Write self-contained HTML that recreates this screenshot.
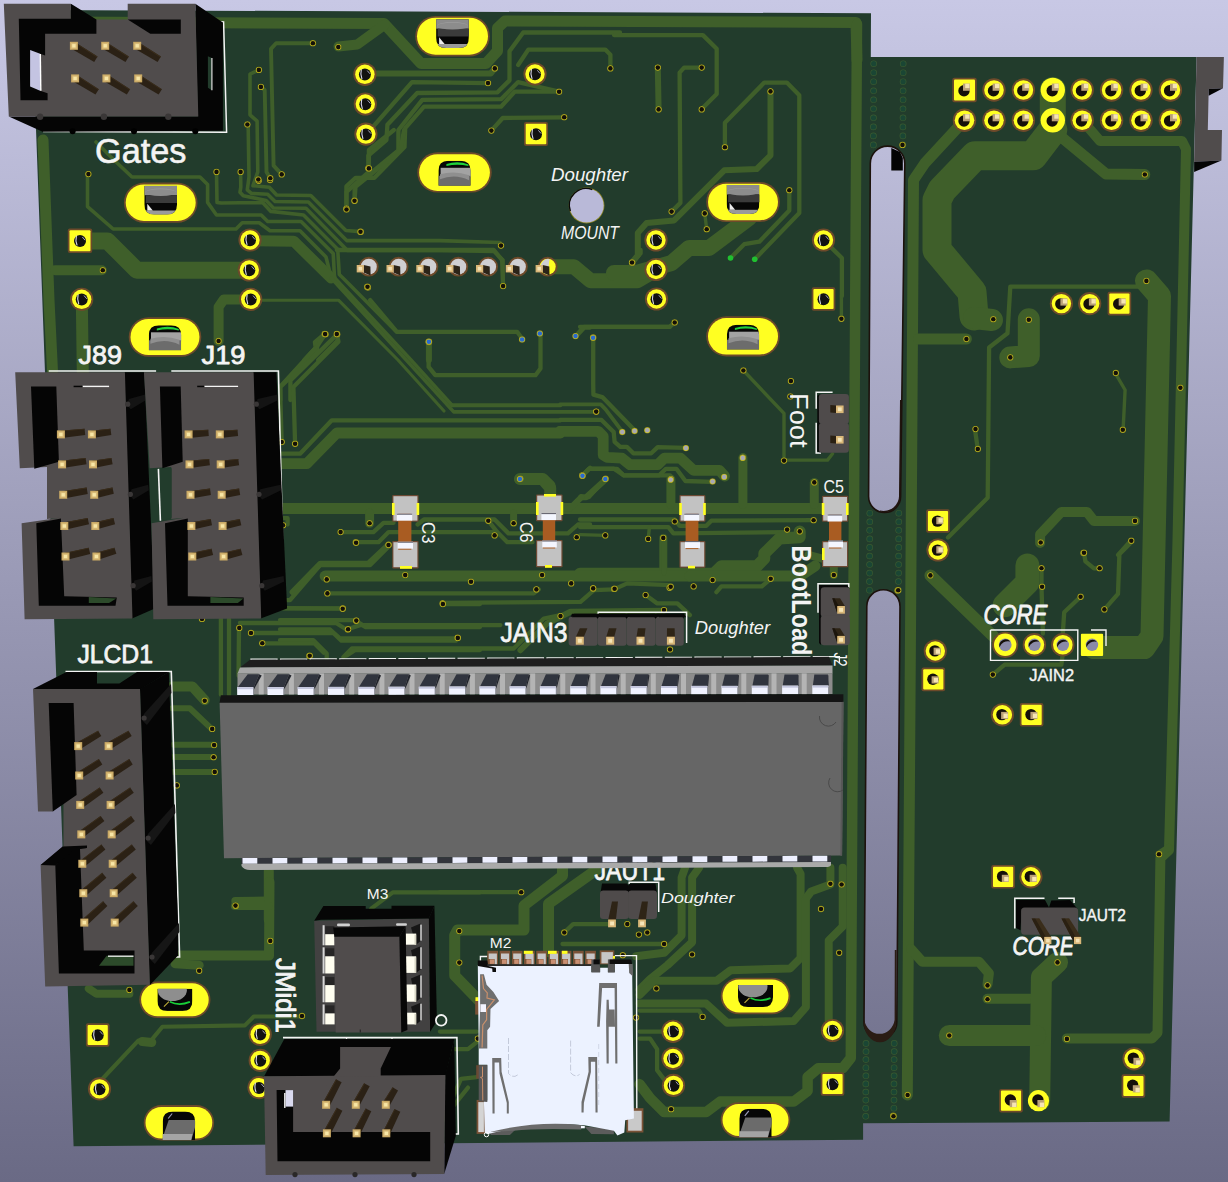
<!DOCTYPE html>
<html><head><meta charset="utf-8"><title>PCB 3D view</title>
<style>
html,body{margin:0;padding:0;background:#8a8aa8;overflow:hidden}
svg{display:block;font-family:"Liberation Sans",sans-serif}
</style></head><body>
<svg width="1228" height="1182" viewBox="0 0 1228 1182">
<defs>
<linearGradient id="bg" x1="0" y1="0" x2="0" y2="1"><stop offset="0" stop-color="#c8c8e5"/><stop offset="1" stop-color="#6a6a85"/></linearGradient>
<linearGradient id="slotg" x1="0" y1="0" x2="0" y2="1"><stop offset="0" stop-color="#c8c8e5"/><stop offset="1" stop-color="#6a6a85"/></linearGradient>
</defs>
<rect x="0" y="0" width="1228" height="1182" fill="url(#bg)"/>
<path d="M31.6,10 L871,13.3 L870.8,57 L1196.6,57 L1169.6,1121.6 L863.1,1123.2 L863.1,1139.7 L73.6,1146.3 Z M870.3,163.4 A17.2,17.2 0 0 1 904.8,163.4 L900.6,496.5 A16,16 0 0 1 868.6,496.5 Z M866.8,606.4 A16.6,16.6 0 0 1 900,606.4 L896.8,1022.2 A16.4,16.4 0 0 1 864,1022.2 Z" fill="#223c2c" fill-rule="evenodd"/>
<path d="M870.3,163.4 A17.2,17.2 0 0 1 904.8,163.4 L900.6,496.5 A16,16 0 0 1 868.6,496.5 Z" fill="none" stroke="#1c120c" stroke-width="1.6"/>
<path d="M866.8,606.4 A16.6,16.6 0 0 1 900,606.4 L896.8,1022.2 A16.4,16.4 0 0 1 864,1022.2 Z" fill="none" stroke="#1c120c" stroke-width="1.6"/>
<polygon points="891.3,148 900,152 902.8,158 902.8,170.6 891.3,170.6" fill="#030303"/>
<path d="M863.6,1022 A16.1,20 0 0 0 896.2,1022 L896.6,950 L894.8,950 L894.6,1020 A15.3,16.5 0 0 1 864.4,1020 Z" fill="#2a1c14"/>
<path d="M880,511.5 A16,15.5 0 0 0 900.6,497 L901.6,400 L900,400 L899,495 A15.4,15 0 0 1 880,510.5 Z" fill="#20140e"/>
<polyline points="60,22 384,23.5 421,63.5 486,63.5 497.5,51 497.5,28 505,21 856,22.5 857,60" fill="none" stroke="#3f5f2a" stroke-width="11" stroke-linejoin="round" stroke-linecap="round"/>
<polyline points="384.7,24.6 357.3,44.5 338.5,46.5" fill="none" stroke="#3f5f2a" stroke-width="10" stroke-linejoin="round" stroke-linecap="round"/>
<polyline points="376.1,73.5 490.7,73.5 494.8,68.4" fill="none" stroke="#3f5f2a" stroke-width="6" stroke-linejoin="round" stroke-linecap="round"/>
<polyline points="372.7,127.2 412,82.1 488,83.1" fill="none" stroke="#3f5f2a" stroke-width="4.3" stroke-linejoin="round" stroke-linecap="round"/>
<polyline points="368.3,168.3 368.3,155.6 386.4,140.2 387.4,124.8 417.2,93 497.5,92.3 509.5,80.4 509.5,51.3 523.2,32.5 620,32.5" fill="none" stroke="#3f5f2a" stroke-width="4.3" stroke-linejoin="round" stroke-linecap="round"/>
<polyline points="354.6,200.8 354.6,186.4 398.4,150.5 398.4,130 422.3,99.9 501,99.2 518.1,82.1 559.1,91.7" fill="none" stroke="#3f5f2a" stroke-width="4.3" stroke-linejoin="round" stroke-linecap="round"/>
<polyline points="346.4,208.6 346.4,186.4 355.6,177.8 374.4,177.8 404.5,147.1 405.2,128.2 424,106.7 501,106.7 514.6,91.7 559.1,91.7" fill="none" stroke="#3f5f2a" stroke-width="4.3" stroke-linejoin="round" stroke-linecap="round"/>
<polyline points="491.4,130.6 502.7,118 564.2,117.3" fill="none" stroke="#3f5f2a" stroke-width="4.3" stroke-linejoin="round" stroke-linecap="round"/>
<polyline points="518.1,65 528.3,49.6 605.3,49.6 610.4,54.7 610.4,68.4" fill="none" stroke="#3f5f2a" stroke-width="4.3" stroke-linejoin="round" stroke-linecap="round"/>
<polyline points="43,140 49,300 52.5,371" fill="none" stroke="#3f5f2a" stroke-width="11" stroke-linejoin="round" stroke-linecap="round"/>
<polyline points="91.8,240.9 107.5,240.9 136.8,270.2 240.4,270.2" fill="none" stroke="#3f5f2a" stroke-width="17" stroke-linejoin="round" stroke-linecap="round"/>
<polyline points="55,270.2 101.8,270.2" fill="none" stroke="#3f5f2a" stroke-width="10" stroke-linejoin="round" stroke-linecap="round"/>
<polyline points="81.8,299.6 82.8,373.7" fill="none" stroke="#3f5f2a" stroke-width="12" stroke-linejoin="round" stroke-linecap="round"/>
<polyline points="251,299.6 223.7,299.6 218.6,307 218.6,341" fill="none" stroke="#3f5f2a" stroke-width="10" stroke-linejoin="round" stroke-linecap="round"/>
<polyline points="368.9,168.4 368.9,150 393.9,130" fill="none" stroke="#3f5f2a" stroke-width="4.3" stroke-linejoin="round" stroke-linecap="round"/>
<polyline points="354.5,200.8 355.5,186.8 400.6,150 404,130" fill="none" stroke="#3f5f2a" stroke-width="4.3" stroke-linejoin="round" stroke-linecap="round"/>
<polyline points="346.5,209.5 346.5,191.8 367.2,173.4" fill="none" stroke="#3f5f2a" stroke-width="4.3" stroke-linejoin="round" stroke-linecap="round"/>
<polyline points="325.5,334.3 317.1,343.7 317.1,350.4 280.4,387.1 280.4,400.1" fill="none" stroke="#3f5f2a" stroke-width="4.3" stroke-linejoin="round" stroke-linecap="round"/>
<polyline points="337.2,334.3 290.4,380.4 290.4,400.1" fill="none" stroke="#3f5f2a" stroke-width="4.3" stroke-linejoin="round" stroke-linecap="round"/>
<polyline points="312.9,43.3 276.1,43.3 271,48.9 273.6,165.6 281.7,174.4" fill="none" stroke="#3f5f2a" stroke-width="3.9" stroke-linejoin="round" stroke-linecap="round"/>
<polyline points="258.9,69.9 250,74.2 250,114.8 257.1,121.2 257.8,171.9 253,185.7 269.3,187.3 276.6,195 310.8,195.5 345.9,230.5 360.5,231.6" fill="none" stroke="#3f5f2a" stroke-width="3.6" stroke-linejoin="round" stroke-linecap="round"/>
<polyline points="260.9,86.9 264.7,90 266.5,171.9 270.3,178.3" fill="none" stroke="#3f5f2a" stroke-width="3.9" stroke-linejoin="round" stroke-linecap="round"/>
<polyline points="247.4,124.5 248.2,127.5 249,177 247.3,189.8 251.4,193.4 267.7,194.2 275,201.5 308.4,202 346.7,240.6 440,240.6 500,242.5" fill="none" stroke="#3f5f2a" stroke-width="3.6" stroke-linejoin="round" stroke-linecap="round"/>
<polyline points="240.6,171.9 240.8,187.1 240,192.2 243.3,195.8 266.1,200.4 273.4,208 306,208.3 347.5,250.4 440,250.4 494,251.5 503,260 503,285" fill="none" stroke="#3f5f2a" stroke-width="3.6" stroke-linejoin="round" stroke-linecap="round"/>
<polyline points="216.5,171.9 217,202.4 221,203 240,202.8 262.8,202.8 270.9,211.4 303.5,215 337.7,249.2 339.3,274.5 344.2,279.3 396.4,331.8 440,331.8" fill="none" stroke="#3f5f2a" stroke-width="3.6" stroke-linejoin="round" stroke-linecap="round"/>
<polyline points="96,142 114,160 132,177 200,177 207.6,184.6 207.6,202.4 216.5,215 240,215 261.2,215 267.7,221.5 301.1,221.5 333.2,253.6 334.5,277.7 411,360 452,405.3" fill="none" stroke="#3f5f2a" stroke-width="3.6" stroke-linejoin="round" stroke-linecap="round"/>
<polyline points="87.5,174 87.5,206.6 113.2,229 236,229 242.2,222.7 259.2,222.7 270,230.8 300,230.8 326,257 331,277" fill="none" stroke="#3f5f2a" stroke-width="3.6" stroke-linejoin="round" stroke-linecap="round"/>
<polyline points="250.6,240.6 293.7,241.2 327.9,274.8 331.2,278" fill="none" stroke="#3f5f2a" stroke-width="11" stroke-linejoin="round" stroke-linecap="round"/>
<polyline points="331.2,278 453.7,411.9 595.6,411.9" fill="none" stroke="#3f5f2a" stroke-width="3.6" stroke-linejoin="round" stroke-linecap="round"/>
<polyline points="250.6,300.2 338.5,300.2 398,360 444,411" fill="none" stroke="#3f5f2a" stroke-width="3.1" stroke-linejoin="round" stroke-linecap="round"/>
<polyline points="452,405.3 560.5,405.3 560,404.4 600.7,404.4 605.6,409.3 622.7,432.1" fill="none" stroke="#3f5f2a" stroke-width="3.9" stroke-linejoin="round" stroke-linecap="round"/>
<polyline points="370.2,300.1 396.9,331.8 517.1,331.8 522.1,338.5" fill="none" stroke="#3f5f2a" stroke-width="4.3" stroke-linejoin="round" stroke-linecap="round"/>
<polyline points="324.7,333.9 314.9,342.1 315.7,347.8 304.3,360" fill="none" stroke="#3f5f2a" stroke-width="4.3" stroke-linejoin="round" stroke-linecap="round"/>
<polyline points="336.9,333.9 337.7,340.4 318.2,360" fill="none" stroke="#3f5f2a" stroke-width="4.3" stroke-linejoin="round" stroke-linecap="round"/>
<polyline points="428.9,341.7 428.9,360" fill="none" stroke="#3f5f2a" stroke-width="6" stroke-linejoin="round" stroke-linecap="round"/>
<polyline points="281.7,463.7 306.7,463.7 336.8,433 560.5,433 560,431.3 598.3,431.3 603.2,436.2 603.2,454.9 607.2,457.4 621.9,458.2 630,464.7 657.7,464.7 664.2,458.2 680.5,458.2 693.6,470.4 719.6,470.4 724.5,476.1" fill="none" stroke="#3f5f2a" stroke-width="10.8" stroke-linejoin="round" stroke-linecap="round"/>
<polyline points="281.7,453.7 300.1,453.7 331.8,420.3 560.5,420.3 560,419.9 601.5,419.9 613.7,432.1 614.6,441.9 620.3,446.8 626.8,446.8 633.3,453.3 651.2,453.3 657.7,447.1 685.4,447.8" fill="none" stroke="#3f5f2a" stroke-width="4.3" stroke-linejoin="round" stroke-linecap="round"/>
<polyline points="428.6,341.8 428.6,366.9 435.3,375.2 535.5,375.2 540.5,368.5 540.5,333.5" fill="none" stroke="#3f5f2a" stroke-width="4.3" stroke-linejoin="round" stroke-linecap="round"/>
<polyline points="325.1,334.1 316.8,346.8 280,386.9 281.7,442" fill="none" stroke="#3f5f2a" stroke-width="4.3" stroke-linejoin="round" stroke-linecap="round"/>
<polyline points="336.8,334.1 338.5,341.8 293.4,386.9 295.1,443.7" fill="none" stroke="#3f5f2a" stroke-width="4.3" stroke-linejoin="round" stroke-linecap="round"/>
<polyline points="575.5,336.1 583.9,326.8 670,326.8" fill="none" stroke="#3f5f2a" stroke-width="4.3" stroke-linejoin="round" stroke-linecap="round"/>
<polyline points="593.2,337.5 593.2,383.6 593.4,394.7 602.3,397.1 634.9,430.5" fill="none" stroke="#3f5f2a" stroke-width="4.3" stroke-linejoin="round" stroke-linecap="round"/>
<polyline points="547.1,266.7 573.9,266.7 590.6,280.7 637.3,280.7 655.7,270" fill="none" stroke="#3f5f2a" stroke-width="15" stroke-linejoin="round" stroke-linecap="round"/>
<polyline points="336.8,250 493.7,250 502.1,260 503.1,286.1" fill="none" stroke="#3f5f2a" stroke-width="4.3" stroke-linejoin="round" stroke-linecap="round"/>
<polyline points="520.4,478.7 543.8,478.7 550.5,485.4 551.2,497.1" fill="none" stroke="#3f5f2a" stroke-width="10" stroke-linejoin="round" stroke-linecap="round"/>
<polyline points="582.2,475.4 588.9,468.7 613.9,468.7 623.9,475.4 670,475.4" fill="none" stroke="#3f5f2a" stroke-width="4.3" stroke-linejoin="round" stroke-linecap="round"/>
<polyline points="605.6,478.7 588.9,497.1 582.2,497.1" fill="none" stroke="#3f5f2a" stroke-width="4.3" stroke-linejoin="round" stroke-linecap="round"/>
<polyline points="632.3,262.7 640.6,253.3 640.6,250" fill="none" stroke="#3f5f2a" stroke-width="4.3" stroke-linejoin="round" stroke-linecap="round"/>
<polyline points="282,508.6 848,508.6" fill="none" stroke="#3f5f2a" stroke-width="11" stroke-linejoin="round" stroke-linecap="round"/>
<polyline points="280,518.2 287.6,518.2 287.6,524.5" fill="none" stroke="#3f5f2a" stroke-width="4.3" stroke-linejoin="round" stroke-linecap="round"/>
<polyline points="369.6,523.3 369.6,513.2" fill="none" stroke="#3f5f2a" stroke-width="9" stroke-linejoin="round" stroke-linecap="round"/>
<polyline points="340.6,532.1 373.4,532.1 383.5,522.8 393.6,522.8" fill="none" stroke="#3f5f2a" stroke-width="4.3" stroke-linejoin="round" stroke-linecap="round"/>
<polyline points="355.8,542.2 378.5,542.2 388.6,532.1 497.2,532.1 507.3,542.2 532.5,542.2" fill="none" stroke="#3f5f2a" stroke-width="4.3" stroke-linejoin="round" stroke-linecap="round"/>
<polyline points="417.6,524.5 423.9,519.5 494.6,519.5 508.5,533.4 567.9,533.4 578,524.5 590.1,524.5" fill="none" stroke="#3f5f2a" stroke-width="4.3" stroke-linejoin="round" stroke-linecap="round"/>
<polyline points="388.6,544.7 368.4,563.7 320.4,563.7 292.6,592.2" fill="none" stroke="#3f5f2a" stroke-width="6" stroke-linejoin="round" stroke-linecap="round"/>
<polyline points="488.3,520.7 497.2,532.1" fill="none" stroke="#3f5f2a" stroke-width="4.3" stroke-linejoin="round" stroke-linecap="round"/>
<polyline points="513.6,523.3 513.6,513.2" fill="none" stroke="#3f5f2a" stroke-width="7" stroke-linejoin="round" stroke-linecap="round"/>
<polyline points="519.9,479.1 542.6,479.1 550.2,487.9 550.2,496" fill="none" stroke="#3f5f2a" stroke-width="12" stroke-linejoin="round" stroke-linecap="round"/>
<polyline points="581.8,475.8 590.1,467.7" fill="none" stroke="#3f5f2a" stroke-width="4.3" stroke-linejoin="round" stroke-linecap="round"/>
<polyline points="576.7,335.9 584.3,327.6 590.1,327.6" fill="none" stroke="#3f5f2a" stroke-width="4.3" stroke-linejoin="round" stroke-linecap="round"/>
<polyline points="857,24 855.2,300 852.9,700 850.8,1058 842.7,1068.3 818.2,1068.3 807.6,1077.1 807.6,1091.1 793.6,1101.6 720.1,1101.6 706.1,1112.1 664.1,1112.1 650.1,1098.1 639.6,1084.1" fill="none" stroke="#3f5f2a" stroke-width="10.5" stroke-linejoin="round" stroke-linecap="round"/>
<polyline points="674.7,322.5 669.6,326.8 580,326.8" fill="none" stroke="#3f5f2a" stroke-width="4.3" stroke-linejoin="round" stroke-linecap="round"/>
<polyline points="670.9,479.1 670.9,504.3" fill="none" stroke="#3f5f2a" stroke-width="9" stroke-linejoin="round" stroke-linecap="round"/>
<polyline points="742.9,457.6 742.9,504.3" fill="none" stroke="#3f5f2a" stroke-width="9" stroke-linejoin="round" stroke-linecap="round"/>
<polyline points="814.3,482.4 814.3,504.3" fill="none" stroke="#3f5f2a" stroke-width="9" stroke-linejoin="round" stroke-linecap="round"/>
<polyline points="743.4,370.5 784,413.4 784,460.1 827.5,460.1 832.5,453.8" fill="none" stroke="#3f5f2a" stroke-width="3.4" stroke-linejoin="round" stroke-linecap="round"/>
<polyline points="580,519.5 674.7,519.5 679.7,525.8 706.3,525.8 711.3,520.7 813.6,520.2" fill="none" stroke="#3f5f2a" stroke-width="4.3" stroke-linejoin="round" stroke-linecap="round"/>
<polyline points="580,527.1 668.4,527.1 673.4,533.4 787.1,532.1" fill="none" stroke="#3f5f2a" stroke-width="4.3" stroke-linejoin="round" stroke-linecap="round"/>
<polyline points="799.7,531.4 799.7,537.2 779.5,538.4 764.3,553.6 764.3,558.6 756.8,566.2 721.4,566.2 713.8,573.8 580,573.8" fill="none" stroke="#3f5f2a" stroke-width="12" stroke-linejoin="round" stroke-linecap="round"/>
<polyline points="663.3,537.9 663.3,571.3" fill="none" stroke="#3f5f2a" stroke-width="8" stroke-linejoin="round" stroke-linecap="round"/>
<polyline points="648.2,538.9 649.4,527.1" fill="none" stroke="#3f5f2a" stroke-width="3.4" stroke-linejoin="round" stroke-linecap="round"/>
<polyline points="605.3,535.4 580,534.6" fill="none" stroke="#3f5f2a" stroke-width="3.4" stroke-linejoin="round" stroke-linecap="round"/>
<polyline points="833.8,575 833.8,567.5" fill="none" stroke="#3f5f2a" stroke-width="8" stroke-linejoin="round" stroke-linecap="round"/>
<polyline points="808.5,554.8 822.4,558.6" fill="none" stroke="#3f5f2a" stroke-width="8" stroke-linejoin="round" stroke-linecap="round"/>
<polyline points="841.4,296 841.4,318.7" fill="none" stroke="#3f5f2a" stroke-width="3.4" stroke-linejoin="round" stroke-linecap="round"/>
<polyline points="770.7,578.8 761.8,586.4 721.4,586.4 716.4,592.2" fill="none" stroke="#3f5f2a" stroke-width="4.3" stroke-linejoin="round" stroke-linecap="round"/>
<polyline points="582.8,475.3 589.3,468.8 617,468.8 623.5,475.3 659.3,475.3 665.9,468.8 676.4,468.8 685.4,481 712.3,481.8" fill="none" stroke="#3f5f2a" stroke-width="4.3" stroke-linejoin="round" stroke-linecap="round"/>
<polyline points="605.9,479.3 586.1,497.3 581.2,497.3" fill="none" stroke="#3f5f2a" stroke-width="6" stroke-linejoin="round" stroke-linecap="round"/>
<polyline points="581.2,497.3 569.8,508.7 545,508.6" fill="none" stroke="#3f5f2a" stroke-width="6" stroke-linejoin="round" stroke-linecap="round"/>
<circle cx="596.2" cy="411.8" r="3" fill="#c8a020"/>
<polyline points="614,35.1 702.9,35.1 716.7,48.8 716.7,93.9 701.7,108.9" fill="none" stroke="#3f5f2a" stroke-width="4.3" stroke-linejoin="round" stroke-linecap="round"/>
<polyline points="657.8,67.6 658.6,109.4" fill="none" stroke="#3f5f2a" stroke-width="6" stroke-linejoin="round" stroke-linecap="round"/>
<polyline points="701.7,67.6 684.1,67.6 679.6,72.6 680.4,202.9 671.6,211.6" fill="none" stroke="#3f5f2a" stroke-width="4.3" stroke-linejoin="round" stroke-linecap="round"/>
<polyline points="770.5,91.4 770.5,155.3 756.7,169 724.2,170.3 674.1,220.4 646.6,222.9 637.8,232.9 637.8,255.4 632,262.5" fill="none" stroke="#3f5f2a" stroke-width="6" stroke-linejoin="round" stroke-linecap="round"/>
<polyline points="724.9,147.3 724.9,122.7 764.3,82.6 786.8,82.6 799.3,95.2 799.3,212.9 755.5,258.5" fill="none" stroke="#3f5f2a" stroke-width="4.3" stroke-linejoin="round" stroke-linecap="round"/>
<polyline points="789.3,190.3 789.3,210.4 759.3,241.7 744.2,244.2 730.5,258" fill="none" stroke="#3f5f2a" stroke-width="4.3" stroke-linejoin="round" stroke-linecap="round"/>
<polyline points="704.7,213.4 706.7,229.2" fill="none" stroke="#3f5f2a" stroke-width="3.4" stroke-linejoin="round" stroke-linecap="round"/>
<polyline points="614,273 636.5,273 671.6,263 689.1,247.9 709.2,247.9 749.2,217.9" fill="none" stroke="#3f5f2a" stroke-width="16" stroke-linejoin="round" stroke-linecap="round"/>
<polyline points="823.9,240.4 841.9,258 841.9,296" fill="none" stroke="#3f5f2a" stroke-width="4.3" stroke-linejoin="round" stroke-linecap="round"/>
<polyline points="325.1,576.1 690,576.1" fill="none" stroke="#3f5f2a" stroke-width="11" stroke-linejoin="round" stroke-linecap="round"/>
<polyline points="690,576 800,576 815,566" fill="none" stroke="#3f5f2a" stroke-width="11" stroke-linejoin="round" stroke-linecap="round"/>
<polyline points="326.7,593.4 533.8,593.4 538.8,589.4" fill="none" stroke="#3f5f2a" stroke-width="4.3" stroke-linejoin="round" stroke-linecap="round"/>
<polyline points="441.9,602.8 580.5,601.8 593.9,590.1 613.9,589.4" fill="none" stroke="#3f5f2a" stroke-width="4.3" stroke-linejoin="round" stroke-linecap="round"/>
<polyline points="280,600.1 290,600.1 320.1,565 370.2,565 390.2,545" fill="none" stroke="#3f5f2a" stroke-width="4.3" stroke-linejoin="round" stroke-linecap="round"/>
<polyline points="280,608.4 341.8,608.4" fill="none" stroke="#3f5f2a" stroke-width="4.3" stroke-linejoin="round" stroke-linecap="round"/>
<polyline points="280,620.1 355.1,620.1" fill="none" stroke="#3f5f2a" stroke-width="4.3" stroke-linejoin="round" stroke-linecap="round"/>
<polyline points="346.8,629.5 360.1,625.1 500.4,625.1" fill="none" stroke="#3f5f2a" stroke-width="4.3" stroke-linejoin="round" stroke-linecap="round"/>
<polyline points="280,629.5 330.1,629.5 340.1,638.5 457,638.5" fill="none" stroke="#3f5f2a" stroke-width="4.3" stroke-linejoin="round" stroke-linecap="round"/>
<polyline points="280,640.2 313.4,640.2 326.7,653.5 326.7,669.9" fill="none" stroke="#3f5f2a" stroke-width="4.3" stroke-linejoin="round" stroke-linecap="round"/>
<polyline points="343.4,656.9 351.8,648.5 513.7,648.5 543.8,618.5 560.5,615.1" fill="none" stroke="#3f5f2a" stroke-width="4.3" stroke-linejoin="round" stroke-linecap="round"/>
<polyline points="520.4,650.2 547.1,623.5 570.5,611.8 664,610.8" fill="none" stroke="#3f5f2a" stroke-width="6" stroke-linejoin="round" stroke-linecap="round"/>
<polyline points="645.6,595.1 657.3,603.4 677.3,603.4 690,615.1" fill="none" stroke="#3f5f2a" stroke-width="4.3" stroke-linejoin="round" stroke-linecap="round"/>
<polyline points="613.9,589.4 627.2,583.4 670.7,585.1" fill="none" stroke="#3f5f2a" stroke-width="4.3" stroke-linejoin="round" stroke-linecap="round"/>
<polyline points="664,543.3 664,573.4" fill="none" stroke="#3f5f2a" stroke-width="4.3" stroke-linejoin="round" stroke-linecap="round"/>
<polyline points="440,892.2 521.2,892.2" fill="none" stroke="#3f5f2a" stroke-width="4.3" stroke-linejoin="round" stroke-linecap="round"/>
<polyline points="562.5,867.7 562.5,875.8 524,905.5 524,930 457.5,930 454.7,935.3 454.7,975.5 478.5,1000.1" fill="none" stroke="#3f5f2a" stroke-width="11" stroke-linejoin="round" stroke-linecap="round"/>
<polyline points="599.3,867.7 548.5,903.8 548.5,951.7" fill="none" stroke="#3f5f2a" stroke-width="11" stroke-linejoin="round" stroke-linecap="round"/>
<polyline points="564.3,932.5 573.1,924.1 608.1,924.1" fill="none" stroke="#3f5f2a" stroke-width="4.3" stroke-linejoin="round" stroke-linecap="round"/>
<polyline points="562.5,944 664.1,944" fill="none" stroke="#3f5f2a" stroke-width="4.3" stroke-linejoin="round" stroke-linecap="round"/>
<polyline points="685.1,867.7 681.6,877.5 681.6,935.3 664.1,952.8 636.1,956.3" fill="none" stroke="#3f5f2a" stroke-width="8" stroke-linejoin="round" stroke-linecap="round"/>
<polyline points="699.1,867.7 692.1,877.5 692.1,942.3 667.6,965 650.1,979 639.6,989.6" fill="none" stroke="#3f5f2a" stroke-width="8" stroke-linejoin="round" stroke-linecap="round"/>
<polyline points="797.1,867.7 800.6,874 800.6,958 790.1,968.5 730.6,970.3 716.6,980.8 653.6,980.8 639.6,994.8" fill="none" stroke="#3f5f2a" stroke-width="8" stroke-linejoin="round" stroke-linecap="round"/>
<polyline points="830.4,867.7 830.4,884.5 811.1,891.5 805.9,898.5 805.9,1007.1 793.6,1021.1 727.1,1022.8 706.1,1003.6 639.6,1003.6" fill="none" stroke="#3f5f2a" stroke-width="8" stroke-linejoin="round" stroke-linecap="round"/>
<polyline points="842.7,867.7 842.7,926.5 828.7,940.5 828.7,1021.1" fill="none" stroke="#3f5f2a" stroke-width="8" stroke-linejoin="round" stroke-linecap="round"/>
<polyline points="639.6,1010.6 699.1,1010.6 702.6,1016.9" fill="none" stroke="#3f5f2a" stroke-width="4.3" stroke-linejoin="round" stroke-linecap="round"/>
<polyline points="639.6,1031.6 664.1,1031.6" fill="none" stroke="#3f5f2a" stroke-width="4.3" stroke-linejoin="round" stroke-linecap="round"/>
<polyline points="639.6,1038.6 650.1,1038.6 657.1,1049.1 657.1,1070.1 667.6,1084.1" fill="none" stroke="#3f5f2a" stroke-width="4.3" stroke-linejoin="round" stroke-linecap="round"/>
<polyline points="440,1031.6 476.8,1031.6" fill="none" stroke="#3f5f2a" stroke-width="4.3" stroke-linejoin="round" stroke-linecap="round"/>
<polyline points="440,1049.1 468,1049.1 476.8,1042.1" fill="none" stroke="#3f5f2a" stroke-width="4.3" stroke-linejoin="round" stroke-linecap="round"/>
<polyline points="440,1126.1 461,1078.8 476.8,1077.1" fill="none" stroke="#3f5f2a" stroke-width="4.3" stroke-linejoin="round" stroke-linecap="round"/>
<polyline points="454,1105.1 468,1087.6" fill="none" stroke="#3f5f2a" stroke-width="4.3" stroke-linejoin="round" stroke-linecap="round"/>
<polyline points="220.9,618.9 220.9,694.7" fill="none" stroke="#3f5f2a" stroke-width="4.3" stroke-linejoin="round" stroke-linecap="round"/>
<polyline points="229,618.9 229,694.7" fill="none" stroke="#3f5f2a" stroke-width="4.3" stroke-linejoin="round" stroke-linecap="round"/>
<polyline points="239,628.4 238.5,675.8" fill="none" stroke="#3f5f2a" stroke-width="4.3" stroke-linejoin="round" stroke-linecap="round"/>
<polyline points="172.2,686.6 192.5,686.6 204.7,700.2" fill="none" stroke="#3f5f2a" stroke-width="10" stroke-linejoin="round" stroke-linecap="round"/>
<polyline points="172.2,708.3 189.8,708.3 211.4,728.6" fill="none" stroke="#3f5f2a" stroke-width="6" stroke-linejoin="round" stroke-linecap="round"/>
<polyline points="173.5,744.8 214.1,744.8" fill="none" stroke="#3f5f2a" stroke-width="6" stroke-linejoin="round" stroke-linecap="round"/>
<polyline points="173.5,757 212.8,757" fill="none" stroke="#3f5f2a" stroke-width="6" stroke-linejoin="round" stroke-linecap="round"/>
<polyline points="173.5,771.9 214.1,771.9" fill="none" stroke="#3f5f2a" stroke-width="6" stroke-linejoin="round" stroke-linecap="round"/>
<polyline points="268.8,870.7 268.8,920" fill="none" stroke="#3f5f2a" stroke-width="10" stroke-linejoin="round" stroke-linecap="round"/>
<polyline points="235.3,901 265.6,900.5" fill="none" stroke="#3f5f2a" stroke-width="8" stroke-linejoin="round" stroke-linecap="round"/>
<polyline points="371.2,908.6 392.8,892.4 480,892.4" fill="none" stroke="#3f5f2a" stroke-width="4.3" stroke-linejoin="round" stroke-linecap="round"/>
<polyline points="250.7,633 333.3,633 341.4,640.6 456.4,640.6" fill="none" stroke="#3f5f2a" stroke-width="4.3" stroke-linejoin="round" stroke-linecap="round"/>
<polyline points="239.9,623 336,623 346.8,629.8" fill="none" stroke="#3f5f2a" stroke-width="4.3" stroke-linejoin="round" stroke-linecap="round"/>
<polyline points="262.9,643.3 314.3,643.3 323.8,652.8" fill="none" stroke="#3f5f2a" stroke-width="4.3" stroke-linejoin="round" stroke-linecap="round"/>
<polyline points="284.5,608.1 342.7,608.7" fill="none" stroke="#3f5f2a" stroke-width="4.3" stroke-linejoin="round" stroke-linecap="round"/>
<polyline points="356.3,621.1 365.7,627.1 480,627.1" fill="none" stroke="#3f5f2a" stroke-width="4.3" stroke-linejoin="round" stroke-linecap="round"/>
<polyline points="346.8,655.5 354.9,650.1 480,650.1" fill="none" stroke="#3f5f2a" stroke-width="4.3" stroke-linejoin="round" stroke-linecap="round"/>
<polyline points="442.9,604.1 480,604.1" fill="none" stroke="#3f5f2a" stroke-width="4.3" stroke-linejoin="round" stroke-linecap="round"/>
<polyline points="175.1,955.6 269,955.6 269.5,882" fill="none" stroke="#3f5f2a" stroke-width="10" stroke-linejoin="round" stroke-linecap="round"/>
<polyline points="175.1,963.7 199.2,965.2" fill="none" stroke="#3f5f2a" stroke-width="9" stroke-linejoin="round" stroke-linecap="round"/>
<polyline points="88.8,988.6 96.4,993.7 129.4,993.7" fill="none" stroke="#3f5f2a" stroke-width="8" stroke-linejoin="round" stroke-linecap="round"/>
<polyline points="99,1082.5 138.3,1040.6 151,1040.6 162.4,1026.7 244.9,1025.4 253.8,1016.5 302,1016.5" fill="none" stroke="#3f5f2a" stroke-width="4.1" stroke-linejoin="round" stroke-linecap="round"/>
<polyline points="234.8,906.1 269,906.1" fill="none" stroke="#3f5f2a" stroke-width="8" stroke-linejoin="round" stroke-linecap="round"/>
<polyline points="142.1,1041.4 151.8,1042.4" fill="none" stroke="#3f5f2a" stroke-width="9" stroke-linejoin="round" stroke-linecap="round"/>
<polyline points="964.5,120.3 925,163 913.5,180 911,560 907.3,1095" fill="none" stroke="#3f5f2a" stroke-width="11" stroke-linejoin="round" stroke-linecap="round"/>
<polyline points="1052.8,90 1052.8,133" fill="none" stroke="#3f5f2a" stroke-width="26" stroke-linejoin="round" stroke-linecap="round"/>
<polyline points="1052.8,130 1033,155.8 975,155.8 942,190 937,200 937,250 972,292 974,316" fill="none" stroke="#3f5f2a" stroke-width="29" stroke-linejoin="round" stroke-linecap="round"/>
<polyline points="974,318 992,320" fill="none" stroke="#3f5f2a" stroke-width="22" stroke-linejoin="round" stroke-linecap="round"/>
<polyline points="1052.8,130 1106,174 1144.8,174.5" fill="none" stroke="#3f5f2a" stroke-width="11" stroke-linejoin="round" stroke-linecap="round"/>
<polyline points="1082.2,120.3 1100,141 1182,141 1186,149 1177.5,540 1169,850 1160.4,858 1157.5,1032.7 1151.9,1038.4 1066.9,1038.4" fill="none" stroke="#3f5f2a" stroke-width="10" stroke-linejoin="round" stroke-linecap="round"/>
<polyline points="918.3,339 966.4,339" fill="none" stroke="#3f5f2a" stroke-width="11" stroke-linejoin="round" stroke-linecap="round"/>
<polyline points="1146.4,280.9 1137.9,286.6 1010.3,286.6 1007.5,333.3 989.1,347.5 987.7,497.7 948,537.4" fill="none" stroke="#3f5f2a" stroke-width="4.3" stroke-linejoin="round" stroke-linecap="round"/>
<polyline points="1028.8,319.2 1028.8,356 1010.3,357.4" fill="none" stroke="#3f5f2a" stroke-width="22" stroke-linejoin="round" stroke-linecap="round"/>
<polyline points="1146.5,281 1159.5,296 1152,636 1144,647.6 1094,647.6" fill="none" stroke="#3f5f2a" stroke-width="23" stroke-linejoin="round" stroke-linecap="round"/>
<polyline points="1115.2,373 1125.1,390 1123.1,429.7" fill="none" stroke="#3f5f2a" stroke-width="3.4" stroke-linejoin="round" stroke-linecap="round"/>
<polyline points="974.9,429.1 977.8,449" fill="none" stroke="#3f5f2a" stroke-width="4.3" stroke-linejoin="round" stroke-linecap="round"/>
<polyline points="1135,520.9 1093.9,520.9 1086.9,511.9 1061.4,511.9 1040.1,534.5 1040.1,543" fill="none" stroke="#3f5f2a" stroke-width="10" stroke-linejoin="round" stroke-linecap="round"/>
<polyline points="1130.8,540.8 1118,554.9" fill="none" stroke="#3f5f2a" stroke-width="4.3" stroke-linejoin="round" stroke-linecap="round"/>
<polyline points="930.4,575.4 993.3,636.3" fill="none" stroke="#3f5f2a" stroke-width="12" stroke-linejoin="round" stroke-linecap="round"/>
<polyline points="1027.4,565.5 1027.4,582.5 1004.7,605.2" fill="none" stroke="#3f5f2a" stroke-width="24" stroke-linejoin="round" stroke-linecap="round"/>
<polyline points="1041.5,568.3 1041.5,586.8 1042.9,633.5" fill="none" stroke="#3f5f2a" stroke-width="4.3" stroke-linejoin="round" stroke-linecap="round"/>
<polyline points="1080.6,596.7 1064.2,612.3 1062.8,633.5" fill="none" stroke="#3f5f2a" stroke-width="4.3" stroke-linejoin="round" stroke-linecap="round"/>
<polyline points="1130.8,542.8 1119.4,554.2 1118,593.8 1104.4,609.4" fill="none" stroke="#3f5f2a" stroke-width="4.3" stroke-linejoin="round" stroke-linecap="round"/>
<polyline points="1084,552.8 1085.4,561.3 1093.9,568.3 1099.6,568.3" fill="none" stroke="#3f5f2a" stroke-width="4.3" stroke-linejoin="round" stroke-linecap="round"/>
<polyline points="992.8,674.6 1004.7,664.7 1061.4,664.7 1062.8,653.3" fill="none" stroke="#3f5f2a" stroke-width="4.3" stroke-linejoin="round" stroke-linecap="round"/>
<polyline points="1159.1,854 1169,847.5" fill="none" stroke="#3f5f2a" stroke-width="7" stroke-linejoin="round" stroke-linecap="round"/>
<polyline points="911,949.1 922.3,961.8 979,961.8 988.9,973.2 987.5,984.5" fill="none" stroke="#3f5f2a" stroke-width="10" stroke-linejoin="round" stroke-linecap="round"/>
<polyline points="987.5,998.7 1030,998.7" fill="none" stroke="#3f5f2a" stroke-width="10" stroke-linejoin="round" stroke-linecap="round"/>
<polyline points="1057.5,962.4 1041.4,977.4 1039.7,1100.7" fill="none" stroke="#3f5f2a" stroke-width="21" stroke-linejoin="round" stroke-linecap="round"/>
<polyline points="949.3,1035.5 1035.7,1035.5" fill="none" stroke="#3f5f2a" stroke-width="21" stroke-linejoin="round" stroke-linecap="round"/>
<circle cx="873.7" cy="63.7" r="3.3" fill="#3a5a30"/>
<circle cx="873.7" cy="63.7" r="2.6" fill="#1a4634"/>
<circle cx="903.2" cy="63.7" r="3.3" fill="#3a5a30"/>
<circle cx="903.2" cy="63.7" r="2.6" fill="#1a4634"/>
<circle cx="873.7" cy="72.7" r="3.3" fill="#3a5a30"/>
<circle cx="873.7" cy="72.7" r="2.6" fill="#1a4634"/>
<circle cx="903.2" cy="72.7" r="3.3" fill="#3a5a30"/>
<circle cx="903.2" cy="72.7" r="2.6" fill="#1a4634"/>
<circle cx="873.6" cy="81.7" r="3.3" fill="#3a5a30"/>
<circle cx="873.6" cy="81.7" r="2.6" fill="#1a4634"/>
<circle cx="903.1" cy="81.7" r="3.3" fill="#3a5a30"/>
<circle cx="903.1" cy="81.7" r="2.6" fill="#1a4634"/>
<circle cx="873.6" cy="90.8" r="3.3" fill="#3a5a30"/>
<circle cx="873.6" cy="90.8" r="2.6" fill="#1a4634"/>
<circle cx="903.1" cy="90.8" r="3.3" fill="#3a5a30"/>
<circle cx="903.1" cy="90.8" r="2.6" fill="#1a4634"/>
<circle cx="873.6" cy="99.8" r="3.3" fill="#3a5a30"/>
<circle cx="873.6" cy="99.8" r="2.6" fill="#1a4634"/>
<circle cx="903.1" cy="99.8" r="3.3" fill="#3a5a30"/>
<circle cx="903.1" cy="99.8" r="2.6" fill="#1a4634"/>
<circle cx="873.5" cy="108.8" r="3.3" fill="#3a5a30"/>
<circle cx="873.5" cy="108.8" r="2.6" fill="#1a4634"/>
<circle cx="903" cy="108.8" r="3.3" fill="#3a5a30"/>
<circle cx="903" cy="108.8" r="2.6" fill="#1a4634"/>
<circle cx="873.5" cy="117.8" r="3.3" fill="#3a5a30"/>
<circle cx="873.5" cy="117.8" r="2.6" fill="#1a4634"/>
<circle cx="903" cy="117.8" r="3.3" fill="#3a5a30"/>
<circle cx="903" cy="117.8" r="2.6" fill="#1a4634"/>
<circle cx="873.4" cy="126.9" r="3.3" fill="#3a5a30"/>
<circle cx="873.4" cy="126.9" r="2.6" fill="#1a4634"/>
<circle cx="902.9" cy="126.9" r="3.3" fill="#3a5a30"/>
<circle cx="902.9" cy="126.9" r="2.6" fill="#1a4634"/>
<circle cx="873.4" cy="135.9" r="3.3" fill="#3a5a30"/>
<circle cx="873.4" cy="135.9" r="2.6" fill="#1a4634"/>
<circle cx="902.9" cy="135.9" r="3.3" fill="#3a5a30"/>
<circle cx="902.9" cy="135.9" r="2.6" fill="#1a4634"/>
<circle cx="873.4" cy="144.9" r="3.3" fill="#3a5a30"/>
<circle cx="873.4" cy="144.9" r="2.6" fill="#1a4634"/>
<circle cx="902.9" cy="144.9" r="3.3" fill="#3a5a30"/>
<circle cx="902.9" cy="144.9" r="2.6" fill="#1a4634"/>
<circle cx="869.8" cy="513.2" r="3.3" fill="#3a5a30"/>
<circle cx="869.8" cy="513.2" r="2.6" fill="#1a4634"/>
<circle cx="898.8" cy="513.2" r="3.3" fill="#3a5a30"/>
<circle cx="898.8" cy="513.2" r="2.6" fill="#1a4634"/>
<circle cx="869.8" cy="521.8" r="3.3" fill="#3a5a30"/>
<circle cx="869.8" cy="521.8" r="2.6" fill="#1a4634"/>
<circle cx="898.8" cy="521.8" r="3.3" fill="#3a5a30"/>
<circle cx="898.8" cy="521.8" r="2.6" fill="#1a4634"/>
<circle cx="869.7" cy="530.3" r="3.3" fill="#3a5a30"/>
<circle cx="869.7" cy="530.3" r="2.6" fill="#1a4634"/>
<circle cx="898.7" cy="530.3" r="3.3" fill="#3a5a30"/>
<circle cx="898.7" cy="530.3" r="2.6" fill="#1a4634"/>
<circle cx="869.7" cy="538.9" r="3.3" fill="#3a5a30"/>
<circle cx="869.7" cy="538.9" r="2.6" fill="#1a4634"/>
<circle cx="898.7" cy="538.9" r="3.3" fill="#3a5a30"/>
<circle cx="898.7" cy="538.9" r="2.6" fill="#1a4634"/>
<circle cx="869.7" cy="547.4" r="3.3" fill="#3a5a30"/>
<circle cx="869.7" cy="547.4" r="2.6" fill="#1a4634"/>
<circle cx="898.7" cy="547.4" r="3.3" fill="#3a5a30"/>
<circle cx="898.7" cy="547.4" r="2.6" fill="#1a4634"/>
<circle cx="869.6" cy="556" r="3.3" fill="#3a5a30"/>
<circle cx="869.6" cy="556" r="2.6" fill="#1a4634"/>
<circle cx="898.6" cy="556" r="3.3" fill="#3a5a30"/>
<circle cx="898.6" cy="556" r="2.6" fill="#1a4634"/>
<circle cx="869.6" cy="564.5" r="3.3" fill="#3a5a30"/>
<circle cx="869.6" cy="564.5" r="2.6" fill="#1a4634"/>
<circle cx="898.6" cy="564.5" r="3.3" fill="#3a5a30"/>
<circle cx="898.6" cy="564.5" r="2.6" fill="#1a4634"/>
<circle cx="869.6" cy="573.1" r="3.3" fill="#3a5a30"/>
<circle cx="869.6" cy="573.1" r="2.6" fill="#1a4634"/>
<circle cx="898.6" cy="573.1" r="3.3" fill="#3a5a30"/>
<circle cx="898.6" cy="573.1" r="2.6" fill="#1a4634"/>
<circle cx="869.5" cy="581.6" r="3.3" fill="#3a5a30"/>
<circle cx="869.5" cy="581.6" r="2.6" fill="#1a4634"/>
<circle cx="898.5" cy="581.6" r="3.3" fill="#3a5a30"/>
<circle cx="898.5" cy="581.6" r="2.6" fill="#1a4634"/>
<circle cx="869.5" cy="590.2" r="3.3" fill="#3a5a30"/>
<circle cx="869.5" cy="590.2" r="2.6" fill="#1a4634"/>
<circle cx="898.5" cy="590.2" r="3.3" fill="#3a5a30"/>
<circle cx="898.5" cy="590.2" r="2.6" fill="#1a4634"/>
<circle cx="866" cy="1043.4" r="3.3" fill="#3a5a30"/>
<circle cx="866" cy="1043.4" r="2.6" fill="#1a4634"/>
<circle cx="894.2" cy="1043.4" r="3.3" fill="#3a5a30"/>
<circle cx="894.2" cy="1043.4" r="2.6" fill="#1a4634"/>
<circle cx="866" cy="1051.5" r="3.3" fill="#3a5a30"/>
<circle cx="866" cy="1051.5" r="2.6" fill="#1a4634"/>
<circle cx="894.2" cy="1051.5" r="3.3" fill="#3a5a30"/>
<circle cx="894.2" cy="1051.5" r="2.6" fill="#1a4634"/>
<circle cx="865.9" cy="1059.6" r="3.3" fill="#3a5a30"/>
<circle cx="865.9" cy="1059.6" r="2.6" fill="#1a4634"/>
<circle cx="894.1" cy="1059.6" r="3.3" fill="#3a5a30"/>
<circle cx="894.1" cy="1059.6" r="2.6" fill="#1a4634"/>
<circle cx="865.9" cy="1067.7" r="3.3" fill="#3a5a30"/>
<circle cx="865.9" cy="1067.7" r="2.6" fill="#1a4634"/>
<circle cx="894.1" cy="1067.7" r="3.3" fill="#3a5a30"/>
<circle cx="894.1" cy="1067.7" r="2.6" fill="#1a4634"/>
<circle cx="865.9" cy="1075.8" r="3.3" fill="#3a5a30"/>
<circle cx="865.9" cy="1075.8" r="2.6" fill="#1a4634"/>
<circle cx="894.1" cy="1075.8" r="3.3" fill="#3a5a30"/>
<circle cx="894.1" cy="1075.8" r="2.6" fill="#1a4634"/>
<circle cx="865.8" cy="1083.9" r="3.3" fill="#3a5a30"/>
<circle cx="865.8" cy="1083.9" r="2.6" fill="#1a4634"/>
<circle cx="894" cy="1083.9" r="3.3" fill="#3a5a30"/>
<circle cx="894" cy="1083.9" r="2.6" fill="#1a4634"/>
<circle cx="865.8" cy="1092" r="3.3" fill="#3a5a30"/>
<circle cx="865.8" cy="1092" r="2.6" fill="#1a4634"/>
<circle cx="894" cy="1092" r="3.3" fill="#3a5a30"/>
<circle cx="894" cy="1092" r="2.6" fill="#1a4634"/>
<circle cx="865.8" cy="1100.1" r="3.3" fill="#3a5a30"/>
<circle cx="865.8" cy="1100.1" r="2.6" fill="#1a4634"/>
<circle cx="894" cy="1100.1" r="3.3" fill="#3a5a30"/>
<circle cx="894" cy="1100.1" r="2.6" fill="#1a4634"/>
<circle cx="865.7" cy="1108.2" r="3.3" fill="#3a5a30"/>
<circle cx="865.7" cy="1108.2" r="2.6" fill="#1a4634"/>
<circle cx="893.9" cy="1108.2" r="3.3" fill="#3a5a30"/>
<circle cx="893.9" cy="1108.2" r="2.6" fill="#1a4634"/>
<circle cx="865.7" cy="1116.3" r="3.3" fill="#3a5a30"/>
<circle cx="865.7" cy="1116.3" r="2.6" fill="#1a4634"/>
<circle cx="893.9" cy="1116.3" r="3.3" fill="#3a5a30"/>
<circle cx="893.9" cy="1116.3" r="2.6" fill="#1a4634"/>
<circle cx="368.3" cy="168.3" r="3.2" fill="#7d7a22"/>
<circle cx="368.3" cy="168.3" r="2.8" fill="#cfc81e"/>
<circle cx="368.3" cy="168.3" r="2.3" fill="#141008"/>
<circle cx="354.6" cy="200.8" r="3.2" fill="#7d7a22"/>
<circle cx="354.6" cy="200.8" r="2.8" fill="#cfc81e"/>
<circle cx="354.6" cy="200.8" r="2.3" fill="#141008"/>
<circle cx="346.4" cy="208.6" r="3.2" fill="#7d7a22"/>
<circle cx="346.4" cy="208.6" r="2.8" fill="#cfc81e"/>
<circle cx="346.4" cy="208.6" r="2.3" fill="#141008"/>
<circle cx="360.7" cy="231.9" r="3.2" fill="#7d7a22"/>
<circle cx="360.7" cy="231.9" r="2.8" fill="#cfc81e"/>
<circle cx="360.7" cy="231.9" r="2.3" fill="#141008"/>
<circle cx="501" cy="245.6" r="3.2" fill="#7d7a22"/>
<circle cx="501" cy="245.6" r="2.8" fill="#cfc81e"/>
<circle cx="501" cy="245.6" r="2.3" fill="#141008"/>
<circle cx="494.8" cy="68.4" r="3.2" fill="#7d7a22"/>
<circle cx="494.8" cy="68.4" r="2.8" fill="#cfc81e"/>
<circle cx="494.8" cy="68.4" r="2.3" fill="#141008"/>
<circle cx="488" cy="83.1" r="3.2" fill="#7d7a22"/>
<circle cx="488" cy="83.1" r="2.8" fill="#cfc81e"/>
<circle cx="488" cy="83.1" r="2.3" fill="#141008"/>
<circle cx="559.1" cy="91.7" r="3.2" fill="#7d7a22"/>
<circle cx="559.1" cy="91.7" r="2.8" fill="#cfc81e"/>
<circle cx="559.1" cy="91.7" r="2.3" fill="#141008"/>
<circle cx="564.2" cy="117.3" r="3.2" fill="#7d7a22"/>
<circle cx="564.2" cy="117.3" r="2.8" fill="#cfc81e"/>
<circle cx="564.2" cy="117.3" r="2.3" fill="#141008"/>
<circle cx="491.4" cy="130.6" r="3.2" fill="#7d7a22"/>
<circle cx="491.4" cy="130.6" r="2.8" fill="#cfc81e"/>
<circle cx="491.4" cy="130.6" r="2.3" fill="#141008"/>
<circle cx="610.4" cy="68.4" r="3.2" fill="#7d7a22"/>
<circle cx="610.4" cy="68.4" r="2.8" fill="#cfc81e"/>
<circle cx="610.4" cy="68.4" r="2.3" fill="#141008"/>
<circle cx="88.4" cy="174.1" r="3.2" fill="#7d7a22"/>
<circle cx="88.4" cy="174.1" r="2.8" fill="#cfc81e"/>
<circle cx="88.4" cy="174.1" r="2.3" fill="#141008"/>
<circle cx="102.8" cy="270.2" r="3.2" fill="#7d7a22"/>
<circle cx="102.8" cy="270.2" r="2.8" fill="#cfc81e"/>
<circle cx="102.8" cy="270.2" r="2.3" fill="#141008"/>
<circle cx="218.6" cy="341" r="3.2" fill="#7d7a22"/>
<circle cx="218.6" cy="341" r="2.8" fill="#cfc81e"/>
<circle cx="218.6" cy="341" r="2.3" fill="#141008"/>
<circle cx="368.9" cy="168.4" r="3.2" fill="#7d7a22"/>
<circle cx="368.9" cy="168.4" r="2.8" fill="#cfc81e"/>
<circle cx="368.9" cy="168.4" r="2.3" fill="#141008"/>
<circle cx="354.5" cy="200.8" r="3.2" fill="#7d7a22"/>
<circle cx="354.5" cy="200.8" r="2.8" fill="#cfc81e"/>
<circle cx="354.5" cy="200.8" r="2.3" fill="#141008"/>
<circle cx="346.5" cy="209.5" r="3.2" fill="#7d7a22"/>
<circle cx="346.5" cy="209.5" r="2.8" fill="#cfc81e"/>
<circle cx="346.5" cy="209.5" r="2.3" fill="#141008"/>
<circle cx="360.6" cy="231.8" r="3.2" fill="#7d7a22"/>
<circle cx="360.6" cy="231.8" r="2.8" fill="#cfc81e"/>
<circle cx="360.6" cy="231.8" r="2.3" fill="#141008"/>
<circle cx="367.2" cy="286.9" r="3.2" fill="#7d7a22"/>
<circle cx="367.2" cy="286.9" r="2.8" fill="#cfc81e"/>
<circle cx="367.2" cy="286.9" r="2.3" fill="#141008"/>
<circle cx="325.5" cy="334.3" r="3.2" fill="#7d7a22"/>
<circle cx="325.5" cy="334.3" r="2.8" fill="#cfc81e"/>
<circle cx="325.5" cy="334.3" r="2.3" fill="#141008"/>
<circle cx="337.2" cy="334.3" r="3.2" fill="#7d7a22"/>
<circle cx="337.2" cy="334.3" r="2.8" fill="#cfc81e"/>
<circle cx="337.2" cy="334.3" r="2.3" fill="#141008"/>
<circle cx="429" cy="342" r="3.2" fill="#7d7a22"/>
<circle cx="429" cy="342" r="2.8" fill="#cfc81e"/>
<circle cx="429" cy="342" r="2.3" fill="#141008"/>
<circle cx="360.5" cy="231.8" r="3.2" fill="#7d7a22"/>
<circle cx="360.5" cy="231.8" r="2.8" fill="#cfc81e"/>
<circle cx="360.5" cy="231.8" r="2.3" fill="#141008"/>
<circle cx="367.9" cy="287.5" r="3.2" fill="#7d7a22"/>
<circle cx="367.9" cy="287.5" r="2.8" fill="#cfc81e"/>
<circle cx="367.9" cy="287.5" r="2.3" fill="#141008"/>
<circle cx="324.7" cy="333.9" r="3.2" fill="#7d7a22"/>
<circle cx="324.7" cy="333.9" r="2.8" fill="#cfc81e"/>
<circle cx="324.7" cy="333.9" r="2.3" fill="#141008"/>
<circle cx="336.9" cy="333.9" r="3.2" fill="#7d7a22"/>
<circle cx="336.9" cy="333.9" r="2.8" fill="#cfc81e"/>
<circle cx="336.9" cy="333.9" r="2.3" fill="#141008"/>
<circle cx="258.7" cy="180.8" r="3.2" fill="#7d7a22"/>
<circle cx="258.7" cy="180.8" r="2.8" fill="#cfc81e"/>
<circle cx="258.7" cy="180.8" r="2.3" fill="#141008"/>
<circle cx="270.1" cy="180" r="3.2" fill="#7d7a22"/>
<circle cx="270.1" cy="180" r="2.8" fill="#cfc81e"/>
<circle cx="270.1" cy="180" r="2.3" fill="#141008"/>
<circle cx="312.9" cy="43.3" r="3.2" fill="#7d7a22"/>
<circle cx="312.9" cy="43.3" r="2.8" fill="#cfc81e"/>
<circle cx="312.9" cy="43.3" r="2.3" fill="#141008"/>
<circle cx="338.3" cy="47.1" r="3.2" fill="#7d7a22"/>
<circle cx="338.3" cy="47.1" r="2.8" fill="#cfc81e"/>
<circle cx="338.3" cy="47.1" r="2.3" fill="#141008"/>
<circle cx="258.9" cy="69.9" r="3.2" fill="#7d7a22"/>
<circle cx="258.9" cy="69.9" r="2.8" fill="#cfc81e"/>
<circle cx="258.9" cy="69.9" r="2.3" fill="#141008"/>
<circle cx="260.9" cy="86.9" r="3.2" fill="#7d7a22"/>
<circle cx="260.9" cy="86.9" r="2.8" fill="#cfc81e"/>
<circle cx="260.9" cy="86.9" r="2.3" fill="#141008"/>
<circle cx="247.4" cy="124.5" r="3.2" fill="#7d7a22"/>
<circle cx="247.4" cy="124.5" r="2.8" fill="#cfc81e"/>
<circle cx="247.4" cy="124.5" r="2.3" fill="#141008"/>
<circle cx="216.5" cy="171.9" r="3.2" fill="#7d7a22"/>
<circle cx="216.5" cy="171.9" r="2.8" fill="#cfc81e"/>
<circle cx="216.5" cy="171.9" r="2.3" fill="#141008"/>
<circle cx="240.6" cy="171.9" r="3.2" fill="#7d7a22"/>
<circle cx="240.6" cy="171.9" r="2.8" fill="#cfc81e"/>
<circle cx="240.6" cy="171.9" r="2.3" fill="#141008"/>
<circle cx="258.3" cy="179.5" r="3.2" fill="#7d7a22"/>
<circle cx="258.3" cy="179.5" r="2.8" fill="#cfc81e"/>
<circle cx="258.3" cy="179.5" r="2.3" fill="#141008"/>
<circle cx="270.3" cy="178.3" r="3.2" fill="#7d7a22"/>
<circle cx="270.3" cy="178.3" r="2.8" fill="#cfc81e"/>
<circle cx="270.3" cy="178.3" r="2.3" fill="#141008"/>
<circle cx="281.7" cy="174.4" r="3.2" fill="#7d7a22"/>
<circle cx="281.7" cy="174.4" r="2.8" fill="#cfc81e"/>
<circle cx="281.7" cy="174.4" r="2.3" fill="#141008"/>
<circle cx="325.1" cy="334.1" r="3.2" fill="#7d7a22"/>
<circle cx="325.1" cy="334.1" r="2.8" fill="#cfc81e"/>
<circle cx="325.1" cy="334.1" r="2.3" fill="#141008"/>
<circle cx="336.8" cy="334.1" r="3.2" fill="#7d7a22"/>
<circle cx="336.8" cy="334.1" r="2.8" fill="#cfc81e"/>
<circle cx="336.8" cy="334.1" r="2.3" fill="#141008"/>
<circle cx="281.7" cy="442" r="3.2" fill="#7d7a22"/>
<circle cx="281.7" cy="442" r="2.8" fill="#cfc81e"/>
<circle cx="281.7" cy="442" r="2.3" fill="#141008"/>
<circle cx="295.1" cy="443.7" r="3.2" fill="#7d7a22"/>
<circle cx="295.1" cy="443.7" r="2.8" fill="#cfc81e"/>
<circle cx="295.1" cy="443.7" r="2.3" fill="#141008"/>
<circle cx="428.6" cy="341.8" r="3.2" fill="#7d7a22"/>
<circle cx="428.6" cy="341.8" r="2.8" fill="#cfc81e"/>
<circle cx="428.6" cy="341.8" r="2.3" fill="#141008"/>
<circle cx="367.5" cy="286.7" r="3.2" fill="#7d7a22"/>
<circle cx="367.5" cy="286.7" r="2.8" fill="#cfc81e"/>
<circle cx="367.5" cy="286.7" r="2.3" fill="#141008"/>
<circle cx="503.1" cy="286.1" r="3.2" fill="#7d7a22"/>
<circle cx="503.1" cy="286.1" r="2.8" fill="#cfc81e"/>
<circle cx="503.1" cy="286.1" r="2.3" fill="#141008"/>
<circle cx="632.3" cy="262.7" r="3.2" fill="#7d7a22"/>
<circle cx="632.3" cy="262.7" r="2.8" fill="#cfc81e"/>
<circle cx="632.3" cy="262.7" r="2.3" fill="#141008"/>
<circle cx="596.2" cy="411.6" r="3.2" fill="#7d7a22"/>
<circle cx="596.2" cy="411.6" r="2.8" fill="#cfc81e"/>
<circle cx="596.2" cy="411.6" r="2.3" fill="#141008"/>
<circle cx="369.6" cy="523.3" r="3.2" fill="#7d7a22"/>
<circle cx="369.6" cy="523.3" r="2.8" fill="#cfc81e"/>
<circle cx="369.6" cy="523.3" r="2.3" fill="#141008"/>
<circle cx="340.6" cy="532.1" r="3.2" fill="#7d7a22"/>
<circle cx="340.6" cy="532.1" r="2.8" fill="#cfc81e"/>
<circle cx="340.6" cy="532.1" r="2.3" fill="#141008"/>
<circle cx="355.8" cy="542.2" r="3.2" fill="#7d7a22"/>
<circle cx="355.8" cy="542.2" r="2.8" fill="#cfc81e"/>
<circle cx="355.8" cy="542.2" r="2.3" fill="#141008"/>
<circle cx="388.6" cy="544.7" r="3.2" fill="#7d7a22"/>
<circle cx="388.6" cy="544.7" r="2.8" fill="#cfc81e"/>
<circle cx="388.6" cy="544.7" r="2.3" fill="#141008"/>
<circle cx="488.3" cy="520.7" r="3.2" fill="#7d7a22"/>
<circle cx="488.3" cy="520.7" r="2.8" fill="#cfc81e"/>
<circle cx="488.3" cy="520.7" r="2.3" fill="#141008"/>
<circle cx="513.6" cy="523.3" r="3.2" fill="#7d7a22"/>
<circle cx="513.6" cy="523.3" r="2.8" fill="#cfc81e"/>
<circle cx="513.6" cy="523.3" r="2.3" fill="#141008"/>
<circle cx="494.6" cy="535.4" r="3.2" fill="#7d7a22"/>
<circle cx="494.6" cy="535.4" r="2.8" fill="#cfc81e"/>
<circle cx="494.6" cy="535.4" r="2.3" fill="#141008"/>
<circle cx="576.7" cy="537.2" r="3.2" fill="#7d7a22"/>
<circle cx="576.7" cy="537.2" r="2.8" fill="#cfc81e"/>
<circle cx="576.7" cy="537.2" r="2.3" fill="#141008"/>
<circle cx="283" cy="525.3" r="3.2" fill="#7d7a22"/>
<circle cx="283" cy="525.3" r="2.8" fill="#cfc81e"/>
<circle cx="283" cy="525.3" r="2.3" fill="#141008"/>
<circle cx="670.9" cy="479.1" r="3.2" fill="#7d7a22"/>
<circle cx="670.9" cy="479.1" r="2.8" fill="#cfc81e"/>
<circle cx="670.9" cy="479.1" r="2.3" fill="#141008"/>
<circle cx="742.9" cy="457.6" r="3.2" fill="#7d7a22"/>
<circle cx="742.9" cy="457.6" r="2.8" fill="#cfc81e"/>
<circle cx="742.9" cy="457.6" r="2.3" fill="#141008"/>
<circle cx="814.3" cy="482.4" r="3.2" fill="#7d7a22"/>
<circle cx="814.3" cy="482.4" r="2.8" fill="#cfc81e"/>
<circle cx="814.3" cy="482.4" r="2.3" fill="#141008"/>
<circle cx="743.4" cy="370.5" r="3.2" fill="#7d7a22"/>
<circle cx="743.4" cy="370.5" r="2.8" fill="#cfc81e"/>
<circle cx="743.4" cy="370.5" r="2.3" fill="#141008"/>
<circle cx="784" cy="460.6" r="3.2" fill="#7d7a22"/>
<circle cx="784" cy="460.6" r="2.8" fill="#cfc81e"/>
<circle cx="784" cy="460.6" r="2.3" fill="#141008"/>
<circle cx="790.9" cy="381.1" r="3.2" fill="#7d7a22"/>
<circle cx="790.9" cy="381.1" r="2.8" fill="#cfc81e"/>
<circle cx="790.9" cy="381.1" r="2.3" fill="#141008"/>
<circle cx="790.4" cy="396.5" r="3.2" fill="#7d7a22"/>
<circle cx="790.4" cy="396.5" r="2.8" fill="#cfc81e"/>
<circle cx="790.4" cy="396.5" r="2.3" fill="#141008"/>
<circle cx="674.7" cy="322.5" r="3.2" fill="#7d7a22"/>
<circle cx="674.7" cy="322.5" r="2.8" fill="#cfc81e"/>
<circle cx="674.7" cy="322.5" r="2.3" fill="#141008"/>
<circle cx="674.7" cy="521.5" r="3.2" fill="#7d7a22"/>
<circle cx="674.7" cy="521.5" r="2.8" fill="#cfc81e"/>
<circle cx="674.7" cy="521.5" r="2.3" fill="#141008"/>
<circle cx="813.6" cy="520.2" r="3.2" fill="#7d7a22"/>
<circle cx="813.6" cy="520.2" r="2.8" fill="#cfc81e"/>
<circle cx="813.6" cy="520.2" r="2.3" fill="#141008"/>
<circle cx="787.1" cy="529.6" r="3.2" fill="#7d7a22"/>
<circle cx="787.1" cy="529.6" r="2.8" fill="#cfc81e"/>
<circle cx="787.1" cy="529.6" r="2.3" fill="#141008"/>
<circle cx="799.7" cy="531.4" r="3.2" fill="#7d7a22"/>
<circle cx="799.7" cy="531.4" r="2.8" fill="#cfc81e"/>
<circle cx="799.7" cy="531.4" r="2.3" fill="#141008"/>
<circle cx="663.3" cy="537.9" r="3.2" fill="#7d7a22"/>
<circle cx="663.3" cy="537.9" r="2.8" fill="#cfc81e"/>
<circle cx="663.3" cy="537.9" r="2.3" fill="#141008"/>
<circle cx="648.2" cy="538.9" r="3.2" fill="#7d7a22"/>
<circle cx="648.2" cy="538.9" r="2.8" fill="#cfc81e"/>
<circle cx="648.2" cy="538.9" r="2.3" fill="#141008"/>
<circle cx="605.3" cy="535.4" r="3.2" fill="#7d7a22"/>
<circle cx="605.3" cy="535.4" r="2.8" fill="#cfc81e"/>
<circle cx="605.3" cy="535.4" r="2.3" fill="#141008"/>
<circle cx="833.8" cy="575" r="3.2" fill="#7d7a22"/>
<circle cx="833.8" cy="575" r="2.8" fill="#cfc81e"/>
<circle cx="833.8" cy="575" r="2.3" fill="#141008"/>
<circle cx="841.4" cy="318.7" r="3.2" fill="#7d7a22"/>
<circle cx="841.4" cy="318.7" r="2.8" fill="#cfc81e"/>
<circle cx="841.4" cy="318.7" r="2.3" fill="#141008"/>
<circle cx="770.7" cy="578.8" r="3.2" fill="#7d7a22"/>
<circle cx="770.7" cy="578.8" r="2.8" fill="#cfc81e"/>
<circle cx="770.7" cy="578.8" r="2.3" fill="#141008"/>
<circle cx="712.6" cy="580.1" r="3.2" fill="#7d7a22"/>
<circle cx="712.6" cy="580.1" r="2.8" fill="#cfc81e"/>
<circle cx="712.6" cy="580.1" r="2.3" fill="#141008"/>
<circle cx="693.6" cy="586.4" r="3.2" fill="#7d7a22"/>
<circle cx="693.6" cy="586.4" r="2.8" fill="#cfc81e"/>
<circle cx="693.6" cy="586.4" r="2.3" fill="#141008"/>
<circle cx="669.6" cy="587.7" r="3.2" fill="#7d7a22"/>
<circle cx="669.6" cy="587.7" r="2.8" fill="#cfc81e"/>
<circle cx="669.6" cy="587.7" r="2.3" fill="#141008"/>
<circle cx="614.1" cy="588.9" r="3.2" fill="#7d7a22"/>
<circle cx="614.1" cy="588.9" r="2.8" fill="#cfc81e"/>
<circle cx="614.1" cy="588.9" r="2.3" fill="#141008"/>
<circle cx="593.1" cy="588.4" r="3.2" fill="#7d7a22"/>
<circle cx="593.1" cy="588.4" r="2.8" fill="#cfc81e"/>
<circle cx="593.1" cy="588.4" r="2.3" fill="#141008"/>
<circle cx="657.8" cy="67.6" r="3.2" fill="#7d7a22"/>
<circle cx="657.8" cy="67.6" r="2.8" fill="#cfc81e"/>
<circle cx="657.8" cy="67.6" r="2.3" fill="#141008"/>
<circle cx="658.6" cy="109.4" r="3.2" fill="#7d7a22"/>
<circle cx="658.6" cy="109.4" r="2.8" fill="#cfc81e"/>
<circle cx="658.6" cy="109.4" r="2.3" fill="#141008"/>
<circle cx="701.7" cy="67.6" r="3.2" fill="#7d7a22"/>
<circle cx="701.7" cy="67.6" r="2.8" fill="#cfc81e"/>
<circle cx="701.7" cy="67.6" r="2.3" fill="#141008"/>
<circle cx="701.7" cy="109.4" r="3.2" fill="#7d7a22"/>
<circle cx="701.7" cy="109.4" r="2.8" fill="#cfc81e"/>
<circle cx="701.7" cy="109.4" r="2.3" fill="#141008"/>
<circle cx="770.5" cy="91.4" r="3.2" fill="#7d7a22"/>
<circle cx="770.5" cy="91.4" r="2.8" fill="#cfc81e"/>
<circle cx="770.5" cy="91.4" r="2.3" fill="#141008"/>
<circle cx="724.9" cy="147.3" r="3.2" fill="#7d7a22"/>
<circle cx="724.9" cy="147.3" r="2.8" fill="#cfc81e"/>
<circle cx="724.9" cy="147.3" r="2.3" fill="#141008"/>
<circle cx="789.3" cy="190.3" r="3.2" fill="#7d7a22"/>
<circle cx="789.3" cy="190.3" r="2.8" fill="#cfc81e"/>
<circle cx="789.3" cy="190.3" r="2.3" fill="#141008"/>
<circle cx="671.6" cy="211.6" r="3.2" fill="#7d7a22"/>
<circle cx="671.6" cy="211.6" r="2.8" fill="#cfc81e"/>
<circle cx="671.6" cy="211.6" r="2.3" fill="#141008"/>
<circle cx="704.7" cy="213.4" r="3.2" fill="#7d7a22"/>
<circle cx="704.7" cy="213.4" r="2.8" fill="#cfc81e"/>
<circle cx="704.7" cy="213.4" r="2.3" fill="#141008"/>
<circle cx="706.7" cy="229.2" r="3.2" fill="#7d7a22"/>
<circle cx="706.7" cy="229.2" r="2.8" fill="#cfc81e"/>
<circle cx="706.7" cy="229.2" r="2.3" fill="#141008"/>
<circle cx="632" cy="262.5" r="3.2" fill="#7d7a22"/>
<circle cx="632" cy="262.5" r="2.8" fill="#cfc81e"/>
<circle cx="632" cy="262.5" r="2.3" fill="#141008"/>
<circle cx="326.7" cy="579.4" r="3.2" fill="#7d7a22"/>
<circle cx="326.7" cy="579.4" r="2.8" fill="#cfc81e"/>
<circle cx="326.7" cy="579.4" r="2.3" fill="#141008"/>
<circle cx="327.4" cy="593.4" r="3.2" fill="#7d7a22"/>
<circle cx="327.4" cy="593.4" r="2.8" fill="#cfc81e"/>
<circle cx="327.4" cy="593.4" r="2.3" fill="#141008"/>
<circle cx="342.8" cy="608.4" r="3.2" fill="#7d7a22"/>
<circle cx="342.8" cy="608.4" r="2.8" fill="#cfc81e"/>
<circle cx="342.8" cy="608.4" r="2.3" fill="#141008"/>
<circle cx="356.1" cy="620.8" r="3.2" fill="#7d7a22"/>
<circle cx="356.1" cy="620.8" r="2.8" fill="#cfc81e"/>
<circle cx="356.1" cy="620.8" r="2.3" fill="#141008"/>
<circle cx="347.8" cy="629.5" r="3.2" fill="#7d7a22"/>
<circle cx="347.8" cy="629.5" r="2.8" fill="#cfc81e"/>
<circle cx="347.8" cy="629.5" r="2.3" fill="#141008"/>
<circle cx="457.6" cy="637.8" r="3.2" fill="#7d7a22"/>
<circle cx="457.6" cy="637.8" r="2.8" fill="#cfc81e"/>
<circle cx="457.6" cy="637.8" r="2.3" fill="#141008"/>
<circle cx="309.4" cy="655.9" r="3.2" fill="#7d7a22"/>
<circle cx="309.4" cy="655.9" r="2.8" fill="#cfc81e"/>
<circle cx="309.4" cy="655.9" r="2.3" fill="#141008"/>
<circle cx="405.2" cy="575.1" r="3.2" fill="#7d7a22"/>
<circle cx="405.2" cy="575.1" r="2.8" fill="#cfc81e"/>
<circle cx="405.2" cy="575.1" r="2.3" fill="#141008"/>
<circle cx="471" cy="581.7" r="3.2" fill="#7d7a22"/>
<circle cx="471" cy="581.7" r="2.8" fill="#cfc81e"/>
<circle cx="471" cy="581.7" r="2.3" fill="#141008"/>
<circle cx="542.1" cy="575.1" r="3.2" fill="#7d7a22"/>
<circle cx="542.1" cy="575.1" r="2.8" fill="#cfc81e"/>
<circle cx="542.1" cy="575.1" r="2.3" fill="#141008"/>
<circle cx="536.4" cy="589.4" r="3.2" fill="#7d7a22"/>
<circle cx="536.4" cy="589.4" r="2.8" fill="#cfc81e"/>
<circle cx="536.4" cy="589.4" r="2.3" fill="#141008"/>
<circle cx="442.6" cy="603.4" r="3.2" fill="#7d7a22"/>
<circle cx="442.6" cy="603.4" r="2.8" fill="#cfc81e"/>
<circle cx="442.6" cy="603.4" r="2.3" fill="#141008"/>
<circle cx="571.2" cy="583.4" r="3.2" fill="#7d7a22"/>
<circle cx="571.2" cy="583.4" r="2.8" fill="#cfc81e"/>
<circle cx="571.2" cy="583.4" r="2.3" fill="#141008"/>
<circle cx="593.2" cy="588.4" r="3.2" fill="#7d7a22"/>
<circle cx="593.2" cy="588.4" r="2.8" fill="#cfc81e"/>
<circle cx="593.2" cy="588.4" r="2.3" fill="#141008"/>
<circle cx="614.6" cy="588.7" r="3.2" fill="#7d7a22"/>
<circle cx="614.6" cy="588.7" r="2.8" fill="#cfc81e"/>
<circle cx="614.6" cy="588.7" r="2.3" fill="#141008"/>
<circle cx="645.6" cy="595.1" r="3.2" fill="#7d7a22"/>
<circle cx="645.6" cy="595.1" r="2.8" fill="#cfc81e"/>
<circle cx="645.6" cy="595.1" r="2.3" fill="#141008"/>
<circle cx="670.7" cy="586.7" r="3.2" fill="#7d7a22"/>
<circle cx="670.7" cy="586.7" r="2.8" fill="#cfc81e"/>
<circle cx="670.7" cy="586.7" r="2.3" fill="#141008"/>
<circle cx="560.5" cy="616.1" r="3.2" fill="#7d7a22"/>
<circle cx="560.5" cy="616.1" r="2.8" fill="#cfc81e"/>
<circle cx="560.5" cy="616.1" r="2.3" fill="#141008"/>
<circle cx="664" cy="610.1" r="3.2" fill="#7d7a22"/>
<circle cx="664" cy="610.1" r="2.8" fill="#cfc81e"/>
<circle cx="664" cy="610.1" r="2.3" fill="#141008"/>
<circle cx="670" cy="649.5" r="3.2" fill="#7d7a22"/>
<circle cx="670" cy="649.5" r="2.8" fill="#cfc81e"/>
<circle cx="670" cy="649.5" r="2.3" fill="#141008"/>
<circle cx="356.1" cy="542.7" r="3.2" fill="#7d7a22"/>
<circle cx="356.1" cy="542.7" r="2.8" fill="#cfc81e"/>
<circle cx="356.1" cy="542.7" r="2.3" fill="#141008"/>
<circle cx="388.5" cy="545" r="3.2" fill="#7d7a22"/>
<circle cx="388.5" cy="545" r="2.8" fill="#cfc81e"/>
<circle cx="388.5" cy="545" r="2.3" fill="#141008"/>
<circle cx="521.2" cy="892.2" r="3.2" fill="#7d7a22"/>
<circle cx="521.2" cy="892.2" r="2.8" fill="#cfc81e"/>
<circle cx="521.2" cy="892.2" r="2.3" fill="#141008"/>
<circle cx="459.3" cy="931.1" r="3.2" fill="#7d7a22"/>
<circle cx="459.3" cy="931.1" r="2.8" fill="#cfc81e"/>
<circle cx="459.3" cy="931.1" r="2.3" fill="#141008"/>
<circle cx="459.3" cy="962.6" r="3.2" fill="#7d7a22"/>
<circle cx="459.3" cy="962.6" r="2.8" fill="#cfc81e"/>
<circle cx="459.3" cy="962.6" r="2.3" fill="#141008"/>
<circle cx="564.3" cy="932.5" r="3.2" fill="#7d7a22"/>
<circle cx="564.3" cy="932.5" r="2.8" fill="#cfc81e"/>
<circle cx="564.3" cy="932.5" r="2.3" fill="#141008"/>
<circle cx="627.3" cy="924.1" r="3.2" fill="#7d7a22"/>
<circle cx="627.3" cy="924.1" r="2.8" fill="#cfc81e"/>
<circle cx="627.3" cy="924.1" r="2.3" fill="#141008"/>
<circle cx="638.9" cy="934.6" r="3.2" fill="#7d7a22"/>
<circle cx="638.9" cy="934.6" r="2.8" fill="#cfc81e"/>
<circle cx="638.9" cy="934.6" r="2.3" fill="#141008"/>
<circle cx="647.3" cy="932.5" r="3.2" fill="#7d7a22"/>
<circle cx="647.3" cy="932.5" r="2.8" fill="#cfc81e"/>
<circle cx="647.3" cy="932.5" r="2.3" fill="#141008"/>
<circle cx="664.1" cy="944" r="3.2" fill="#7d7a22"/>
<circle cx="664.1" cy="944" r="2.8" fill="#cfc81e"/>
<circle cx="664.1" cy="944" r="2.3" fill="#141008"/>
<circle cx="656.4" cy="988.5" r="3.2" fill="#7d7a22"/>
<circle cx="656.4" cy="988.5" r="2.8" fill="#cfc81e"/>
<circle cx="656.4" cy="988.5" r="2.3" fill="#141008"/>
<circle cx="702.6" cy="1016.9" r="3.2" fill="#7d7a22"/>
<circle cx="702.6" cy="1016.9" r="2.8" fill="#cfc81e"/>
<circle cx="702.6" cy="1016.9" r="2.3" fill="#141008"/>
<circle cx="636.1" cy="1017.6" r="3.2" fill="#7d7a22"/>
<circle cx="636.1" cy="1017.6" r="2.8" fill="#cfc81e"/>
<circle cx="636.1" cy="1017.6" r="2.3" fill="#141008"/>
<circle cx="830.4" cy="883.8" r="3.2" fill="#7d7a22"/>
<circle cx="830.4" cy="883.8" r="2.8" fill="#cfc81e"/>
<circle cx="830.4" cy="883.8" r="2.3" fill="#141008"/>
<circle cx="841.6" cy="884.5" r="3.2" fill="#7d7a22"/>
<circle cx="841.6" cy="884.5" r="2.8" fill="#cfc81e"/>
<circle cx="841.6" cy="884.5" r="2.3" fill="#141008"/>
<circle cx="821" cy="909" r="3.2" fill="#7d7a22"/>
<circle cx="821" cy="909" r="2.8" fill="#cfc81e"/>
<circle cx="821" cy="909" r="2.3" fill="#141008"/>
<circle cx="839.2" cy="952.8" r="3.2" fill="#7d7a22"/>
<circle cx="839.2" cy="952.8" r="2.8" fill="#cfc81e"/>
<circle cx="839.2" cy="952.8" r="2.3" fill="#141008"/>
<circle cx="671.1" cy="1109.3" r="3.2" fill="#7d7a22"/>
<circle cx="671.1" cy="1109.3" r="2.8" fill="#cfc81e"/>
<circle cx="671.1" cy="1109.3" r="2.3" fill="#141008"/>
<circle cx="477.8" cy="1038.6" r="3.2" fill="#7d7a22"/>
<circle cx="477.8" cy="1038.6" r="2.8" fill="#cfc81e"/>
<circle cx="477.8" cy="1038.6" r="2.3" fill="#141008"/>
<circle cx="622.8" cy="955.2" r="3.2" fill="#7d7a22"/>
<circle cx="622.8" cy="955.2" r="2.8" fill="#cfc81e"/>
<circle cx="622.8" cy="955.2" r="2.3" fill="#141008"/>
<circle cx="692.1" cy="954.5" r="3.2" fill="#7d7a22"/>
<circle cx="692.1" cy="954.5" r="2.8" fill="#cfc81e"/>
<circle cx="692.1" cy="954.5" r="2.3" fill="#141008"/>
<circle cx="202" cy="618.9" r="3.2" fill="#7d7a22"/>
<circle cx="202" cy="618.9" r="2.8" fill="#cfc81e"/>
<circle cx="202" cy="618.9" r="2.3" fill="#141008"/>
<circle cx="239.3" cy="627.9" r="3.2" fill="#7d7a22"/>
<circle cx="239.3" cy="627.9" r="2.8" fill="#cfc81e"/>
<circle cx="239.3" cy="627.9" r="2.3" fill="#141008"/>
<circle cx="251" cy="633" r="3.2" fill="#7d7a22"/>
<circle cx="251" cy="633" r="2.8" fill="#cfc81e"/>
<circle cx="251" cy="633" r="2.3" fill="#141008"/>
<circle cx="262.3" cy="643.3" r="3.2" fill="#7d7a22"/>
<circle cx="262.3" cy="643.3" r="2.8" fill="#cfc81e"/>
<circle cx="262.3" cy="643.3" r="2.3" fill="#141008"/>
<circle cx="309.7" cy="655.8" r="3.2" fill="#7d7a22"/>
<circle cx="309.7" cy="655.8" r="2.8" fill="#cfc81e"/>
<circle cx="309.7" cy="655.8" r="2.3" fill="#141008"/>
<circle cx="342.7" cy="608.7" r="3.2" fill="#7d7a22"/>
<circle cx="342.7" cy="608.7" r="2.8" fill="#cfc81e"/>
<circle cx="342.7" cy="608.7" r="2.3" fill="#141008"/>
<circle cx="356.3" cy="620.6" r="3.2" fill="#7d7a22"/>
<circle cx="356.3" cy="620.6" r="2.8" fill="#cfc81e"/>
<circle cx="356.3" cy="620.6" r="2.3" fill="#141008"/>
<circle cx="348.1" cy="629.2" r="3.2" fill="#7d7a22"/>
<circle cx="348.1" cy="629.2" r="2.8" fill="#cfc81e"/>
<circle cx="348.1" cy="629.2" r="2.3" fill="#141008"/>
<circle cx="457.8" cy="637.9" r="3.2" fill="#7d7a22"/>
<circle cx="457.8" cy="637.9" r="2.8" fill="#cfc81e"/>
<circle cx="457.8" cy="637.9" r="2.3" fill="#141008"/>
<circle cx="442.9" cy="604.1" r="3.2" fill="#7d7a22"/>
<circle cx="442.9" cy="604.1" r="2.8" fill="#cfc81e"/>
<circle cx="442.9" cy="604.1" r="2.3" fill="#141008"/>
<circle cx="204.7" cy="700.7" r="3.2" fill="#7d7a22"/>
<circle cx="204.7" cy="700.7" r="2.8" fill="#cfc81e"/>
<circle cx="204.7" cy="700.7" r="2.3" fill="#141008"/>
<circle cx="212.2" cy="728.9" r="3.2" fill="#7d7a22"/>
<circle cx="212.2" cy="728.9" r="2.8" fill="#cfc81e"/>
<circle cx="212.2" cy="728.9" r="2.3" fill="#141008"/>
<circle cx="214.1" cy="745.1" r="3.2" fill="#7d7a22"/>
<circle cx="214.1" cy="745.1" r="2.8" fill="#cfc81e"/>
<circle cx="214.1" cy="745.1" r="2.3" fill="#141008"/>
<circle cx="213.6" cy="757.3" r="3.2" fill="#7d7a22"/>
<circle cx="213.6" cy="757.3" r="2.8" fill="#cfc81e"/>
<circle cx="213.6" cy="757.3" r="2.3" fill="#141008"/>
<circle cx="214.7" cy="771.9" r="3.2" fill="#7d7a22"/>
<circle cx="214.7" cy="771.9" r="2.8" fill="#cfc81e"/>
<circle cx="214.7" cy="771.9" r="2.3" fill="#141008"/>
<circle cx="176.8" cy="785.4" r="3.2" fill="#7d7a22"/>
<circle cx="176.8" cy="785.4" r="2.8" fill="#cfc81e"/>
<circle cx="176.8" cy="785.4" r="2.3" fill="#141008"/>
<circle cx="235.8" cy="905.9" r="3.2" fill="#7d7a22"/>
<circle cx="235.8" cy="905.9" r="2.8" fill="#cfc81e"/>
<circle cx="235.8" cy="905.9" r="2.3" fill="#141008"/>
<circle cx="199.2" cy="970.8" r="3.2" fill="#7d7a22"/>
<circle cx="199.2" cy="970.8" r="2.8" fill="#cfc81e"/>
<circle cx="199.2" cy="970.8" r="2.3" fill="#141008"/>
<circle cx="129.4" cy="989.9" r="3.2" fill="#7d7a22"/>
<circle cx="129.4" cy="989.9" r="2.8" fill="#cfc81e"/>
<circle cx="129.4" cy="989.9" r="2.3" fill="#141008"/>
<circle cx="235.5" cy="905.6" r="3.2" fill="#7d7a22"/>
<circle cx="235.5" cy="905.6" r="2.8" fill="#cfc81e"/>
<circle cx="235.5" cy="905.6" r="2.3" fill="#141008"/>
<circle cx="270.3" cy="940.9" r="3.2" fill="#7d7a22"/>
<circle cx="270.3" cy="940.9" r="2.8" fill="#cfc81e"/>
<circle cx="270.3" cy="940.9" r="2.3" fill="#141008"/>
<circle cx="302" cy="1016" r="3.2" fill="#7d7a22"/>
<circle cx="302" cy="1016" r="2.8" fill="#cfc81e"/>
<circle cx="302" cy="1016" r="2.3" fill="#141008"/>
<circle cx="993.3" cy="319.2" r="3.2" fill="#7d7a22"/>
<circle cx="993.3" cy="319.2" r="2.8" fill="#cfc81e"/>
<circle cx="993.3" cy="319.2" r="2.3" fill="#141008"/>
<circle cx="1028.8" cy="319.7" r="3.2" fill="#7d7a22"/>
<circle cx="1028.8" cy="319.7" r="2.8" fill="#cfc81e"/>
<circle cx="1028.8" cy="319.7" r="2.3" fill="#141008"/>
<circle cx="1010.3" cy="357.4" r="3.2" fill="#7d7a22"/>
<circle cx="1010.3" cy="357.4" r="2.8" fill="#cfc81e"/>
<circle cx="1010.3" cy="357.4" r="2.3" fill="#141008"/>
<circle cx="966.4" cy="339" r="3.2" fill="#7d7a22"/>
<circle cx="966.4" cy="339" r="2.8" fill="#cfc81e"/>
<circle cx="966.4" cy="339" r="2.3" fill="#141008"/>
<circle cx="1146.4" cy="280.9" r="3.2" fill="#7d7a22"/>
<circle cx="1146.4" cy="280.9" r="2.8" fill="#cfc81e"/>
<circle cx="1146.4" cy="280.9" r="2.3" fill="#141008"/>
<circle cx="1115.8" cy="373" r="3.2" fill="#7d7a22"/>
<circle cx="1115.8" cy="373" r="2.8" fill="#cfc81e"/>
<circle cx="1115.8" cy="373" r="2.3" fill="#141008"/>
<circle cx="1122.8" cy="429.7" r="3.2" fill="#7d7a22"/>
<circle cx="1122.8" cy="429.7" r="2.8" fill="#cfc81e"/>
<circle cx="1122.8" cy="429.7" r="2.3" fill="#141008"/>
<circle cx="975.5" cy="429.1" r="3.2" fill="#7d7a22"/>
<circle cx="975.5" cy="429.1" r="2.8" fill="#cfc81e"/>
<circle cx="975.5" cy="429.1" r="2.3" fill="#141008"/>
<circle cx="977.8" cy="449" r="3.2" fill="#7d7a22"/>
<circle cx="977.8" cy="449" r="2.8" fill="#cfc81e"/>
<circle cx="977.8" cy="449" r="2.3" fill="#141008"/>
<circle cx="1180.4" cy="387.8" r="3.2" fill="#7d7a22"/>
<circle cx="1180.4" cy="387.8" r="2.8" fill="#cfc81e"/>
<circle cx="1180.4" cy="387.8" r="2.3" fill="#141008"/>
<circle cx="1135" cy="520.9" r="3.2" fill="#7d7a22"/>
<circle cx="1135" cy="520.9" r="2.8" fill="#cfc81e"/>
<circle cx="1135" cy="520.9" r="2.3" fill="#141008"/>
<circle cx="1040.7" cy="542.5" r="3.2" fill="#7d7a22"/>
<circle cx="1040.7" cy="542.5" r="2.8" fill="#cfc81e"/>
<circle cx="1040.7" cy="542.5" r="2.3" fill="#141008"/>
<circle cx="1131.3" cy="540.8" r="3.2" fill="#7d7a22"/>
<circle cx="1131.3" cy="540.8" r="2.8" fill="#cfc81e"/>
<circle cx="1131.3" cy="540.8" r="2.3" fill="#141008"/>
<circle cx="1083.5" cy="553" r="3.2" fill="#7d7a22"/>
<circle cx="1083.5" cy="553" r="2.8" fill="#cfc81e"/>
<circle cx="1083.5" cy="553" r="2.3" fill="#141008"/>
<circle cx="930.4" cy="575.4" r="3.2" fill="#7d7a22"/>
<circle cx="930.4" cy="575.4" r="2.8" fill="#cfc81e"/>
<circle cx="930.4" cy="575.4" r="2.3" fill="#141008"/>
<circle cx="1041.5" cy="568.3" r="3.2" fill="#7d7a22"/>
<circle cx="1041.5" cy="568.3" r="2.8" fill="#cfc81e"/>
<circle cx="1041.5" cy="568.3" r="2.3" fill="#141008"/>
<circle cx="1042.1" cy="586.8" r="3.2" fill="#7d7a22"/>
<circle cx="1042.1" cy="586.8" r="2.8" fill="#cfc81e"/>
<circle cx="1042.1" cy="586.8" r="2.3" fill="#141008"/>
<circle cx="1080.6" cy="596.7" r="3.2" fill="#7d7a22"/>
<circle cx="1080.6" cy="596.7" r="2.8" fill="#cfc81e"/>
<circle cx="1080.6" cy="596.7" r="2.3" fill="#141008"/>
<circle cx="1104.4" cy="609.4" r="3.2" fill="#7d7a22"/>
<circle cx="1104.4" cy="609.4" r="2.8" fill="#cfc81e"/>
<circle cx="1104.4" cy="609.4" r="2.3" fill="#141008"/>
<circle cx="1084" cy="552.8" r="3.2" fill="#7d7a22"/>
<circle cx="1084" cy="552.8" r="2.8" fill="#cfc81e"/>
<circle cx="1084" cy="552.8" r="2.3" fill="#141008"/>
<circle cx="1099.6" cy="568.3" r="3.2" fill="#7d7a22"/>
<circle cx="1099.6" cy="568.3" r="2.8" fill="#cfc81e"/>
<circle cx="1099.6" cy="568.3" r="2.3" fill="#141008"/>
<circle cx="992.8" cy="674.6" r="3.2" fill="#7d7a22"/>
<circle cx="992.8" cy="674.6" r="2.8" fill="#cfc81e"/>
<circle cx="992.8" cy="674.6" r="2.3" fill="#141008"/>
<circle cx="1159.1" cy="854" r="3.2" fill="#7d7a22"/>
<circle cx="1159.1" cy="854" r="2.8" fill="#cfc81e"/>
<circle cx="1159.1" cy="854" r="2.3" fill="#141008"/>
<circle cx="897.6" cy="590.4" r="3.2" fill="#7d7a22"/>
<circle cx="897.6" cy="590.4" r="2.8" fill="#cfc81e"/>
<circle cx="897.6" cy="590.4" r="2.3" fill="#141008"/>
<circle cx="987.5" cy="985.4" r="3.2" fill="#7d7a22"/>
<circle cx="987.5" cy="985.4" r="2.8" fill="#cfc81e"/>
<circle cx="987.5" cy="985.4" r="2.3" fill="#141008"/>
<circle cx="987.5" cy="999.3" r="3.2" fill="#7d7a22"/>
<circle cx="987.5" cy="999.3" r="2.8" fill="#cfc81e"/>
<circle cx="987.5" cy="999.3" r="2.3" fill="#141008"/>
<circle cx="1057.5" cy="962.4" r="3.2" fill="#7d7a22"/>
<circle cx="1057.5" cy="962.4" r="2.8" fill="#cfc81e"/>
<circle cx="1057.5" cy="962.4" r="2.3" fill="#141008"/>
<circle cx="949.3" cy="1035.5" r="3.2" fill="#7d7a22"/>
<circle cx="949.3" cy="1035.5" r="2.8" fill="#cfc81e"/>
<circle cx="949.3" cy="1035.5" r="2.3" fill="#141008"/>
<circle cx="1066.9" cy="1038.9" r="3.2" fill="#7d7a22"/>
<circle cx="1066.9" cy="1038.9" r="2.8" fill="#cfc81e"/>
<circle cx="1066.9" cy="1038.9" r="2.3" fill="#141008"/>
<circle cx="907.6" cy="1095" r="3.2" fill="#7d7a22"/>
<circle cx="907.6" cy="1095" r="2.8" fill="#cfc81e"/>
<circle cx="907.6" cy="1095" r="2.3" fill="#141008"/>
<circle cx="893.2" cy="1115.7" r="3.2" fill="#7d7a22"/>
<circle cx="893.2" cy="1115.7" r="2.8" fill="#cfc81e"/>
<circle cx="893.2" cy="1115.7" r="2.3" fill="#141008"/>
<circle cx="1159" cy="854.2" r="3.2" fill="#7d7a22"/>
<circle cx="1159" cy="854.2" r="2.8" fill="#cfc81e"/>
<circle cx="1159" cy="854.2" r="2.3" fill="#141008"/>
<circle cx="1144.8" cy="174.5" r="3.2" fill="#7d7a22"/>
<circle cx="1144.8" cy="174.5" r="2.8" fill="#cfc81e"/>
<circle cx="1144.8" cy="174.5" r="2.3" fill="#141008"/>
<circle cx="902.5" cy="144.9" r="3.2" fill="#7d7a22"/>
<circle cx="902.5" cy="144.9" r="2.8" fill="#cfc81e"/>
<circle cx="902.5" cy="144.9" r="2.3" fill="#141008"/>
<circle cx="898.2" cy="590.2" r="3.2" fill="#7d7a22"/>
<circle cx="898.2" cy="590.2" r="2.8" fill="#cfc81e"/>
<circle cx="898.2" cy="590.2" r="2.3" fill="#141008"/>
<circle cx="893.5" cy="1116.2" r="3.2" fill="#7d7a22"/>
<circle cx="893.5" cy="1116.2" r="2.8" fill="#cfc81e"/>
<circle cx="893.5" cy="1116.2" r="2.3" fill="#141008"/>
<circle cx="428.9" cy="341.7" r="3.2" fill="#7d7a22"/>
<circle cx="428.9" cy="341.7" r="2.8" fill="#cfc81e"/>
<circle cx="428.9" cy="341.7" r="2.3" fill="#2a6ad0"/>
<circle cx="522.1" cy="339.5" r="3.2" fill="#7d7a22"/>
<circle cx="522.1" cy="339.5" r="2.8" fill="#cfc81e"/>
<circle cx="522.1" cy="339.5" r="2.3" fill="#2a6ad0"/>
<circle cx="539.8" cy="333.5" r="3.2" fill="#7d7a22"/>
<circle cx="539.8" cy="333.5" r="2.8" fill="#cfc81e"/>
<circle cx="539.8" cy="333.5" r="2.3" fill="#2a6ad0"/>
<circle cx="575.5" cy="336.1" r="3.2" fill="#7d7a22"/>
<circle cx="575.5" cy="336.1" r="2.8" fill="#cfc81e"/>
<circle cx="575.5" cy="336.1" r="2.3" fill="#2a6ad0"/>
<circle cx="593.2" cy="337.5" r="3.2" fill="#7d7a22"/>
<circle cx="593.2" cy="337.5" r="2.8" fill="#cfc81e"/>
<circle cx="593.2" cy="337.5" r="2.3" fill="#2a6ad0"/>
<circle cx="520.4" cy="478.7" r="3.2" fill="#7d7a22"/>
<circle cx="520.4" cy="478.7" r="2.8" fill="#cfc81e"/>
<circle cx="520.4" cy="478.7" r="2.3" fill="#2a6ad0"/>
<circle cx="582.2" cy="475.4" r="3.2" fill="#7d7a22"/>
<circle cx="582.2" cy="475.4" r="2.8" fill="#cfc81e"/>
<circle cx="582.2" cy="475.4" r="2.3" fill="#2a6ad0"/>
<circle cx="605.6" cy="478.7" r="3.2" fill="#7d7a22"/>
<circle cx="605.6" cy="478.7" r="2.8" fill="#cfc81e"/>
<circle cx="605.6" cy="478.7" r="2.3" fill="#2a6ad0"/>
<circle cx="519.9" cy="479.1" r="3.2" fill="#7d7a22"/>
<circle cx="519.9" cy="479.1" r="2.8" fill="#cfc81e"/>
<circle cx="519.9" cy="479.1" r="2.3" fill="#2a6ad0"/>
<circle cx="582.5" cy="475.8" r="3.2" fill="#7d7a22"/>
<circle cx="582.5" cy="475.8" r="2.8" fill="#cfc81e"/>
<circle cx="582.5" cy="475.8" r="2.3" fill="#2a6ad0"/>
<circle cx="593.1" cy="337.7" r="3.2" fill="#7d7a22"/>
<circle cx="593.1" cy="337.7" r="2.8" fill="#cfc81e"/>
<circle cx="593.1" cy="337.7" r="2.3" fill="#2a6ad0"/>
<circle cx="582.5" cy="475.8" r="3.2" fill="#7d7a22"/>
<circle cx="582.5" cy="475.8" r="2.8" fill="#cfc81e"/>
<circle cx="582.5" cy="475.8" r="2.3" fill="#2a6ad0"/>
<circle cx="605.3" cy="479.1" r="3.2" fill="#7d7a22"/>
<circle cx="605.3" cy="479.1" r="2.8" fill="#cfc81e"/>
<circle cx="605.3" cy="479.1" r="2.3" fill="#2a6ad0"/>
<circle cx="622.3" cy="432" r="3.2" fill="#7d7a22"/>
<circle cx="622.3" cy="432" r="2.8" fill="#cfc81e"/>
<circle cx="622.3" cy="432" r="2.3" fill="#a8a8b4"/>
<circle cx="634.6" cy="431" r="3.2" fill="#7d7a22"/>
<circle cx="634.6" cy="431" r="2.8" fill="#cfc81e"/>
<circle cx="634.6" cy="431" r="2.3" fill="#a8a8b4"/>
<circle cx="647.3" cy="430.3" r="3.2" fill="#7d7a22"/>
<circle cx="647.3" cy="430.3" r="2.8" fill="#cfc81e"/>
<circle cx="647.3" cy="430.3" r="2.3" fill="#a8a8b4"/>
<circle cx="685.9" cy="448.1" r="3.2" fill="#7d7a22"/>
<circle cx="685.9" cy="448.1" r="2.8" fill="#cfc81e"/>
<circle cx="685.9" cy="448.1" r="2.3" fill="#a8a8b4"/>
<circle cx="742.7" cy="457.9" r="3.2" fill="#7d7a22"/>
<circle cx="742.7" cy="457.9" r="2.8" fill="#cfc81e"/>
<circle cx="742.7" cy="457.9" r="2.3" fill="#a8a8b4"/>
<circle cx="724.2" cy="476.9" r="3.2" fill="#7d7a22"/>
<circle cx="724.2" cy="476.9" r="2.8" fill="#cfc81e"/>
<circle cx="724.2" cy="476.9" r="2.3" fill="#a8a8b4"/>
<circle cx="712.6" cy="481.5" r="3.2" fill="#7d7a22"/>
<circle cx="712.6" cy="481.5" r="2.8" fill="#cfc81e"/>
<circle cx="712.6" cy="481.5" r="2.3" fill="#a8a8b4"/>
<circle cx="670.7" cy="479.7" r="3.2" fill="#7d7a22"/>
<circle cx="670.7" cy="479.7" r="2.8" fill="#cfc81e"/>
<circle cx="670.7" cy="479.7" r="2.3" fill="#a8a8b4"/>
<circle cx="730.5" cy="258" r="2.8" fill="#20c030"/>
<circle cx="754.7" cy="259.2" r="2.8" fill="#20c030"/>
<rect x="415.2" y="15.9" width="74.6" height="40.6" fill="#6e4a2a" rx="20.3"/>
<rect x="417" y="17.7" width="71" height="37" fill="#ffff22" rx="18.5"/>
<clipPath id="c452_36"><path d="M436.1,19.2 H468.9 V38.1 Q468.9,48.1 458.9,48.1 H446.1 Q436.1,48.1 436.1,38.1 Z"/></clipPath>
<g clip-path="url(#c452_36)">
<rect x="436.1" y="19.2" width="32.7" height="28.9" fill="#070707"/>
<rect x="436.1" y="19.2" width="32.7" height="9.5" fill="#8c8c8c"/>
<ellipse cx="452.5" cy="25.7" rx="15.4" ry="3.6" fill="#9c9c9c"/>
<rect x="437.6" y="28.7" width="32.7" height="7.8" fill="#3b3b3b"/>
<ellipse cx="452.5" cy="26.2" rx="15.4" ry="3.4" fill="#8c8c8c"/>
<rect x="436.1" y="44" width="32.7" height="5" fill="#9a9a9a"/>
<polygon points="439.1,37.2 444.6,44 439.1,44" fill="#ececec"/>
</g>
<rect x="417.3" y="152.3" width="74.4" height="40.3" fill="#6e4a2a" rx="20.2"/>
<rect x="419.1" y="154.2" width="70.8" height="36.7" fill="#ffff22" rx="18.4"/>
<clipPath id="c454_172"><path d="M438.4,185.7 H470.6 V170.8 Q470.6,160.8 460.6,160.8 H448.4 Q438.4,160.8 438.4,170.8 Z"/></clipPath>
<g clip-path="url(#c454_172)">
<rect x="438.4" y="160.8" width="32.3" height="24.9" fill="#070707"/>
<path d="M446.4,164 q12,-3.6 22,0.6 l0,1.4 q-11,-2.6 -22,0 z" fill="#1fd13a"/>
<rect x="440.6" y="167.8" width="32.3" height="9" fill="#a3a3a3"/>
<rect x="438.4" y="175.8" width="32.3" height="11" fill="#6c6c6c"/>
<path d="M440,179.3 q15,-6 29,1 l0,-5 q-14,-5 -29,-1 z" fill="#8f8f8f"/>
</g>
<rect x="123.9" y="182.6" width="73.6" height="40.1" fill="#6e4a2a" rx="20.1"/>
<rect x="125.7" y="184.4" width="70" height="36.5" fill="#ffff22" rx="18.2"/>
<clipPath id="c160_202"><path d="M144.3,185.7 H177 V204.6 Q177,214.6 167,214.6 H154.3 Q144.3,214.6 144.3,204.6 Z"/></clipPath>
<g clip-path="url(#c160_202)">
<rect x="144.3" y="185.7" width="32.7" height="28.9" fill="#070707"/>
<rect x="144.3" y="185.7" width="32.7" height="9.5" fill="#8c8c8c"/>
<ellipse cx="160.7" cy="192.2" rx="15.4" ry="3.6" fill="#9c9c9c"/>
<rect x="145.8" y="195.2" width="32.7" height="7.8" fill="#3b3b3b"/>
<ellipse cx="160.7" cy="192.7" rx="15.4" ry="3.4" fill="#8c8c8c"/>
<rect x="144.3" y="210.5" width="32.7" height="5" fill="#9a9a9a"/>
<polygon points="147.3,203.7 152.8,210.5 147.3,210.5" fill="#ececec"/>
</g>
<rect x="128.7" y="317.2" width="72.6" height="39.6" fill="#6e4a2a" rx="19.8"/>
<rect x="130.5" y="319" width="69" height="36" fill="#ffff22" rx="18"/>
<clipPath id="c165_337"><path d="M148.8,350.2 H181.2 V335.3 Q181.2,325.3 171.2,325.3 H158.8 Q148.8,325.3 148.8,335.3 Z"/></clipPath>
<g clip-path="url(#c165_337)">
<rect x="148.8" y="325.3" width="32.3" height="24.9" fill="#070707"/>
<path d="M156.8,328.5 q12,-3.6 22,0.6 l0,1.4 q-11,-2.6 -22,0 z" fill="#1fd13a"/>
<rect x="151" y="332.3" width="32.3" height="9" fill="#a3a3a3"/>
<rect x="148.8" y="340.3" width="32.3" height="11" fill="#6c6c6c"/>
<path d="M150.4,343.8 q15,-6 29,1 l0,-5 q-14,-5 -29,-1 z" fill="#8f8f8f"/>
</g>
<rect x="706.2" y="181.9" width="73.6" height="40.1" fill="#6e4a2a" rx="20.1"/>
<rect x="708" y="183.8" width="70" height="36.5" fill="#ffff22" rx="18.2"/>
<clipPath id="c743_202"><path d="M726.6,185 H759.4 V203.9 Q759.4,213.9 749.4,213.9 H736.6 Q726.6,213.9 726.6,203.9 Z"/></clipPath>
<g clip-path="url(#c743_202)">
<rect x="726.6" y="185" width="32.7" height="28.9" fill="#070707"/>
<rect x="726.6" y="185" width="32.7" height="9.5" fill="#8c8c8c"/>
<ellipse cx="743" cy="191.5" rx="15.4" ry="3.6" fill="#9c9c9c"/>
<rect x="728.1" y="194.5" width="32.7" height="7.8" fill="#3b3b3b"/>
<ellipse cx="743" cy="192" rx="15.4" ry="3.4" fill="#8c8c8c"/>
<rect x="726.6" y="209.8" width="32.7" height="5" fill="#9a9a9a"/>
<polygon points="729.6,203 735.1,209.8 729.6,209.8" fill="#ececec"/>
</g>
<rect x="706.2" y="316.3" width="73.6" height="40.1" fill="#6e4a2a" rx="20.1"/>
<rect x="708" y="318.1" width="70" height="36.5" fill="#ffff22" rx="18.2"/>
<clipPath id="c743_336"><path d="M726.9,349.6 H759.1 V334.7 Q759.1,324.7 749.1,324.7 H736.9 Q726.9,324.7 726.9,334.7 Z"/></clipPath>
<g clip-path="url(#c743_336)">
<rect x="726.9" y="324.7" width="32.3" height="24.9" fill="#070707"/>
<path d="M734.9,327.9 q12,-3.6 22,0.6 l0,1.4 q-11,-2.6 -22,0 z" fill="#1fd13a"/>
<rect x="729.1" y="331.7" width="32.3" height="9" fill="#a3a3a3"/>
<rect x="726.9" y="339.7" width="32.3" height="11" fill="#6c6c6c"/>
<path d="M728.5,343.2 q15,-6 29,1 l0,-5 q-14,-5 -29,-1 z" fill="#8f8f8f"/>
</g>
<rect x="139.3" y="981.5" width="71.2" height="36.6" fill="#6e4a2a" rx="18.3"/>
<rect x="141.1" y="983.3" width="67.6" height="33" fill="#ffff22" rx="16.5"/>
<clipPath id="c174_999"><path d="M157.4,988.7 H192.4 V1000.9 Q192.4,1010.9 182.4,1010.9 H167.4 Q157.4,1010.9 157.4,1000.9 Z"/></clipPath>
<g clip-path="url(#c174_999)">
<rect x="157.4" y="988.7" width="35" height="22.2" fill="#070707"/>
<ellipse cx="172.3" cy="990.3" rx="14.6" ry="10.8" fill="#8e8e8e"/>
<path d="M169.9,1001.7 q9,4.6 20,0.2" fill="none" stroke="#18d038" stroke-width="1.7"/>
<path d="M163.9,1006.7 l5,-5" fill="none" stroke="#b8a838" stroke-width="1.2"/>
</g>
<rect x="143.7" y="1105.1" width="70.4" height="35.3" fill="#6e4a2a" rx="17.6"/>
<rect x="145.5" y="1106.9" width="66.8" height="31.7" fill="#ffff22" rx="15.8"/>
<clipPath id="c178_1122"><path d="M162.7,1140.3 H195.1 V1121.5 Q195.1,1111.5 185.1,1111.5 H172.7 Q162.7,1111.5 162.7,1121.5 Z"/></clipPath>
<g clip-path="url(#c178_1122)">
<rect x="162.7" y="1111.5" width="32.4" height="28.8" fill="#070707"/>
<polygon points="168.7,1120.1 197.1,1120.1 191.3,1140.3 161.7,1140.3" fill="#6b6b6b"/>
<polygon points="161.7,1133.9 192.5,1133.9 191.1,1140.3 161.7,1140.3" fill="#a4a4a4"/>
<path d="M168.2,1118.5 l4,-5" fill="none" stroke="#9a9ab8" stroke-width="1.2"/>
</g>
<rect x="720.7" y="977.7" width="69.6" height="36.6" fill="#6e4a2a" rx="18.3"/>
<rect x="722.5" y="979.5" width="66" height="33" fill="#ffff22" rx="16.5"/>
<clipPath id="c755_996"><path d="M738,984.9 H773 V997.1 Q773,1007.1 763,1007.1 H748 Q738,1007.1 738,997.1 Z"/></clipPath>
<g clip-path="url(#c755_996)">
<rect x="738" y="984.9" width="35" height="22.2" fill="#070707"/>
<ellipse cx="752.9" cy="986.5" rx="14.6" ry="10.8" fill="#8e8e8e"/>
<path d="M750.5,997.9 q9,4.6 20,0.2" fill="none" stroke="#18d038" stroke-width="1.7"/>
<path d="M744.5,1002.9 l5,-5" fill="none" stroke="#b8a838" stroke-width="1.2"/>
</g>
<rect x="720.7" y="1102.2" width="69.6" height="35.6" fill="#6e4a2a" rx="17.8"/>
<rect x="722.5" y="1104" width="66" height="32" fill="#ffff22" rx="16"/>
<clipPath id="c755_1120"><path d="M739.3,1137.6 H771.7 V1118.8 Q771.7,1108.8 761.7,1108.8 H749.3 Q739.3,1108.8 739.3,1118.8 Z"/></clipPath>
<g clip-path="url(#c755_1120)">
<rect x="739.3" y="1108.8" width="32.4" height="28.8" fill="#070707"/>
<polygon points="745.3,1117.4 773.7,1117.4 767.9,1137.6 738.3,1137.6" fill="#6b6b6b"/>
<polygon points="738.3,1131.2 769.1,1131.2 767.7,1137.6 738.3,1137.6" fill="#a4a4a4"/>
<path d="M744.8,1115.8 l4,-5" fill="none" stroke="#9a9ab8" stroke-width="1.2"/>
</g>
<circle cx="364.9" cy="74.3" r="11.6" fill="#6e4a2a"/>
<circle cx="364.9" cy="74.3" r="9.7" fill="#ffff22"/>
<circle cx="364.9" cy="74.6" r="6" fill="#121212"/>
<path d="M361.3,69.7 q-1.2,5 0.6,9" fill="none" stroke="#d8d8e8" stroke-width="1.1" stroke-linecap="round"/>
<path d="M367.5,70.9 l2.2,2.6" fill="none" stroke="#b8b8d0" stroke-width="0.9" stroke-linecap="round"/>
<circle cx="365.3" cy="104" r="11.6" fill="#6e4a2a"/>
<circle cx="365.3" cy="104" r="9.7" fill="#ffff22"/>
<circle cx="365.3" cy="104.3" r="6" fill="#121212"/>
<path d="M361.7,99.4 q-1.2,5 0.6,9" fill="none" stroke="#d8d8e8" stroke-width="1.1" stroke-linecap="round"/>
<path d="M367.9,100.6 l2.2,2.6" fill="none" stroke="#b8b8d0" stroke-width="0.9" stroke-linecap="round"/>
<circle cx="365.9" cy="134.1" r="11.6" fill="#6e4a2a"/>
<circle cx="365.9" cy="134.1" r="9.7" fill="#ffff22"/>
<circle cx="365.9" cy="134.4" r="6" fill="#121212"/>
<path d="M362.3,129.5 q-1.2,5 0.6,9" fill="none" stroke="#d8d8e8" stroke-width="1.1" stroke-linecap="round"/>
<path d="M368.5,130.7 l2.2,2.6" fill="none" stroke="#b8b8d0" stroke-width="0.9" stroke-linecap="round"/>
<circle cx="535" cy="74" r="11.6" fill="#6e4a2a"/>
<circle cx="535" cy="74" r="9.7" fill="#ffff22"/>
<circle cx="535" cy="74.3" r="6" fill="#121212"/>
<path d="M531.4,69.4 q-1.2,5 0.6,9" fill="none" stroke="#d8d8e8" stroke-width="1.1" stroke-linecap="round"/>
<path d="M537.6,70.6 l2.2,2.6" fill="none" stroke="#b8b8d0" stroke-width="0.9" stroke-linecap="round"/>
<rect x="524" y="122" width="24" height="24" fill="#6e4a2a" rx="2"/>
<rect x="525.7" y="123.7" width="20.6" height="20.6" fill="#ffff22" rx="1"/>
<circle cx="536" cy="134.3" r="6" fill="#121212"/>
<path d="M532.4,129.4 q-1.2,5 0.6,9" fill="none" stroke="#d8d8e8" stroke-width="1.1" stroke-linecap="round"/>
<path d="M538.6,130.6 l2.2,2.6" fill="none" stroke="#b8b8d0" stroke-width="0.9" stroke-linecap="round"/>
<rect x="67.8" y="228.5" width="24.4" height="24.4" fill="#6e4a2a" rx="2"/>
<rect x="69.5" y="230.2" width="21" height="21" fill="#ffff22" rx="1"/>
<circle cx="80" cy="241" r="6" fill="#121212"/>
<path d="M76.4,236.1 q-1.2,5 0.6,9" fill="none" stroke="#d8d8e8" stroke-width="1.1" stroke-linecap="round"/>
<path d="M82.6,237.3 l2.2,2.6" fill="none" stroke="#b8b8d0" stroke-width="0.9" stroke-linecap="round"/>
<circle cx="81.7" cy="299.3" r="11.6" fill="#6e4a2a"/>
<circle cx="81.7" cy="299.3" r="9.7" fill="#ffff22"/>
<circle cx="81.7" cy="299.6" r="6" fill="#121212"/>
<path d="M78.1,294.7 q-1.2,5 0.6,9" fill="none" stroke="#d8d8e8" stroke-width="1.1" stroke-linecap="round"/>
<path d="M84.3,295.9 l2.2,2.6" fill="none" stroke="#b8b8d0" stroke-width="0.9" stroke-linecap="round"/>
<circle cx="250" cy="240" r="11.6" fill="#6e4a2a"/>
<circle cx="250" cy="240" r="9.7" fill="#ffff22"/>
<circle cx="250" cy="240.3" r="6" fill="#121212"/>
<path d="M246.4,235.4 q-1.2,5 0.6,9" fill="none" stroke="#d8d8e8" stroke-width="1.1" stroke-linecap="round"/>
<path d="M252.6,236.6 l2.2,2.6" fill="none" stroke="#b8b8d0" stroke-width="0.9" stroke-linecap="round"/>
<circle cx="249.3" cy="270" r="11.6" fill="#6e4a2a"/>
<circle cx="249.3" cy="270" r="9.7" fill="#ffff22"/>
<circle cx="249.3" cy="270.3" r="6" fill="#121212"/>
<path d="M245.7,265.4 q-1.2,5 0.6,9" fill="none" stroke="#d8d8e8" stroke-width="1.1" stroke-linecap="round"/>
<path d="M251.9,266.6 l2.2,2.6" fill="none" stroke="#b8b8d0" stroke-width="0.9" stroke-linecap="round"/>
<circle cx="250.7" cy="299.3" r="11.6" fill="#6e4a2a"/>
<circle cx="250.7" cy="299.3" r="9.7" fill="#ffff22"/>
<circle cx="250.7" cy="299.6" r="6" fill="#121212"/>
<path d="M247.1,294.7 q-1.2,5 0.6,9" fill="none" stroke="#d8d8e8" stroke-width="1.1" stroke-linecap="round"/>
<path d="M253.3,295.9 l2.2,2.6" fill="none" stroke="#b8b8d0" stroke-width="0.9" stroke-linecap="round"/>
<circle cx="656" cy="240" r="11.6" fill="#6e4a2a"/>
<circle cx="656" cy="240" r="9.7" fill="#ffff22"/>
<circle cx="656" cy="240.3" r="6" fill="#121212"/>
<path d="M652.4,235.4 q-1.2,5 0.6,9" fill="none" stroke="#d8d8e8" stroke-width="1.1" stroke-linecap="round"/>
<path d="M658.6,236.6 l2.2,2.6" fill="none" stroke="#b8b8d0" stroke-width="0.9" stroke-linecap="round"/>
<circle cx="656" cy="269.5" r="11.6" fill="#6e4a2a"/>
<circle cx="656" cy="269.5" r="9.7" fill="#ffff22"/>
<circle cx="656" cy="269.8" r="6" fill="#121212"/>
<path d="M652.4,264.9 q-1.2,5 0.6,9" fill="none" stroke="#d8d8e8" stroke-width="1.1" stroke-linecap="round"/>
<path d="M658.6,266.1 l2.2,2.6" fill="none" stroke="#b8b8d0" stroke-width="0.9" stroke-linecap="round"/>
<circle cx="656.5" cy="299" r="11.6" fill="#6e4a2a"/>
<circle cx="656.5" cy="299" r="9.7" fill="#ffff22"/>
<circle cx="656.5" cy="299.3" r="6" fill="#121212"/>
<path d="M652.9,294.4 q-1.2,5 0.6,9" fill="none" stroke="#d8d8e8" stroke-width="1.1" stroke-linecap="round"/>
<path d="M659.1,295.6 l2.2,2.6" fill="none" stroke="#b8b8d0" stroke-width="0.9" stroke-linecap="round"/>
<circle cx="823.5" cy="240" r="11.6" fill="#6e4a2a"/>
<circle cx="823.5" cy="240" r="9.7" fill="#ffff22"/>
<circle cx="823.5" cy="240.3" r="6" fill="#121212"/>
<path d="M819.9,235.4 q-1.2,5 0.6,9" fill="none" stroke="#d8d8e8" stroke-width="1.1" stroke-linecap="round"/>
<path d="M826.1,236.6 l2.2,2.6" fill="none" stroke="#b8b8d0" stroke-width="0.9" stroke-linecap="round"/>
<rect x="811.7" y="287.2" width="23.6" height="23.6" fill="#6e4a2a" rx="2"/>
<rect x="813.4" y="288.9" width="20.2" height="20.2" fill="#ffff22" rx="1"/>
<circle cx="823.5" cy="299.3" r="6" fill="#121212"/>
<path d="M819.9,294.4 q-1.2,5 0.6,9" fill="none" stroke="#d8d8e8" stroke-width="1.1" stroke-linecap="round"/>
<path d="M826.1,295.6 l2.2,2.6" fill="none" stroke="#b8b8d0" stroke-width="0.9" stroke-linecap="round"/>
<rect x="85.9" y="1023.2" width="23.6" height="23.6" fill="#6e4a2a" rx="2"/>
<rect x="87.6" y="1024.9" width="20.2" height="20.2" fill="#ffff22" rx="1"/>
<circle cx="97.7" cy="1035.3" r="6" fill="#121212"/>
<path d="M94.1,1030.4 q-1.2,5 0.6,9" fill="none" stroke="#d8d8e8" stroke-width="1.1" stroke-linecap="round"/>
<path d="M100.3,1031.6 l2.2,2.6" fill="none" stroke="#b8b8d0" stroke-width="0.9" stroke-linecap="round"/>
<circle cx="99.5" cy="1088.9" r="11.6" fill="#6e4a2a"/>
<circle cx="99.5" cy="1088.9" r="9.7" fill="#ffff22"/>
<circle cx="99.5" cy="1089.2" r="6" fill="#121212"/>
<path d="M95.9,1084.3 q-1.2,5 0.6,9" fill="none" stroke="#d8d8e8" stroke-width="1.1" stroke-linecap="round"/>
<path d="M102.1,1085.5 l2.2,2.6" fill="none" stroke="#b8b8d0" stroke-width="0.9" stroke-linecap="round"/>
<circle cx="260.2" cy="1034.3" r="11.6" fill="#6e4a2a"/>
<circle cx="260.2" cy="1034.3" r="9.7" fill="#ffff22"/>
<circle cx="260.2" cy="1034.6" r="6" fill="#121212"/>
<path d="M256.6,1029.7 q-1.2,5 0.6,9" fill="none" stroke="#d8d8e8" stroke-width="1.1" stroke-linecap="round"/>
<path d="M262.8,1030.9 l2.2,2.6" fill="none" stroke="#b8b8d0" stroke-width="0.9" stroke-linecap="round"/>
<circle cx="260.2" cy="1060.4" r="11.6" fill="#6e4a2a"/>
<circle cx="260.2" cy="1060.4" r="9.7" fill="#ffff22"/>
<circle cx="260.2" cy="1060.7" r="6" fill="#121212"/>
<path d="M256.6,1055.8 q-1.2,5 0.6,9" fill="none" stroke="#d8d8e8" stroke-width="1.1" stroke-linecap="round"/>
<path d="M262.8,1057 l2.2,2.6" fill="none" stroke="#b8b8d0" stroke-width="0.9" stroke-linecap="round"/>
<circle cx="259" cy="1087.6" r="11.6" fill="#6e4a2a"/>
<circle cx="259" cy="1087.6" r="9.7" fill="#ffff22"/>
<circle cx="259" cy="1087.9" r="6" fill="#121212"/>
<path d="M255.4,1083 q-1.2,5 0.6,9" fill="none" stroke="#d8d8e8" stroke-width="1.1" stroke-linecap="round"/>
<path d="M261.6,1084.2 l2.2,2.6" fill="none" stroke="#b8b8d0" stroke-width="0.9" stroke-linecap="round"/>
<circle cx="673" cy="1031.3" r="11.6" fill="#6e4a2a"/>
<circle cx="673" cy="1031.3" r="9.7" fill="#ffff22"/>
<circle cx="673" cy="1031.6" r="6" fill="#121212"/>
<path d="M669.4,1026.7 q-1.2,5 0.6,9" fill="none" stroke="#d8d8e8" stroke-width="1.1" stroke-linecap="round"/>
<path d="M675.6,1027.9 l2.2,2.6" fill="none" stroke="#b8b8d0" stroke-width="0.9" stroke-linecap="round"/>
<circle cx="673" cy="1058.5" r="11.6" fill="#6e4a2a"/>
<circle cx="673" cy="1058.5" r="9.7" fill="#ffff22"/>
<circle cx="673" cy="1058.8" r="6" fill="#121212"/>
<path d="M669.4,1053.9 q-1.2,5 0.6,9" fill="none" stroke="#d8d8e8" stroke-width="1.1" stroke-linecap="round"/>
<path d="M675.6,1055.1 l2.2,2.6" fill="none" stroke="#b8b8d0" stroke-width="0.9" stroke-linecap="round"/>
<circle cx="673.5" cy="1085.4" r="11.6" fill="#6e4a2a"/>
<circle cx="673.5" cy="1085.4" r="9.7" fill="#ffff22"/>
<circle cx="673.5" cy="1085.7" r="6" fill="#121212"/>
<path d="M669.9,1080.8 q-1.2,5 0.6,9" fill="none" stroke="#d8d8e8" stroke-width="1.1" stroke-linecap="round"/>
<path d="M676.1,1082 l2.2,2.6" fill="none" stroke="#b8b8d0" stroke-width="0.9" stroke-linecap="round"/>
<circle cx="832.5" cy="1030.5" r="11.6" fill="#6e4a2a"/>
<circle cx="832.5" cy="1030.5" r="9.7" fill="#ffff22"/>
<circle cx="832.5" cy="1030.8" r="6" fill="#121212"/>
<path d="M828.9,1025.9 q-1.2,5 0.6,9" fill="none" stroke="#d8d8e8" stroke-width="1.1" stroke-linecap="round"/>
<path d="M835.1,1027.1 l2.2,2.6" fill="none" stroke="#b8b8d0" stroke-width="0.9" stroke-linecap="round"/>
<rect x="820.7" y="1072.2" width="23.6" height="23.6" fill="#6e4a2a" rx="2"/>
<rect x="822.4" y="1073.9" width="20.2" height="20.2" fill="#ffff22" rx="1"/>
<circle cx="832.5" cy="1084.3" r="6" fill="#121212"/>
<path d="M828.9,1079.4 q-1.2,5 0.6,9" fill="none" stroke="#d8d8e8" stroke-width="1.1" stroke-linecap="round"/>
<path d="M835.1,1080.6 l2.2,2.6" fill="none" stroke="#b8b8d0" stroke-width="0.9" stroke-linecap="round"/>
<circle cx="368.8" cy="266.7" r="9.9" fill="#6e4a2a"/>
<circle cx="368.8" cy="266.7" r="8" fill="#cfcfd2"/>
<polygon points="363.6,265 370.4,266.4 370.6,275.4 363.6,272.6" fill="#2c2418"/>
<rect x="356.7" y="265" width="7.2" height="7.4" fill="#d9b778"/>
<rect x="358.5" y="266.9" width="3.6" height="3.6" fill="#f4e2b4"/>
<circle cx="398.6" cy="266.7" r="9.9" fill="#6e4a2a"/>
<circle cx="398.6" cy="266.7" r="8" fill="#cfcfd2"/>
<polygon points="393.4,265 400.2,266.4 400.4,275.4 393.4,272.6" fill="#2c2418"/>
<rect x="386.5" y="265" width="7.2" height="7.4" fill="#d9b778"/>
<rect x="388.3" y="266.9" width="3.6" height="3.6" fill="#f4e2b4"/>
<circle cx="428.4" cy="266.7" r="9.9" fill="#6e4a2a"/>
<circle cx="428.4" cy="266.7" r="8" fill="#cfcfd2"/>
<polygon points="423.2,265 430,266.4 430.2,275.4 423.2,272.6" fill="#2c2418"/>
<rect x="416.3" y="265" width="7.2" height="7.4" fill="#d9b778"/>
<rect x="418.1" y="266.9" width="3.6" height="3.6" fill="#f4e2b4"/>
<circle cx="458.3" cy="266.7" r="9.9" fill="#6e4a2a"/>
<circle cx="458.3" cy="266.7" r="8" fill="#cfcfd2"/>
<polygon points="453.1,265 459.9,266.4 460.1,275.4 453.1,272.6" fill="#2c2418"/>
<rect x="446.2" y="265" width="7.2" height="7.4" fill="#d9b778"/>
<rect x="448" y="266.9" width="3.6" height="3.6" fill="#f4e2b4"/>
<circle cx="488.1" cy="266.7" r="9.9" fill="#6e4a2a"/>
<circle cx="488.1" cy="266.7" r="8" fill="#cfcfd2"/>
<polygon points="482.9,265 489.7,266.4 489.9,275.4 482.9,272.6" fill="#2c2418"/>
<rect x="476" y="265" width="7.2" height="7.4" fill="#d9b778"/>
<rect x="477.8" y="266.9" width="3.6" height="3.6" fill="#f4e2b4"/>
<circle cx="517.9" cy="266.7" r="9.9" fill="#6e4a2a"/>
<circle cx="517.9" cy="266.7" r="8" fill="#cfcfd2"/>
<polygon points="512.7,265 519.5,266.4 519.7,275.4 512.7,272.6" fill="#2c2418"/>
<rect x="505.8" y="265" width="7.2" height="7.4" fill="#d9b778"/>
<rect x="507.6" y="266.9" width="3.6" height="3.6" fill="#f4e2b4"/>
<circle cx="547.7" cy="266.7" r="9.9" fill="#6e4a2a"/>
<circle cx="547.7" cy="266.7" r="8" fill="#ffff22"/>
<path d="M548.7,258.7 a8,8 0 0 0 0,16 z" fill="#cfcfd2"/>
<path d="M549.7,258.9 a8,8 0 0 0 -3,15.5 z" fill="#cfcfd2"/>
<polygon points="542.5,265 549.3,266.4 549.5,275.4 542.5,272.6" fill="#2c2418"/>
<rect x="535.6" y="265" width="7.2" height="7.4" fill="#d9b778"/>
<rect x="537.4" y="266.9" width="3.6" height="3.6" fill="#f4e2b4"/>
<rect x="952.3" y="77.8" width="24.4" height="24.4" fill="#6e4a2a" rx="2"/>
<rect x="954" y="79.5" width="21" height="21" fill="#ffff22" rx="1"/>
<circle cx="964" cy="90.7" r="5.7" fill="#15100a"/>
<rect x="963" y="83.6" width="7" height="7.2" fill="#b9a078"/>
<rect x="965.2" y="83.7" width="4.3" height="4.4" fill="#f6e4b4"/>
<circle cx="994" cy="90" r="11.7" fill="#6e4a2a"/>
<circle cx="994" cy="90" r="9.8" fill="#ffff22"/>
<circle cx="993.5" cy="90.7" r="5.7" fill="#15100a"/>
<rect x="992.6" y="83.6" width="7" height="7.2" fill="#b9a078"/>
<rect x="995" y="83.7" width="4.3" height="4.4" fill="#f6e4b4"/>
<circle cx="1023.4" cy="90" r="11.7" fill="#6e4a2a"/>
<circle cx="1023.4" cy="90" r="9.8" fill="#ffff22"/>
<circle cx="1022.8" cy="90.7" r="5.7" fill="#15100a"/>
<rect x="1022.2" y="83.6" width="7" height="7.2" fill="#b9a078"/>
<rect x="1024.6" y="83.7" width="4.3" height="4.4" fill="#f6e4b4"/>
<circle cx="1052.8" cy="90" r="12.2" fill="#ffff22"/>
<circle cx="1052.2" cy="90.7" r="5.7" fill="#15100a"/>
<rect x="1051.8" y="83.6" width="7" height="7.2" fill="#b9a078"/>
<rect x="1054.3" y="83.7" width="4.3" height="4.4" fill="#f6e4b4"/>
<circle cx="1082.2" cy="90" r="11.7" fill="#6e4a2a"/>
<circle cx="1082.2" cy="90" r="9.8" fill="#ffff22"/>
<circle cx="1081.5" cy="90.7" r="5.7" fill="#15100a"/>
<rect x="1081.3" y="83.6" width="7" height="7.2" fill="#b9a078"/>
<rect x="1083.9" y="83.7" width="4.3" height="4.4" fill="#f6e4b4"/>
<circle cx="1111.6" cy="90" r="11.7" fill="#6e4a2a"/>
<circle cx="1111.6" cy="90" r="9.8" fill="#ffff22"/>
<circle cx="1110.9" cy="90.7" r="5.7" fill="#15100a"/>
<rect x="1110.9" y="83.6" width="7" height="7.2" fill="#b9a078"/>
<rect x="1113.5" y="83.7" width="4.3" height="4.4" fill="#f6e4b4"/>
<circle cx="1141" cy="90" r="11.7" fill="#6e4a2a"/>
<circle cx="1141" cy="90" r="9.8" fill="#ffff22"/>
<circle cx="1140.3" cy="90.7" r="5.7" fill="#15100a"/>
<rect x="1140.5" y="83.6" width="7" height="7.2" fill="#b9a078"/>
<rect x="1143.2" y="83.7" width="4.3" height="4.4" fill="#f6e4b4"/>
<circle cx="1170.4" cy="90" r="11.7" fill="#6e4a2a"/>
<circle cx="1170.4" cy="90" r="9.8" fill="#ffff22"/>
<circle cx="1169.6" cy="90.7" r="5.7" fill="#15100a"/>
<rect x="1170" y="83.6" width="7" height="7.2" fill="#b9a078"/>
<rect x="1172.8" y="83.7" width="4.3" height="4.4" fill="#f6e4b4"/>
<circle cx="964.5" cy="120.3" r="11.7" fill="#6e4a2a"/>
<circle cx="964.5" cy="120.3" r="9.8" fill="#ffff22"/>
<circle cx="964" cy="121" r="5.7" fill="#15100a"/>
<rect x="963" y="114.1" width="7" height="7.2" fill="#b9a078"/>
<rect x="965.2" y="114.3" width="4.3" height="4.4" fill="#f6e4b4"/>
<circle cx="994" cy="120.3" r="11.7" fill="#6e4a2a"/>
<circle cx="994" cy="120.3" r="9.8" fill="#ffff22"/>
<circle cx="993.5" cy="121" r="5.7" fill="#15100a"/>
<rect x="992.6" y="114.1" width="7" height="7.2" fill="#b9a078"/>
<rect x="995" y="114.3" width="4.3" height="4.4" fill="#f6e4b4"/>
<circle cx="1023.4" cy="120.3" r="11.7" fill="#6e4a2a"/>
<circle cx="1023.4" cy="120.3" r="9.8" fill="#ffff22"/>
<circle cx="1022.8" cy="121" r="5.7" fill="#15100a"/>
<rect x="1022.2" y="114.1" width="7" height="7.2" fill="#b9a078"/>
<rect x="1024.6" y="114.3" width="4.3" height="4.4" fill="#f6e4b4"/>
<circle cx="1052.8" cy="120.3" r="12.2" fill="#ffff22"/>
<circle cx="1052.2" cy="121" r="5.7" fill="#15100a"/>
<rect x="1051.8" y="114.1" width="7" height="7.2" fill="#b9a078"/>
<rect x="1054.3" y="114.3" width="4.3" height="4.4" fill="#f6e4b4"/>
<circle cx="1082.2" cy="120.3" r="11.7" fill="#6e4a2a"/>
<circle cx="1082.2" cy="120.3" r="9.8" fill="#ffff22"/>
<circle cx="1081.5" cy="121" r="5.7" fill="#15100a"/>
<rect x="1081.3" y="114.1" width="7" height="7.2" fill="#b9a078"/>
<rect x="1083.9" y="114.3" width="4.3" height="4.4" fill="#f6e4b4"/>
<circle cx="1111.6" cy="120.3" r="11.7" fill="#6e4a2a"/>
<circle cx="1111.6" cy="120.3" r="9.8" fill="#ffff22"/>
<circle cx="1110.9" cy="121" r="5.7" fill="#15100a"/>
<rect x="1110.9" y="114.1" width="7" height="7.2" fill="#b9a078"/>
<rect x="1113.5" y="114.3" width="4.3" height="4.4" fill="#f6e4b4"/>
<circle cx="1141" cy="120.3" r="11.7" fill="#6e4a2a"/>
<circle cx="1141" cy="120.3" r="9.8" fill="#ffff22"/>
<circle cx="1140.3" cy="121" r="5.7" fill="#15100a"/>
<rect x="1140.5" y="114.1" width="7" height="7.2" fill="#b9a078"/>
<rect x="1143.2" y="114.3" width="4.3" height="4.4" fill="#f6e4b4"/>
<circle cx="1170.4" cy="120.3" r="11.7" fill="#6e4a2a"/>
<circle cx="1170.4" cy="120.3" r="9.8" fill="#ffff22"/>
<circle cx="1169.6" cy="121" r="5.7" fill="#15100a"/>
<rect x="1170" y="114.1" width="7" height="7.2" fill="#b9a078"/>
<rect x="1172.8" y="114.3" width="4.3" height="4.4" fill="#f6e4b4"/>
<circle cx="1061.4" cy="303.6" r="11.6" fill="#6e4a2a"/>
<circle cx="1061.4" cy="303.6" r="9.7" fill="#ffff22"/>
<circle cx="1060.8" cy="304" r="5.7" fill="#15100a"/>
<rect x="1060.4" y="298.4" width="7" height="7.2" fill="#b9a078"/>
<rect x="1062.9" y="299.1" width="4.3" height="4.4" fill="#f6e4b4"/>
<circle cx="1089.7" cy="303.6" r="11.6" fill="#6e4a2a"/>
<circle cx="1089.7" cy="303.6" r="9.7" fill="#ffff22"/>
<circle cx="1089" cy="304" r="5.7" fill="#15100a"/>
<rect x="1088.9" y="298.4" width="7" height="7.2" fill="#b9a078"/>
<rect x="1091.5" y="299.1" width="4.3" height="4.4" fill="#f6e4b4"/>
<rect x="1107.6" y="291.8" width="23.6" height="23.6" fill="#6e4a2a" rx="2"/>
<rect x="1109.3" y="293.5" width="20.2" height="20.2" fill="#ffff22" rx="1"/>
<circle cx="1118.7" cy="304" r="5.7" fill="#15100a"/>
<rect x="1118.7" y="298.4" width="7" height="7.2" fill="#b9a078"/>
<rect x="1121.4" y="299.1" width="4.3" height="4.4" fill="#f6e4b4"/>
<rect x="926.2" y="509.2" width="23.6" height="23.6" fill="#6e4a2a" rx="2"/>
<rect x="927.9" y="510.9" width="20.2" height="20.2" fill="#ffff22" rx="1"/>
<circle cx="937.5" cy="521.1" r="5.7" fill="#15100a"/>
<rect x="936.3" y="517" width="7" height="7.2" fill="#b9a078"/>
<rect x="938.5" y="518.2" width="4.3" height="4.4" fill="#f6e4b4"/>
<circle cx="938" cy="550" r="11.6" fill="#6e4a2a"/>
<circle cx="938" cy="550" r="9.7" fill="#ffff22"/>
<circle cx="937.5" cy="550.1" r="5.7" fill="#15100a"/>
<rect x="936.3" y="546.2" width="7" height="7.2" fill="#b9a078"/>
<rect x="938.5" y="547.5" width="4.3" height="4.4" fill="#f6e4b4"/>
<circle cx="935.3" cy="651" r="11.6" fill="#6e4a2a"/>
<circle cx="935.3" cy="651" r="9.7" fill="#ffff22"/>
<circle cx="934.9" cy="650.9" r="5.7" fill="#15100a"/>
<rect x="933.6" y="647.7" width="7" height="7.2" fill="#b9a078"/>
<rect x="935.8" y="649.3" width="4.3" height="4.4" fill="#f6e4b4"/>
<rect x="921.5" y="667.6" width="23.6" height="23.6" fill="#6e4a2a" rx="2"/>
<rect x="923.2" y="669.3" width="20.2" height="20.2" fill="#ffff22" rx="1"/>
<circle cx="932.9" cy="679.3" r="5.7" fill="#15100a"/>
<rect x="931.6" y="676.3" width="7" height="7.2" fill="#b9a078"/>
<rect x="933.8" y="677.9" width="4.3" height="4.4" fill="#f6e4b4"/>
<circle cx="1002.4" cy="714.8" r="11.6" fill="#6e4a2a"/>
<circle cx="1002.4" cy="714.8" r="9.7" fill="#ffff22"/>
<circle cx="1001.9" cy="714.6" r="5.7" fill="#15100a"/>
<rect x="1001.1" y="711.9" width="7" height="7.2" fill="#b9a078"/>
<rect x="1003.5" y="713.6" width="4.3" height="4.4" fill="#f6e4b4"/>
<rect x="1019.8" y="703" width="23.6" height="23.6" fill="#6e4a2a" rx="2"/>
<rect x="1021.5" y="704.7" width="20.2" height="20.2" fill="#ffff22" rx="1"/>
<circle cx="1031" cy="714.6" r="5.7" fill="#15100a"/>
<rect x="1030.4" y="711.9" width="7" height="7.2" fill="#b9a078"/>
<rect x="1032.9" y="713.6" width="4.3" height="4.4" fill="#f6e4b4"/>
<rect x="991.3" y="865" width="23.6" height="23.6" fill="#6e4a2a" rx="2"/>
<rect x="993" y="866.7" width="20.2" height="20.2" fill="#ffff22" rx="1"/>
<circle cx="1002.6" cy="876.4" r="5.7" fill="#15100a"/>
<rect x="1001.8" y="874.8" width="7" height="7.2" fill="#b9a078"/>
<rect x="1004.2" y="876.9" width="4.3" height="4.4" fill="#f6e4b4"/>
<circle cx="1030.9" cy="876.8" r="11.6" fill="#6e4a2a"/>
<circle cx="1030.9" cy="876.8" r="9.7" fill="#ffff22"/>
<circle cx="1030.3" cy="876.4" r="5.7" fill="#15100a"/>
<rect x="1029.7" y="874.8" width="7" height="7.2" fill="#b9a078"/>
<rect x="1032.2" y="876.9" width="4.3" height="4.4" fill="#f6e4b4"/>
<rect x="999.2" y="1088.9" width="23.6" height="23.6" fill="#6e4a2a" rx="2"/>
<rect x="1000.9" y="1090.6" width="20.2" height="20.2" fill="#ffff22" rx="1"/>
<circle cx="1010.4" cy="1100" r="5.7" fill="#15100a"/>
<rect x="1009.7" y="1100" width="7" height="7.2" fill="#b9a078"/>
<rect x="1012.1" y="1102.6" width="4.3" height="4.4" fill="#f6e4b4"/>
<circle cx="1038.5" cy="1100.7" r="10.6" fill="#ffff22"/>
<circle cx="1037.9" cy="1100" r="5.7" fill="#15100a"/>
<rect x="1037.4" y="1100" width="7" height="7.2" fill="#b9a078"/>
<rect x="1039.8" y="1102.6" width="4.3" height="4.4" fill="#f6e4b4"/>
<circle cx="1134" cy="1058.8" r="11.6" fill="#6e4a2a"/>
<circle cx="1134" cy="1058.8" r="9.7" fill="#ffff22"/>
<circle cx="1133.3" cy="1058.1" r="5.7" fill="#15100a"/>
<rect x="1133.4" y="1057.8" width="7" height="7.2" fill="#b9a078"/>
<rect x="1136.1" y="1060.4" width="4.3" height="4.4" fill="#f6e4b4"/>
<rect x="1121.6" y="1074.2" width="23.6" height="23.6" fill="#6e4a2a" rx="2"/>
<rect x="1123.3" y="1075.9" width="20.2" height="20.2" fill="#ffff22" rx="1"/>
<circle cx="1132.7" cy="1085.3" r="5.7" fill="#15100a"/>
<rect x="1132.8" y="1085.2" width="7" height="7.2" fill="#b9a078"/>
<rect x="1135.5" y="1087.8" width="4.3" height="4.4" fill="#f6e4b4"/>
<polyline points="990.5,630 1077.8,630 1077.8,660.4 990.5,660.4 990.5,630" fill="none" stroke="#f4f4f4" stroke-width="1.4"/>
<polyline points="1091,630 1106,630 1106,646" fill="none" stroke="#f4f4f4" stroke-width="1.4"/>
<circle cx="1005.2" cy="644.8" r="13.1" fill="#6e4a2a"/>
<circle cx="1005.2" cy="644.8" r="11.2" fill="#ffff22"/>
<circle cx="1005.2" cy="644.8" r="6.4" fill="#8a8aa8"/>
<path d="M999.4,647.3 a6.4,6.4 0 0 1 10.9,-5.8 a9,9 0 0 0 -10.9,5.8 z" fill="#15100a"/>
<circle cx="1034.4" cy="644.8" r="11.7" fill="#6e4a2a"/>
<circle cx="1034.4" cy="644.8" r="9.8" fill="#ffff22"/>
<circle cx="1034.4" cy="644.8" r="6.2" fill="#8a8aa8"/>
<path d="M1028.8,647.3 a6.2,6.2 0 0 1 10.5,-5.6 a9,9 0 0 0 -10.5,5.6 z" fill="#15100a"/>
<circle cx="1062.8" cy="644.8" r="11.7" fill="#6e4a2a"/>
<circle cx="1062.8" cy="644.8" r="9.8" fill="#ffff22"/>
<circle cx="1062.8" cy="644.8" r="6.2" fill="#8a8aa8"/>
<path d="M1057.2,647.3 a6.2,6.2 0 0 1 10.5,-5.6 a9,9 0 0 0 -10.5,5.6 z" fill="#15100a"/>
<rect x="1080.9" y="633.7" width="22.2" height="22.2" fill="#ffff22" rx="1"/>
<circle cx="1092" cy="644.8" r="6.2" fill="#8a8aa8"/>
<path d="M1086.4,647.3 a6.2,6.2 0 0 1 10.5,-5.6 a9,9 0 0 0 -10.5,5.6 z" fill="#15100a"/>
<circle cx="586.6" cy="205.5" r="17.9" fill="#8a8420"/>
<circle cx="586.6" cy="205.5" r="17.1" fill="#b9b9d8"/>
<path d="M570.3,211 a17,17 0 0 1 22,-21.5" fill="none" stroke="#0a0a0a" stroke-width="1.5"/>
<text x="95" y="162.7" font-size="35" font-weight="normal" font-style="normal" text-anchor="start" letter-spacing="0" fill="#f4f4f4" textLength="91.5" lengthAdjust="spacingAndGlyphs" stroke="#f4f4f4" stroke-width="0.6" stroke-linejoin="round">Gates</text>
<text x="78.5" y="364" font-size="26.5" font-weight="normal" font-style="normal" text-anchor="start" letter-spacing="0" fill="#f4f4f4" textLength="43.5" lengthAdjust="spacingAndGlyphs" stroke="#f4f4f4" stroke-width="0.8" stroke-linejoin="round">J89</text>
<text x="201.5" y="364" font-size="26.5" font-weight="normal" font-style="normal" text-anchor="start" letter-spacing="0" fill="#f4f4f4" textLength="44" lengthAdjust="spacingAndGlyphs" stroke="#f4f4f4" stroke-width="0.8" stroke-linejoin="round">J19</text>
<text x="77.4" y="663" font-size="26.5" font-weight="normal" font-style="normal" text-anchor="start" letter-spacing="0" fill="#f4f4f4" textLength="75.6" lengthAdjust="spacingAndGlyphs" stroke="#f4f4f4" stroke-width="0.8" stroke-linejoin="round">JLCD1</text>
<text x="0" y="0" font-size="26" font-weight="normal" font-style="normal" text-anchor="start" letter-spacing="0" fill="#f4f4f4" textLength="54.5" lengthAdjust="spacingAndGlyphs" transform="translate(789.8 393) rotate(90) scale(1 1)">Foot</text>
<text x="0" y="0" font-size="27" font-weight="bold" font-style="normal" text-anchor="start" letter-spacing="0" fill="#f4f4f4" textLength="110" lengthAdjust="spacingAndGlyphs" transform="translate(791.6 545.5) rotate(90) scale(1 1)">BootLoad</text>
<text x="823.5" y="493" font-size="17.5" font-weight="normal" font-style="normal" text-anchor="start" letter-spacing="0" fill="#f4f4f4" textLength="20.5" lengthAdjust="spacingAndGlyphs">C5</text>
<text x="0" y="0" font-size="19" font-weight="normal" font-style="normal" text-anchor="start" letter-spacing="0" fill="#f4f4f4" textLength="21.5" lengthAdjust="spacingAndGlyphs" transform="translate(421.6 522) rotate(90) scale(1 1)">C3</text>
<text x="0" y="0" font-size="19" font-weight="normal" font-style="normal" text-anchor="start" letter-spacing="0" fill="#f4f4f4" textLength="20.5" lengthAdjust="spacingAndGlyphs" transform="translate(520.2 522) rotate(90) scale(1 1)">C6</text>
<text x="500.4" y="641.8" font-size="27.5" font-weight="normal" font-style="normal" text-anchor="start" letter-spacing="0" fill="#f4f4f4" textLength="67" lengthAdjust="spacingAndGlyphs" stroke="#f4f4f4" stroke-width="0.8" stroke-linejoin="round">JAIN3</text>
<text x="694.8" y="634.4" font-size="17.6" font-weight="normal" font-style="italic" text-anchor="start" letter-spacing="0" fill="#f4f4f4" textLength="75.3" lengthAdjust="spacingAndGlyphs">Doughter</text>
<text x="551" y="180.9" font-size="18.5" font-weight="normal" font-style="italic" text-anchor="start" letter-spacing="0" fill="#f4f4f4" textLength="77" lengthAdjust="spacingAndGlyphs">Doughter</text>
<text x="561" y="238.9" font-size="18" font-weight="normal" font-style="italic" text-anchor="start" letter-spacing="0" fill="#f4f4f4" textLength="58" lengthAdjust="spacingAndGlyphs">MOUNT</text>
<text x="661" y="902.6" font-size="15.4" font-weight="normal" font-style="italic" text-anchor="start" letter-spacing="0" fill="#f4f4f4" textLength="73.4" lengthAdjust="spacingAndGlyphs">Doughter</text>
<text x="366.8" y="898.5" font-size="15.5" font-weight="normal" font-style="normal" text-anchor="start" letter-spacing="0" fill="#f4f4f4" textLength="21.5" lengthAdjust="spacingAndGlyphs">M3</text>
<text x="489.8" y="948" font-size="15.5" font-weight="normal" font-style="normal" text-anchor="start" letter-spacing="0" fill="#f4f4f4" textLength="21.6" lengthAdjust="spacingAndGlyphs">M2</text>
<text x="983.4" y="623.6" font-size="27.5" font-weight="normal" font-style="italic" text-anchor="start" letter-spacing="0" fill="#f4f4f4" textLength="64" lengthAdjust="spacingAndGlyphs" stroke="#f4f4f4" stroke-width="0.9" stroke-linejoin="round">CORE</text>
<text x="1029.3" y="680.8" font-size="16.5" font-weight="normal" font-style="normal" text-anchor="start" letter-spacing="0" fill="#f4f4f4" textLength="44.8" lengthAdjust="spacingAndGlyphs" stroke="#f4f4f4" stroke-width="0.4" stroke-linejoin="round">JAIN2</text>
<text x="1078.7" y="920.8" font-size="17" font-weight="normal" font-style="normal" text-anchor="start" letter-spacing="0" fill="#f4f4f4" textLength="47.3" lengthAdjust="spacingAndGlyphs" stroke="#f4f4f4" stroke-width="0.4" stroke-linejoin="round">JAUT2</text>
<text x="1012.5" y="954.8" font-size="26" font-weight="normal" font-style="italic" text-anchor="start" letter-spacing="0" fill="#f4f4f4" textLength="61.5" lengthAdjust="spacingAndGlyphs" stroke="#f4f4f4" stroke-width="0.9" stroke-linejoin="round">CORE</text>
<text x="594.5" y="880.1" font-size="27" font-weight="normal" font-style="normal" text-anchor="start" letter-spacing="0" fill="#f4f4f4" textLength="70.7" lengthAdjust="spacingAndGlyphs" stroke="#f4f4f4" stroke-width="0.8" stroke-linejoin="round">JAUT1</text>
<text x="0" y="0" font-size="18" font-weight="normal" font-style="normal" text-anchor="start" letter-spacing="0" fill="#f4f4f4" textLength="14.2" lengthAdjust="spacingAndGlyphs" transform="translate(833.6 652.4) rotate(90) scale(1 1)">J2</text>
<text x="0" y="0" font-size="27" font-weight="normal" font-style="normal" text-anchor="start" letter-spacing="0" fill="#f4f4f4" textLength="75" lengthAdjust="spacingAndGlyphs" transform="translate(275.8 958) rotate(90) scale(1 1)" stroke="#f4f4f4" stroke-width="0.8" stroke-linejoin="round">JMidi1</text>
<polyline points="43.1,131.5 226.6,132.2 223.6,22 215.4,21.5" fill="none" stroke="#f4f4f4" stroke-width="1.5"/>
<polygon points="195.3,3.8 222.9,22.5 222.9,130.7 42.6,131.7 8.8,116.5 197.8,116.5" fill="#050505"/>
<polygon points="207.9,56.3 211.9,58.1 211.9,90.2 207.9,87.7" fill="#223c2c"/>
<polyline points="211.9,58.1 211.9,90.2" fill="none" stroke="#dddddd" stroke-width="1.2"/>
<polygon points="3.8,3.8 70.9,3.8 70.9,18.8 96.4,19.5 127.7,19.5 127.7,3.8 195.3,3.8 198.3,116.5 8.8,116.5" fill="#504c4c"/>
<polygon points="18.8,18.8 70.9,18.8 70.9,3.8 96.4,19.5 96.4,33.8 45.1,33.8 45.1,55.6 40.1,53.8 40.1,90.7 47.6,93.2 47.6,100.2 20.5,100.2" fill="#050505"/>
<polygon points="127.7,19.5 180.8,19.5 180.8,33.8 150.3,33.8" fill="#050505"/>
<polygon points="30.1,50.1 40.1,53.8 40.1,90.7 30.1,86.4" fill="#c4c4e2"/>
<polyline points="40.3,54.1 40.8,90.7" fill="none" stroke="#ffffff" stroke-width="1.4"/>
<circle cx="40.1" cy="116.7" r="3.2" fill="#3a3737"/>
<circle cx="103.9" cy="116.7" r="3.2" fill="#3a3737"/>
<circle cx="168.3" cy="116.7" r="3.2" fill="#3a3737"/>
<circle cx="72.6" cy="131.2" r="3" fill="#000"/>
<circle cx="134" cy="131.2" r="3" fill="#000"/>
<circle cx="195.3" cy="131.2" r="3" fill="#000"/>
<polygon points="71.9,49 94.2,62 97.5,56.6 75.8,42.7" fill="#2b2115"/>
<polygon points="75.8,42.7 97.5,56.6 97.1,57.4 75.4,43.4" fill="#3a2d1b"/>
<rect x="69.9" y="41.8" width="8" height="8" fill="#c9a964"/>
<rect x="71.1" y="43" width="5.6" height="5.6" fill="#d9bb78"/>
<rect x="72.2" y="44.1" width="3.4" height="3.4" fill="#f8e7a6"/>
<polygon points="103.2,49 125.5,62 128.8,56.6 107.1,42.7" fill="#2b2115"/>
<polygon points="107.1,42.7 128.8,56.6 128.4,57.4 106.7,43.4" fill="#3a2d1b"/>
<rect x="101.2" y="41.8" width="8" height="8" fill="#c9a964"/>
<rect x="102.4" y="43" width="5.6" height="5.6" fill="#d9bb78"/>
<rect x="103.5" y="44.1" width="3.4" height="3.4" fill="#f8e7a6"/>
<polygon points="135.3,49 157.6,62 160.9,56.6 139.2,42.7" fill="#2b2115"/>
<polygon points="139.2,42.7 160.9,56.6 160.4,57.4 138.7,43.4" fill="#3a2d1b"/>
<rect x="133.2" y="41.8" width="8" height="8" fill="#c9a964"/>
<rect x="134.4" y="43" width="5.6" height="5.6" fill="#d9bb78"/>
<rect x="135.5" y="44.1" width="3.4" height="3.4" fill="#f8e7a6"/>
<polygon points="73.2,81.5 95.5,94.6 98.8,89.2 77.1,75.2" fill="#2b2115"/>
<polygon points="77.1,75.2 98.8,89.2 98.3,89.9 76.6,75.9" fill="#3a2d1b"/>
<rect x="71.1" y="74.4" width="8" height="8" fill="#c9a964"/>
<rect x="72.3" y="75.6" width="5.6" height="5.6" fill="#d9bb78"/>
<rect x="73.4" y="76.7" width="3.4" height="3.4" fill="#f8e7a6"/>
<polygon points="104.5,81.5 126.8,94.6 130.1,89.2 108.4,75.2" fill="#2b2115"/>
<polygon points="108.4,75.2 130.1,89.2 129.6,89.9 107.9,75.9" fill="#3a2d1b"/>
<rect x="102.4" y="74.4" width="8" height="8" fill="#c9a964"/>
<rect x="103.6" y="75.6" width="5.6" height="5.6" fill="#d9bb78"/>
<rect x="104.7" y="76.7" width="3.4" height="3.4" fill="#f8e7a6"/>
<polygon points="136.3,81.5 158.6,94.6 161.9,89.2 140.2,75.2" fill="#2b2115"/>
<polygon points="140.2,75.2 161.9,89.2 161.4,89.9 139.8,75.9" fill="#3a2d1b"/>
<rect x="134.2" y="74.4" width="8" height="8" fill="#c9a964"/>
<rect x="135.4" y="75.6" width="5.6" height="5.6" fill="#d9bb78"/>
<rect x="136.5" y="76.7" width="3.4" height="3.4" fill="#f8e7a6"/>
<polyline points="48.7,371 156.1,371" fill="none" stroke="#f4f4f4" stroke-width="1.6"/>
<polyline points="171.3,371 278.4,371 284.3,607.8" fill="none" stroke="#f4f4f4" stroke-width="1.6"/>
<polygon points="124.4,372.2 144.2,372.2 154.8,608.5 132,618.4" fill="#050505"/>
<polygon points="15.2,372.2 124.9,372.2 132.5,618.4 24.6,619.2 21.6,523.2 59.6,517.7 47,518.9 47,466.9 19.8,468.2" fill="#504c4c"/>
<polygon points="128.9,399.1 145.2,394.6 145.7,400.2 130.7,409.3 126.9,404.7" fill="#141414"/>
<circle cx="127.7" cy="404.2" r="2.6" fill="#3a3737"/>
<polygon points="131.6,489.2 148.2,484.7 148.8,490.3 133.4,499.4 129.6,494.8" fill="#141414"/>
<circle cx="130.4" cy="494.3" r="2.6" fill="#3a3737"/>
<polygon points="134.4,580.6 151.4,576 151.9,581.6 136.2,590.8 132.3,586.2" fill="#141414"/>
<circle cx="133.1" cy="585.7" r="2.6" fill="#3a3737"/>
<polygon points="31,386.4 56.3,386.4 58.9,461.8 34.3,468.7" fill="#050505"/>
<polygon points="36.3,523.2 60.9,518.4 64.2,596.3 116.8,597.6 115.5,605.7 38.8,605.7" fill="#050505"/>
<polygon points="88.8,596.9 116.2,598.4 109.1,602.9 88.8,602.9" fill="#2c4a2a"/>
<polyline points="82.5,386.4 109.1,386.4" fill="none" stroke="#f4f4f4" stroke-width="1.4"/>
<polygon points="73.6,385.7 82.5,385.7 82.5,387.2 73.6,387.2" fill="#050505"/>
<polygon points="253,372.2 276.4,372.2 287.1,608.5 260.7,618.4" fill="#050505"/>
<polygon points="143.9,372.2 253.6,372.2 261.2,618.4 153.3,619.2 151.5,523.2 184,517.7 171.3,518.9 171.3,466.9 149.7,468.2" fill="#504c4c"/>
<polygon points="257.6,399.1 277.4,394.6 277.9,400.2 259.4,409.3 255.6,404.7" fill="#141414"/>
<circle cx="256.3" cy="404.2" r="2.6" fill="#3a3737"/>
<polygon points="260.3,489.2 280.5,484.7 281,490.3 262.1,499.4 258.3,494.8" fill="#141414"/>
<circle cx="259" cy="494.3" r="2.6" fill="#3a3737"/>
<polygon points="263.1,580.6 283.6,576 284.1,581.6 264.8,590.8 261,586.2" fill="#141414"/>
<circle cx="261.8" cy="585.7" r="2.6" fill="#3a3737"/>
<polygon points="159.9,386.4 180.7,386.4 182.7,461.8 162.4,468.2" fill="#050505"/>
<polygon points="165,523.2 187.8,518.4 187.8,596.3 243.7,597.6 243.7,605.7 167.5,605.7" fill="#050505"/>
<polygon points="210.4,596.9 243.4,598.4 237.8,602.9 210.4,602.9" fill="#2c4a2a"/>
<polyline points="204.3,386.4 238.1,386.4" fill="none" stroke="#f4f4f4" stroke-width="1.4"/>
<polygon points="197.2,385.7 204.3,385.7 204.3,387.2 197.2,387.2" fill="#050505"/>
<polygon points="157.9,468.9 171.6,468.2 171.6,517.7 160.4,520.7" fill="#223c2c"/>
<polyline points="158.4,468.9 160.4,520.7" fill="none" stroke="#f4f4f4" stroke-width="1.6"/>
<polygon points="61.3,438.1 85.2,435.1 84.6,428.8 60.5,430.7" fill="#2b2115"/>
<polygon points="60.5,430.7 84.6,428.8 84.7,429.6 60.6,431.5" fill="#3a2d1b"/>
<rect x="56.9" y="430.4" width="8" height="8" fill="#c9a964"/>
<rect x="58.1" y="431.6" width="5.6" height="5.6" fill="#d9bb78"/>
<rect x="59.2" y="432.7" width="3.4" height="3.4" fill="#f8e7a6"/>
<polygon points="92.4,438.1 111.3,435.1 110.5,428.8 91.4,430.7" fill="#2b2115"/>
<polygon points="91.4,430.7 110.5,428.8 110.6,429.6 91.5,431.6" fill="#3a2d1b"/>
<rect x="87.9" y="430.4" width="8" height="8" fill="#c9a964"/>
<rect x="89.1" y="431.6" width="5.6" height="5.6" fill="#d9bb78"/>
<rect x="90.2" y="432.7" width="3.4" height="3.4" fill="#f8e7a6"/>
<polygon points="188.9,438.1 208.8,436.1 208.3,429.7 188.3,430.7" fill="#2b2115"/>
<polygon points="188.3,430.7 208.3,429.7 208.4,430.6 188.4,431.5" fill="#3a2d1b"/>
<rect x="184.6" y="430.4" width="8" height="8" fill="#c9a964"/>
<rect x="185.8" y="431.6" width="5.6" height="5.6" fill="#d9bb78"/>
<rect x="186.9" y="432.7" width="3.4" height="3.4" fill="#f8e7a6"/>
<polygon points="220.1,438.1 238.1,436.1 237.5,429.7 219.5,430.7" fill="#2b2115"/>
<polygon points="219.5,430.7 237.5,429.7 237.6,430.6 219.6,431.5" fill="#3a2d1b"/>
<rect x="215.8" y="430.4" width="8" height="8" fill="#c9a964"/>
<rect x="217" y="431.6" width="5.6" height="5.6" fill="#d9bb78"/>
<rect x="218.1" y="432.7" width="3.4" height="3.4" fill="#f8e7a6"/>
<polygon points="62.6,468 86.5,464.2 85.6,457.9 61.6,460.7" fill="#2b2115"/>
<polygon points="61.6,460.7 85.6,457.9 85.7,458.8 61.7,461.5" fill="#3a2d1b"/>
<rect x="58.1" y="460.4" width="8" height="8" fill="#c9a964"/>
<rect x="59.3" y="461.6" width="5.6" height="5.6" fill="#d9bb78"/>
<rect x="60.4" y="462.7" width="3.4" height="3.4" fill="#f8e7a6"/>
<polygon points="93.7,468 112.6,464.2 111.5,457.9 92.4,460.7" fill="#2b2115"/>
<polygon points="92.4,460.7 111.5,457.9 111.6,458.8 92.5,461.5" fill="#3a2d1b"/>
<rect x="89" y="460.4" width="8" height="8" fill="#c9a964"/>
<rect x="90.2" y="461.6" width="5.6" height="5.6" fill="#d9bb78"/>
<rect x="91.3" y="462.7" width="3.4" height="3.4" fill="#f8e7a6"/>
<polygon points="189.9,468 209.9,465.2 209.2,458.9 189.1,460.7" fill="#2b2115"/>
<polygon points="189.1,460.7 209.2,458.9 209.3,459.8 189.2,461.5" fill="#3a2d1b"/>
<rect x="185.5" y="460.4" width="8" height="8" fill="#c9a964"/>
<rect x="186.7" y="461.6" width="5.6" height="5.6" fill="#d9bb78"/>
<rect x="187.8" y="462.7" width="3.4" height="3.4" fill="#f8e7a6"/>
<polygon points="221.2,468 239.1,465.2 238.3,458.9 220.3,460.7" fill="#2b2115"/>
<polygon points="220.3,460.7 238.3,458.9 238.4,459.8 220.4,461.5" fill="#3a2d1b"/>
<rect x="216.7" y="460.4" width="8" height="8" fill="#c9a964"/>
<rect x="217.9" y="461.6" width="5.6" height="5.6" fill="#d9bb78"/>
<rect x="219" y="462.7" width="3.4" height="3.4" fill="#f8e7a6"/>
<polygon points="63.8,498.5 87.7,493.9 86.7,487.6 62.6,491.2" fill="#2b2115"/>
<polygon points="62.6,491.2 86.7,487.6 86.8,488.5 62.7,492" fill="#3a2d1b"/>
<rect x="59.2" y="490.8" width="8" height="8" fill="#c9a964"/>
<rect x="60.4" y="492" width="5.6" height="5.6" fill="#d9bb78"/>
<rect x="61.5" y="493.1" width="3.4" height="3.4" fill="#f8e7a6"/>
<polygon points="94.9,498.4 113.8,493.8 112.5,487.6 93.4,491.2" fill="#2b2115"/>
<polygon points="93.4,491.2 112.5,487.6 112.7,488.5 93.6,492" fill="#3a2d1b"/>
<rect x="90.2" y="490.8" width="8" height="8" fill="#c9a964"/>
<rect x="91.4" y="492" width="5.6" height="5.6" fill="#d9bb78"/>
<rect x="92.5" y="493.1" width="3.4" height="3.4" fill="#f8e7a6"/>
<polygon points="191,498.5 210.9,494.9 210,488.6 189.9,491.2" fill="#2b2115"/>
<polygon points="189.9,491.2 210,488.6 210.1,489.5 190,492" fill="#3a2d1b"/>
<rect x="186.5" y="490.8" width="8" height="8" fill="#c9a964"/>
<rect x="187.7" y="492" width="5.6" height="5.6" fill="#d9bb78"/>
<rect x="188.8" y="493.1" width="3.4" height="3.4" fill="#f8e7a6"/>
<polygon points="222.3,498.5 240.2,494.9 239.1,488.6 221,491.2" fill="#2b2115"/>
<polygon points="221,491.2 239.1,488.6 239.3,489.5 221.2,492" fill="#3a2d1b"/>
<rect x="217.7" y="490.8" width="8" height="8" fill="#c9a964"/>
<rect x="218.9" y="492" width="5.6" height="5.6" fill="#d9bb78"/>
<rect x="220" y="493.1" width="3.4" height="3.4" fill="#f8e7a6"/>
<polygon points="65.1,529.7 89,524.3 87.7,518 63.6,522.4" fill="#2b2115"/>
<polygon points="63.6,522.4 87.7,518 87.9,518.9 63.8,523.2" fill="#3a2d1b"/>
<rect x="60.3" y="522" width="8" height="8" fill="#c9a964"/>
<rect x="61.5" y="523.2" width="5.6" height="5.6" fill="#d9bb78"/>
<rect x="62.6" y="524.3" width="3.4" height="3.4" fill="#f8e7a6"/>
<polygon points="96.2,529.6 115.1,524.2 113.5,518.1 94.4,522.5" fill="#2b2115"/>
<polygon points="94.4,522.5 113.5,518.1 113.7,518.9 94.6,523.2" fill="#3a2d1b"/>
<rect x="91.3" y="522" width="8" height="8" fill="#c9a964"/>
<rect x="92.5" y="523.2" width="5.6" height="5.6" fill="#d9bb78"/>
<rect x="93.6" y="524.3" width="3.4" height="3.4" fill="#f8e7a6"/>
<polygon points="192.1,529.7 212,525.3 210.8,519 190.7,522.4" fill="#2b2115"/>
<polygon points="190.7,522.4 210.8,519 211,519.9 190.8,523.2" fill="#3a2d1b"/>
<rect x="187.4" y="522" width="8" height="8" fill="#c9a964"/>
<rect x="188.6" y="523.2" width="5.6" height="5.6" fill="#d9bb78"/>
<rect x="189.7" y="524.3" width="3.4" height="3.4" fill="#f8e7a6"/>
<polygon points="223.4,529.7 241.3,525.3 239.9,519 221.8,522.4" fill="#2b2115"/>
<polygon points="221.8,522.4 239.9,519 240.1,519.9 222,523.2" fill="#3a2d1b"/>
<rect x="218.6" y="522" width="8" height="8" fill="#c9a964"/>
<rect x="219.8" y="523.2" width="5.6" height="5.6" fill="#d9bb78"/>
<rect x="220.9" y="524.3" width="3.4" height="3.4" fill="#f8e7a6"/>
<polygon points="66.3,560.1 90.2,553.9 88.7,547.7 64.6,552.9" fill="#2b2115"/>
<polygon points="64.6,552.9 88.7,547.7 89,548.6 64.8,553.7" fill="#3a2d1b"/>
<rect x="61.5" y="552.5" width="8" height="8" fill="#c9a964"/>
<rect x="62.7" y="553.7" width="5.6" height="5.6" fill="#d9bb78"/>
<rect x="63.8" y="554.8" width="3.4" height="3.4" fill="#f8e7a6"/>
<polygon points="97.5,560 116.4,553.8 114.5,547.7 95.4,553" fill="#2b2115"/>
<polygon points="95.4,553 114.5,547.7 114.8,548.6 95.6,553.7" fill="#3a2d1b"/>
<rect x="92.4" y="552.5" width="8" height="8" fill="#c9a964"/>
<rect x="93.6" y="553.7" width="5.6" height="5.6" fill="#d9bb78"/>
<rect x="94.7" y="554.8" width="3.4" height="3.4" fill="#f8e7a6"/>
<polygon points="193.2,560.1 213.1,554.9 211.6,548.7 191.5,552.9" fill="#2b2115"/>
<polygon points="191.5,552.9 211.6,548.7 211.8,549.6 191.7,553.7" fill="#3a2d1b"/>
<rect x="188.3" y="552.5" width="8" height="8" fill="#c9a964"/>
<rect x="189.5" y="553.7" width="5.6" height="5.6" fill="#d9bb78"/>
<rect x="190.6" y="554.8" width="3.4" height="3.4" fill="#f8e7a6"/>
<polygon points="224.5,560.1 242.4,554.9 240.7,548.7 222.6,552.9" fill="#2b2115"/>
<polygon points="222.6,552.9 240.7,548.7 241,549.6 222.8,553.7" fill="#3a2d1b"/>
<rect x="219.6" y="552.5" width="8" height="8" fill="#c9a964"/>
<rect x="220.8" y="553.7" width="5.6" height="5.6" fill="#d9bb78"/>
<rect x="221.9" y="554.8" width="3.4" height="3.4" fill="#f8e7a6"/>
<polyline points="65.5,671.5 171.3,671.5 179.6,957 176,957" fill="none" stroke="#f4f4f4" stroke-width="1.6"/>
<polygon points="33,689 66.5,672 97,672 97,683.5 119.3,683.5 137,672 168.8,672 140,689.5" fill="#050505"/>
<polygon points="140,689 168.8,672 178.2,925 178,955.6 149.7,985.2" fill="#050505"/>
<polygon points="33,689 140,689 149.9,984.8 45.2,986.6 40.6,865 62.2,847.2 63.5,846 63.5,800 52.8,811.6 38,811.6" fill="#504c4c"/>
<polygon points="48.7,703 73.6,703 76.6,795 52.8,811.6" fill="#050505"/>
<polygon points="40.6,865 62.6,846.6 87,845.6 87,848 78.7,848.6 55.3,865.4" fill="#050505"/>
<polygon points="55.3,865 78.7,846.6 87,846 87,848 80,849 83.8,950.5 134.5,950.5 134.5,973.4 58.9,973.4" fill="#050505"/>
<polygon points="106.6,955.8 133.5,955.8 133.5,965.8 99,965.8" fill="#2c4a2a"/>
<polyline points="108,956.2 133.5,956.2" fill="none" stroke="#f4f4f4" stroke-width="1.3"/>
<polygon points="143.9,714 171,684 171.5,693 146.9,725 142.9,721" fill="#161616"/>
<circle cx="144.1" cy="718" r="2.6" fill="#3a3737"/>
<polygon points="147.9,834 174.9,804 175.4,813 150.9,845 146.9,841" fill="#161616"/>
<circle cx="148.1" cy="838" r="2.6" fill="#3a3737"/>
<polygon points="151.8,953 178.9,923 179.4,932 154.8,964 150.8,960" fill="#161616"/>
<circle cx="152" cy="957" r="2.6" fill="#3a3737"/>
<polygon points="80.1,749.3 101.3,736.1 98.1,730.7 76.3,742.9" fill="#2b2115"/>
<polygon points="76.3,742.9 98.1,730.7 98.5,731.4 76.7,743.6" fill="#3a2d1b"/>
<rect x="74.2" y="742.1" width="8" height="8" fill="#c9a964"/>
<rect x="75.4" y="743.3" width="5.6" height="5.6" fill="#d9bb78"/>
<rect x="76.5" y="744.4" width="3.4" height="3.4" fill="#f8e7a6"/>
<polygon points="110.5,749.3 131.7,736.1 128.5,730.7 106.7,742.9" fill="#2b2115"/>
<polygon points="106.7,742.9 128.5,730.7 128.9,731.4 107.1,743.6" fill="#3a2d1b"/>
<rect x="104.6" y="742.1" width="8" height="8" fill="#c9a964"/>
<rect x="105.8" y="743.3" width="5.6" height="5.6" fill="#d9bb78"/>
<rect x="106.9" y="744.4" width="3.4" height="3.4" fill="#f8e7a6"/>
<polygon points="81.2,778.6 102.3,764.4 98.9,759.1 77.2,772.4" fill="#2b2115"/>
<polygon points="77.2,772.4 98.9,759.1 99.4,759.8 77.7,773.1" fill="#3a2d1b"/>
<rect x="75.2" y="771.5" width="8" height="8" fill="#c9a964"/>
<rect x="76.4" y="772.7" width="5.6" height="5.6" fill="#d9bb78"/>
<rect x="77.5" y="773.8" width="3.4" height="3.4" fill="#f8e7a6"/>
<polygon points="111.6,778.6 132.7,764.4 129.3,759.1 107.6,772.4" fill="#2b2115"/>
<polygon points="107.6,772.4 129.3,759.1 129.8,759.8 108.1,773.1" fill="#3a2d1b"/>
<rect x="105.6" y="771.5" width="8" height="8" fill="#c9a964"/>
<rect x="106.8" y="772.7" width="5.6" height="5.6" fill="#d9bb78"/>
<rect x="107.9" y="773.8" width="3.4" height="3.4" fill="#f8e7a6"/>
<polygon points="82.4,808 103.4,792.8 99.7,787.5 78.1,801.9" fill="#2b2115"/>
<polygon points="78.1,801.9 99.7,787.5 100.2,788.3 78.6,802.6" fill="#3a2d1b"/>
<rect x="76.2" y="800.9" width="8" height="8" fill="#c9a964"/>
<rect x="77.4" y="802.1" width="5.6" height="5.6" fill="#d9bb78"/>
<rect x="78.5" y="803.2" width="3.4" height="3.4" fill="#f8e7a6"/>
<polygon points="112.8,808 133.8,792.8 130.1,787.5 108.5,801.9" fill="#2b2115"/>
<polygon points="108.5,801.9 130.1,787.5 130.6,788.3 109,802.6" fill="#3a2d1b"/>
<rect x="106.6" y="800.9" width="8" height="8" fill="#c9a964"/>
<rect x="107.8" y="802.1" width="5.6" height="5.6" fill="#d9bb78"/>
<rect x="108.9" y="803.2" width="3.4" height="3.4" fill="#f8e7a6"/>
<polygon points="83.5,837.3 104.4,821.1 100.6,816 79,831.4" fill="#2b2115"/>
<polygon points="79,831.4 100.6,816 101.1,816.7 79.5,832" fill="#3a2d1b"/>
<rect x="77.3" y="830.4" width="8" height="8" fill="#c9a964"/>
<rect x="78.5" y="831.6" width="5.6" height="5.6" fill="#d9bb78"/>
<rect x="79.6" y="832.7" width="3.4" height="3.4" fill="#f8e7a6"/>
<polygon points="113.9,837.3 134.8,821.1 131,816 109.4,831.4" fill="#2b2115"/>
<polygon points="109.4,831.4 131,816 131.5,816.7 109.9,832" fill="#3a2d1b"/>
<rect x="107.7" y="830.4" width="8" height="8" fill="#c9a964"/>
<rect x="108.9" y="831.6" width="5.6" height="5.6" fill="#d9bb78"/>
<rect x="110" y="832.7" width="3.4" height="3.4" fill="#f8e7a6"/>
<polygon points="84.6,866.7 105.4,849.4 101.4,844.4 80,860.9" fill="#2b2115"/>
<polygon points="80,860.9 101.4,844.4 101.9,845.1 80.5,861.5" fill="#3a2d1b"/>
<rect x="78.3" y="859.8" width="8" height="8" fill="#c9a964"/>
<rect x="79.5" y="861" width="5.6" height="5.6" fill="#d9bb78"/>
<rect x="80.6" y="862.1" width="3.4" height="3.4" fill="#f8e7a6"/>
<polygon points="115,866.7 135.8,849.4 131.8,844.4 110.4,860.9" fill="#2b2115"/>
<polygon points="110.4,860.9 131.8,844.4 132.3,845.1 110.9,861.5" fill="#3a2d1b"/>
<rect x="108.7" y="859.8" width="8" height="8" fill="#c9a964"/>
<rect x="109.9" y="861" width="5.6" height="5.6" fill="#d9bb78"/>
<rect x="111" y="862.1" width="3.4" height="3.4" fill="#f8e7a6"/>
<polygon points="85.7,896 106.4,877.7 102.2,872.8 80.9,890.4" fill="#2b2115"/>
<polygon points="80.9,890.4 102.2,872.8 102.8,873.5 81.4,891" fill="#3a2d1b"/>
<rect x="79.3" y="889.2" width="8" height="8" fill="#c9a964"/>
<rect x="80.5" y="890.4" width="5.6" height="5.6" fill="#d9bb78"/>
<rect x="81.6" y="891.5" width="3.4" height="3.4" fill="#f8e7a6"/>
<polygon points="116.1,896 136.8,877.7 132.6,872.8 111.3,890.4" fill="#2b2115"/>
<polygon points="111.3,890.4 132.6,872.8 133.2,873.5 111.8,891" fill="#3a2d1b"/>
<rect x="109.7" y="889.2" width="8" height="8" fill="#c9a964"/>
<rect x="110.9" y="890.4" width="5.6" height="5.6" fill="#d9bb78"/>
<rect x="112" y="891.5" width="3.4" height="3.4" fill="#f8e7a6"/>
<polygon points="86.8,925.4 107.4,906 103.1,901.3 81.8,919.9" fill="#2b2115"/>
<polygon points="81.8,919.9 103.1,901.3 103.7,901.9 82.4,920.5" fill="#3a2d1b"/>
<rect x="80.3" y="918.6" width="8" height="8" fill="#c9a964"/>
<rect x="81.5" y="919.8" width="5.6" height="5.6" fill="#d9bb78"/>
<rect x="82.6" y="920.9" width="3.4" height="3.4" fill="#f8e7a6"/>
<polygon points="117.2,925.4 137.8,906 133.5,901.3 112.2,919.9" fill="#2b2115"/>
<polygon points="112.2,919.9 133.5,901.3 134.1,901.9 112.8,920.5" fill="#3a2d1b"/>
<rect x="110.7" y="918.6" width="8" height="8" fill="#c9a964"/>
<rect x="111.9" y="919.8" width="5.6" height="5.6" fill="#d9bb78"/>
<rect x="113" y="920.9" width="3.4" height="3.4" fill="#f8e7a6"/>
<polyline points="283,1037.6 456.9,1037.6 458.3,1134 455,1134" fill="none" stroke="#f4f4f4" stroke-width="1.6"/>
<polyline points="346.5,1037.6 346.5,1041" fill="none" stroke="#f4f4f4" stroke-width="1.2"/>
<polyline points="392,1037.6 392,1041" fill="none" stroke="#f4f4f4" stroke-width="1.2"/>
<polygon points="264,1076.4 284.3,1038.9 454.3,1038.9 445.4,1076" fill="#050505"/>
<polygon points="445.2,1075 454.3,1038.9 455.8,1135.8 444.2,1174" fill="#050505"/>
<polygon points="264,1076.2 445.4,1075 444.2,1173.9 265.7,1175.1" fill="#504c4c"/>
<polygon points="326,1076.5 326,1086 340.1,1068.5 340.1,1047 390.9,1047 380.7,1068.5 380.7,1076" fill="#504c4c"/>
<polygon points="276.6,1090.1 293.1,1090.1 293.1,1132 430.2,1132 430.2,1161.2 277.5,1161.2" fill="#050505"/>
<polygon points="285.5,1090.1 293.1,1090.1 293.1,1106.6 285.5,1106.6" fill="#d9d9ee"/>
<polyline points="284.8,1093 284.8,1108" fill="none" stroke="#ffffff" stroke-width="1.3"/>
<circle cx="295" cy="1174.6" r="2.6" fill="#2a2828"/>
<circle cx="355" cy="1174.6" r="2.6" fill="#2a2828"/>
<circle cx="414" cy="1174.6" r="2.6" fill="#2a2828"/>
<polygon points="329.4,1106.5 341.6,1082.3 336,1079.3 322.8,1103.1" fill="#2b2115"/>
<polygon points="322.8,1103.1 336,1079.3 336.8,1079.7 323.5,1103.5" fill="#3a2d1b"/>
<rect x="322.1" y="1100.8" width="8" height="8" fill="#c9a964"/>
<rect x="323.3" y="1102" width="5.6" height="5.6" fill="#d9bb78"/>
<rect x="324.4" y="1103.1" width="3.4" height="3.4" fill="#f8e7a6"/>
<polygon points="359,1106.6 369.7,1086.3 364.1,1083.3 352.6,1103" fill="#2b2115"/>
<polygon points="352.6,1103 364.1,1083.3 364.9,1083.7 353.3,1103.4" fill="#3a2d1b"/>
<rect x="351.8" y="1100.8" width="8" height="8" fill="#c9a964"/>
<rect x="353" y="1102" width="5.6" height="5.6" fill="#d9bb78"/>
<rect x="354.1" y="1103.1" width="3.4" height="3.4" fill="#f8e7a6"/>
<polygon points="389,1106.7 398,1090.4 392.6,1087.2 382.6,1102.9" fill="#2b2115"/>
<polygon points="382.6,1102.9 392.6,1087.2 393.3,1087.6 383.3,1103.3" fill="#3a2d1b"/>
<rect x="381.8" y="1100.8" width="8" height="8" fill="#c9a964"/>
<rect x="383" y="1102" width="5.6" height="5.6" fill="#d9bb78"/>
<rect x="384.1" y="1103.1" width="3.4" height="3.4" fill="#f8e7a6"/>
<polygon points="330.2,1135 342.4,1110.8 336.8,1107.8 323.6,1131.6" fill="#2b2115"/>
<polygon points="323.6,1131.6 336.8,1107.8 337.6,1108.2 324.3,1132" fill="#3a2d1b"/>
<rect x="322.9" y="1129.3" width="8" height="8" fill="#c9a964"/>
<rect x="324.1" y="1130.5" width="5.6" height="5.6" fill="#d9bb78"/>
<rect x="325.2" y="1131.6" width="3.4" height="3.4" fill="#f8e7a6"/>
<polygon points="359.9,1135 371.3,1111.2 365.7,1108.4 353.3,1131.6" fill="#2b2115"/>
<polygon points="353.3,1131.6 365.7,1108.4 366.5,1108.8 354,1132" fill="#3a2d1b"/>
<rect x="352.6" y="1129.3" width="8" height="8" fill="#c9a964"/>
<rect x="353.8" y="1130.5" width="5.6" height="5.6" fill="#d9bb78"/>
<rect x="354.9" y="1131.6" width="3.4" height="3.4" fill="#f8e7a6"/>
<polygon points="389.6,1134.9 400.3,1111.7 394.5,1108.9 383,1131.7" fill="#2b2115"/>
<polygon points="383,1131.7 394.5,1108.9 395.3,1109.3 383.7,1132" fill="#3a2d1b"/>
<rect x="382.3" y="1129.3" width="8" height="8" fill="#c9a964"/>
<rect x="383.5" y="1130.5" width="5.6" height="5.6" fill="#d9bb78"/>
<rect x="384.6" y="1131.6" width="3.4" height="3.4" fill="#f8e7a6"/>
<polyline points="251,663 251,659.2 277,659.2 277,663" fill="none" stroke="#f4f4f4" stroke-width="1.3"/>
<polyline points="280.6,663 280.6,659.1 306.6,659.1 306.6,663" fill="none" stroke="#f4f4f4" stroke-width="1.3"/>
<polyline points="310.2,663 310.2,658.9 336.2,658.9 336.2,663" fill="none" stroke="#f4f4f4" stroke-width="1.3"/>
<polyline points="339.8,663 339.8,658.8 365.8,658.8 365.8,663" fill="none" stroke="#f4f4f4" stroke-width="1.3"/>
<polyline points="369.4,663 369.4,658.7 395.4,658.7 395.4,663" fill="none" stroke="#f4f4f4" stroke-width="1.3"/>
<polyline points="399,663 399,658.6 425,658.6 425,663" fill="none" stroke="#f4f4f4" stroke-width="1.3"/>
<polyline points="428.6,663 428.6,658.4 454.6,658.4 454.6,663" fill="none" stroke="#f4f4f4" stroke-width="1.3"/>
<polyline points="458.2,663 458.2,658.3 484.2,658.3 484.2,663" fill="none" stroke="#f4f4f4" stroke-width="1.3"/>
<polyline points="487.8,663 487.8,658.2 513.8,658.2 513.8,663" fill="none" stroke="#f4f4f4" stroke-width="1.3"/>
<polyline points="517.4,663 517.4,658 543.4,658 543.4,663" fill="none" stroke="#f4f4f4" stroke-width="1.3"/>
<polyline points="547,663 547,657.9 573,657.9 573,663" fill="none" stroke="#f4f4f4" stroke-width="1.3"/>
<polyline points="576.6,663 576.6,657.8 602.6,657.8 602.6,663" fill="none" stroke="#f4f4f4" stroke-width="1.3"/>
<polyline points="606.2,663 606.2,657.6 632.2,657.6 632.2,663" fill="none" stroke="#f4f4f4" stroke-width="1.3"/>
<polyline points="635.8,663 635.8,657.5 661.8,657.5 661.8,663" fill="none" stroke="#f4f4f4" stroke-width="1.3"/>
<polyline points="665.4,663 665.4,657.4 691.4,657.4 691.4,663" fill="none" stroke="#f4f4f4" stroke-width="1.3"/>
<polyline points="695,663 695,657.2 721,657.2 721,663" fill="none" stroke="#f4f4f4" stroke-width="1.3"/>
<polyline points="724.6,663 724.6,657.1 750.6,657.1 750.6,663" fill="none" stroke="#f4f4f4" stroke-width="1.3"/>
<polyline points="754.2,663 754.2,657 780.2,657 780.2,663" fill="none" stroke="#f4f4f4" stroke-width="1.3"/>
<polyline points="783.8,663 783.8,656.9 809.8,656.9 809.8,663" fill="none" stroke="#f4f4f4" stroke-width="1.3"/>
<polyline points="813.4,663 813.4,656.7 839.4,656.7 839.4,663" fill="none" stroke="#f4f4f4" stroke-width="1.3"/>
<polygon points="250,659.8 829,656.8 832.5,665.6 240,667.6" fill="#1e1e1e"/>
<polygon points="240,667.4 832.5,665.6 832.5,673.4 237.5,673.6" fill="#a6a6a6"/>
<polygon points="237.5,673.3 832.5,673.2 832.5,694 237.5,694.6" fill="#8c8c8c"/>
<rect x="258.7" y="673.4" width="5" height="21" fill="#b4b4b4"/>
<polygon points="247.7,674.2 259.2,674.2 253.8,687.2 237.8,687.2" fill="#30343e"/>
<polygon points="259.2,674.2 261.7,675.4 253.8,689.7 253.8,687.2" fill="#20232b"/>
<polygon points="237.2,687.2 253.2,687.2 253.2,695 237.2,695" fill="#f0f2ff"/>
<polygon points="237.2,687.2 253.2,687.2 253.2,689.2 237.2,689.2" fill="#c4c7de"/>
<polygon points="253.2,688.2 254,688.7 254,695 253.2,695" fill="#8a8c98"/>
<rect x="288.9" y="673.4" width="5" height="21" fill="#b4b4b4"/>
<polygon points="277.5,674.2 289.1,674.2 284.1,687.1 268.1,687.1" fill="#30343e"/>
<polygon points="289.1,674.2 291.5,675.4 284.1,689.6 284.1,687.1" fill="#20232b"/>
<polygon points="267.5,687.1 283.5,687.1 283.5,695 267.5,695" fill="#f0f2ff"/>
<polygon points="267.5,687.1 283.5,687.1 283.5,689.1 267.5,689.1" fill="#c4c7de"/>
<polygon points="283.5,688.1 284.3,688.6 284.3,695 283.5,695" fill="#8a8c98"/>
<rect x="319" y="673.4" width="5" height="21" fill="#b4b4b4"/>
<polygon points="307.3,674.2 319.1,674.2 314.3,687 298.3,687" fill="#30343e"/>
<polygon points="319.1,674.2 321.3,675.4 314.3,689.5 314.3,687" fill="#20232b"/>
<polygon points="297.7,687 313.7,687 313.7,694.9 297.7,694.9" fill="#f0f2ff"/>
<polygon points="297.7,687 313.7,687 313.7,689 297.7,689" fill="#c4c7de"/>
<polygon points="313.7,688 314.5,688.5 314.5,694.9 313.7,694.9" fill="#8a8c98"/>
<rect x="349.2" y="673.4" width="5" height="21" fill="#b4b4b4"/>
<polygon points="337.2,674.2 349,674.2 344.6,686.9 328.6,686.9" fill="#30343e"/>
<polygon points="349,674.2 351.2,675.4 344.6,689.4 344.6,686.9" fill="#20232b"/>
<polygon points="328,686.9 344,686.9 344,694.9 328,694.9" fill="#f0f2ff"/>
<polygon points="328,686.9 344,686.9 344,688.9 328,688.9" fill="#c4c7de"/>
<polygon points="344,687.9 344.8,688.4 344.8,694.9 344,694.9" fill="#8a8c98"/>
<rect x="379.4" y="673.4" width="5" height="21" fill="#b4b4b4"/>
<polygon points="367,674.2 378.9,674.2 374.9,686.9 358.9,686.9" fill="#30343e"/>
<polygon points="378.9,674.2 381,675.4 374.9,689.4 374.9,686.9" fill="#20232b"/>
<polygon points="358.3,686.9 374.3,686.9 374.3,694.8 358.3,694.8" fill="#f0f2ff"/>
<polygon points="358.3,686.9 374.3,686.9 374.3,688.9 358.3,688.9" fill="#c4c7de"/>
<polygon points="374.3,687.9 375.1,688.4 375.1,694.8 374.3,694.8" fill="#8a8c98"/>
<rect x="409.5" y="673.4" width="5" height="21" fill="#b4b4b4"/>
<polygon points="396.8,674.3 408.8,674.3 405.1,686.8 389.1,686.8" fill="#30343e"/>
<polygon points="408.8,674.3 410.8,675.5 405.1,689.3 405.1,686.8" fill="#20232b"/>
<polygon points="388.5,686.8 404.5,686.8 404.5,694.8 388.5,694.8" fill="#f0f2ff"/>
<polygon points="388.5,686.8 404.5,686.8 404.5,688.8 388.5,688.8" fill="#c4c7de"/>
<polygon points="404.5,687.8 405.3,688.3 405.3,694.8 404.5,694.8" fill="#8a8c98"/>
<rect x="439.7" y="673.4" width="5" height="21" fill="#b4b4b4"/>
<polygon points="426.6,674.3 438.8,674.3 435.4,686.7 419.4,686.7" fill="#30343e"/>
<polygon points="438.8,674.3 440.6,675.5 435.4,689.2 435.4,686.7" fill="#20232b"/>
<polygon points="418.8,686.7 434.8,686.7 434.8,694.7 418.8,694.7" fill="#f0f2ff"/>
<polygon points="418.8,686.7 434.8,686.7 434.8,688.7 418.8,688.7" fill="#c4c7de"/>
<polygon points="434.8,687.7 435.6,688.2 435.6,694.7 434.8,694.7" fill="#8a8c98"/>
<rect x="469.9" y="673.4" width="5" height="21" fill="#b4b4b4"/>
<polygon points="456.5,674.3 468.7,674.3 465.7,686.6 449.7,686.6" fill="#30343e"/>
<polygon points="468.7,674.3 470.5,675.5 465.7,689.1 465.7,686.6" fill="#20232b"/>
<polygon points="449.1,686.6 465.1,686.6 465.1,694.7 449.1,694.7" fill="#f0f2ff"/>
<polygon points="449.1,686.6 465.1,686.6 465.1,688.6 449.1,688.6" fill="#c4c7de"/>
<polygon points="465.1,687.6 465.9,688.1 465.9,694.7 465.1,694.7" fill="#8a8c98"/>
<rect x="500" y="673.4" width="5" height="21" fill="#b4b4b4"/>
<polygon points="486.3,674.3 498.6,674.3 496,686.5 480,686.5" fill="#30343e"/>
<polygon points="498.6,674.3 500.3,675.5 496,689 496,686.5" fill="#20232b"/>
<polygon points="479.4,686.5 495.4,686.5 495.4,694.7 479.4,694.7" fill="#f0f2ff"/>
<polygon points="479.4,686.5 495.4,686.5 495.4,688.5 479.4,688.5" fill="#c4c7de"/>
<polygon points="495.4,687.5 496.2,688 496.2,694.7 495.4,694.7" fill="#8a8c98"/>
<rect x="530.2" y="673.4" width="5" height="21" fill="#b4b4b4"/>
<polygon points="516.1,674.3 528.6,674.3 526.2,686.4 510.2,686.4" fill="#30343e"/>
<polygon points="528.6,674.3 530.1,675.5 526.2,688.9 526.2,686.4" fill="#20232b"/>
<polygon points="509.6,686.4 525.6,686.4 525.6,694.6 509.6,694.6" fill="#f0f2ff"/>
<polygon points="509.6,686.4 525.6,686.4 525.6,688.4 509.6,688.4" fill="#c4c7de"/>
<polygon points="525.6,687.4 526.4,687.9 526.4,694.6 525.6,694.6" fill="#8a8c98"/>
<rect x="560.3" y="673.4" width="5" height="21" fill="#b4b4b4"/>
<polygon points="545.9,674.3 558.5,674.3 556.5,686.4 540.5,686.4" fill="#30343e"/>
<polygon points="558.5,674.3 559.9,675.5 556.5,688.9 556.5,686.4" fill="#20232b"/>
<polygon points="539.9,686.4 555.9,686.4 555.9,694.6 539.9,694.6" fill="#f0f2ff"/>
<polygon points="539.9,686.4 555.9,686.4 555.9,688.4 539.9,688.4" fill="#c4c7de"/>
<polygon points="555.9,687.4 556.7,687.9 556.7,694.6 555.9,694.6" fill="#8a8c98"/>
<rect x="590.5" y="673.4" width="5" height="21" fill="#b4b4b4"/>
<polygon points="575.7,674.3 588.4,674.3 586.8,686.3 570.8,686.3" fill="#30343e"/>
<polygon points="588.4,674.3 589.7,675.5 586.8,688.8 586.8,686.3" fill="#20232b"/>
<polygon points="570.2,686.3 586.2,686.3 586.2,694.5 570.2,694.5" fill="#f0f2ff"/>
<polygon points="570.2,686.3 586.2,686.3 586.2,688.3 570.2,688.3" fill="#c4c7de"/>
<polygon points="586.2,687.3 587,687.8 587,694.5 586.2,694.5" fill="#8a8c98"/>
<rect x="620.7" y="673.4" width="5" height="21" fill="#b4b4b4"/>
<polygon points="605.6,674.3 618.3,674.3 617,686.2 601,686.2" fill="#30343e"/>
<polygon points="618.3,674.3 619.6,675.5 617,688.7 617,686.2" fill="#20232b"/>
<polygon points="600.4,686.2 616.4,686.2 616.4,694.5 600.4,694.5" fill="#f0f2ff"/>
<polygon points="600.4,686.2 616.4,686.2 616.4,688.2 600.4,688.2" fill="#c4c7de"/>
<polygon points="616.4,687.2 617.2,687.7 617.2,694.5 616.4,694.5" fill="#8a8c98"/>
<rect x="650.8" y="673.4" width="5" height="21" fill="#b4b4b4"/>
<polygon points="635.4,674.3 648.3,674.3 647.3,686.1 631.3,686.1" fill="#30343e"/>
<polygon points="648.3,674.3 649.4,675.5 647.3,688.6 647.3,686.1" fill="#20232b"/>
<polygon points="630.7,686.1 646.7,686.1 646.7,694.5 630.7,694.5" fill="#f0f2ff"/>
<polygon points="630.7,686.1 646.7,686.1 646.7,688.1 630.7,688.1" fill="#c4c7de"/>
<polygon points="646.7,687.1 647.5,687.6 647.5,694.5 646.7,694.5" fill="#8a8c98"/>
<rect x="681" y="673.4" width="5" height="21" fill="#b4b4b4"/>
<polygon points="665.2,674.3 678.2,674.3 677.6,686 661.6,686" fill="#30343e"/>
<polygon points="678.2,674.3 679.2,675.5 677.6,688.5 677.6,686" fill="#20232b"/>
<polygon points="661,686 677,686 677,694.4 661,694.4" fill="#f0f2ff"/>
<polygon points="661,686 677,686 677,688 661,688" fill="#c4c7de"/>
<polygon points="677,687 677.8,687.5 677.8,694.4 677,694.4" fill="#8a8c98"/>
<rect x="711.2" y="673.4" width="5" height="21" fill="#b4b4b4"/>
<polygon points="695,674.4 708.1,674.4 707.9,685.9 691.9,685.9" fill="#30343e"/>
<polygon points="708.1,674.4 709,675.6 707.9,688.4 707.9,685.9" fill="#20232b"/>
<polygon points="691.2,685.9 707.2,685.9 707.2,694.4 691.2,694.4" fill="#f0f2ff"/>
<polygon points="691.2,685.9 707.2,685.9 707.2,687.9 691.2,687.9" fill="#c4c7de"/>
<polygon points="707.2,686.9 708,687.4 708,694.4 707.2,694.4" fill="#8a8c98"/>
<rect x="741.3" y="673.4" width="5" height="21" fill="#b4b4b4"/>
<polygon points="724.9,674.4 738,674.4 738.1,685.9 722.1,685.9" fill="#30343e"/>
<polygon points="738,674.4 738.9,675.6 738.1,688.4 738.1,685.9" fill="#20232b"/>
<polygon points="721.5,685.9 737.5,685.9 737.5,694.3 721.5,694.3" fill="#f0f2ff"/>
<polygon points="721.5,685.9 737.5,685.9 737.5,687.9 721.5,687.9" fill="#c4c7de"/>
<polygon points="737.5,686.9 738.3,687.4 738.3,694.3 737.5,694.3" fill="#8a8c98"/>
<rect x="771.5" y="673.4" width="5" height="21" fill="#b4b4b4"/>
<polygon points="754.7,674.4 768,674.4 768.4,685.8 752.4,685.8" fill="#30343e"/>
<polygon points="768,674.4 768.7,675.6 768.4,688.3 768.4,685.8" fill="#20232b"/>
<polygon points="751.8,685.8 767.8,685.8 767.8,694.3 751.8,694.3" fill="#f0f2ff"/>
<polygon points="751.8,685.8 767.8,685.8 767.8,687.8 751.8,687.8" fill="#c4c7de"/>
<polygon points="767.8,686.8 768.6,687.3 768.6,694.3 767.8,694.3" fill="#8a8c98"/>
<rect x="801.7" y="673.4" width="5" height="21" fill="#b4b4b4"/>
<polygon points="784.5,674.4 797.9,674.4 798.7,685.7 782.7,685.7" fill="#30343e"/>
<polygon points="797.9,674.4 798.5,675.6 798.7,688.2 798.7,685.7" fill="#20232b"/>
<polygon points="782.1,685.7 798.1,685.7 798.1,694.2 782.1,694.2" fill="#f0f2ff"/>
<polygon points="782.1,685.7 798.1,685.7 798.1,687.7 782.1,687.7" fill="#c4c7de"/>
<polygon points="798.1,686.7 798.9,687.2 798.9,694.2 798.1,694.2" fill="#8a8c98"/>
<polygon points="814.3,674.4 827.8,674.4 828.9,685.6 812.9,685.6" fill="#30343e"/>
<polygon points="827.8,674.4 828.3,675.6 828.9,688.1 828.9,685.6" fill="#20232b"/>
<polygon points="812.3,685.6 828.3,685.6 828.3,694.2 812.3,694.2" fill="#f0f2ff"/>
<polygon points="812.3,685.6 828.3,685.6 828.3,687.6 812.3,687.6" fill="#c4c7de"/>
<polygon points="828.3,686.6 829.1,687.1 829.1,694.2 828.3,694.2" fill="#8a8c98"/>
<polygon points="220.8,695.2 843.4,694.2 843.4,702.2 219.6,703" fill="#141414"/>
<polygon points="219.6,702.8 843.4,701.9 842,855.6 224,858.2" fill="#666666"/>
<polygon points="841.6,702 843.6,701.7 842.2,855.6 840.4,855.8" fill="#575757"/>
<path d="M819.5,716 A9,9 0 0 0 836,722" fill="none" stroke="#4a4a4a" stroke-width="1"/>
<path d="M830,778 A9,9 0 0 0 843,790" fill="none" stroke="#4a4a4a" stroke-width="1"/>
<polygon points="241,858.1 831,855.7 831,862.2 241.5,864" fill="#33353c"/>
<polygon points="242.5,858.1 257.3,858 257.3,863.7 242.5,863.8" fill="#eef0ff"/>
<polygon points="272.5,858 287.3,857.9 287.3,863.6 272.5,863.7" fill="#eef0ff"/>
<polygon points="302.5,857.9 317.3,857.8 317.3,863.5 302.5,863.6" fill="#eef0ff"/>
<polygon points="332.5,857.7 347.3,857.7 347.3,863.3 332.5,863.4" fill="#eef0ff"/>
<polygon points="362.5,857.6 377.3,857.6 377.3,863.2 362.5,863.3" fill="#eef0ff"/>
<polygon points="392.5,857.5 407.3,857.4 407.3,863.1 392.5,863.2" fill="#eef0ff"/>
<polygon points="422.5,857.4 437.3,857.3 437.3,863 422.5,863.1" fill="#eef0ff"/>
<polygon points="452.5,857.2 467.3,857.2 467.3,862.8 452.5,862.9" fill="#eef0ff"/>
<polygon points="482.5,857.1 497.3,857.1 497.3,862.7 482.5,862.8" fill="#eef0ff"/>
<polygon points="512.5,857 527.3,856.9 527.3,862.6 512.5,862.7" fill="#eef0ff"/>
<polygon points="542.5,856.9 557.3,856.8 557.3,862.5 542.5,862.6" fill="#eef0ff"/>
<polygon points="572.5,856.8 587.3,856.7 587.3,862.4 572.5,862.5" fill="#eef0ff"/>
<polygon points="602.5,856.6 617.3,856.6 617.3,862.2 602.5,862.3" fill="#eef0ff"/>
<polygon points="632.5,856.5 647.3,856.5 647.3,862.1 632.5,862.2" fill="#eef0ff"/>
<polygon points="662.5,856.4 677.3,856.3 677.3,862 662.5,862.1" fill="#eef0ff"/>
<polygon points="692.5,856.3 707.3,856.2 707.3,861.9 692.5,862" fill="#eef0ff"/>
<polygon points="722.5,856.1 737.3,856.1 737.3,861.7 722.5,861.8" fill="#eef0ff"/>
<polygon points="752.5,856 767.3,856 767.3,861.6 752.5,861.7" fill="#eef0ff"/>
<polygon points="782.5,855.9 797.3,855.8 797.3,861.5 782.5,861.6" fill="#eef0ff"/>
<polygon points="812.5,855.8 827.3,855.7 827.3,861.4 812.5,861.5" fill="#eef0ff"/>
<path d="M241.5,863.9 L831,862 L831,865 Q830,867 826,867 L250,870 Q244,870 241.5,866 Z" fill="#a9a9a9"/>
<polygon points="314.2,920.8 428.9,918.3 430.1,1031.7 316.5,1031.7" fill="#424141"/>
<polygon points="314.2,920.8 323.4,906 365.7,906 365.7,908.7 391.5,908.7 391.5,905.8 434.4,905.8 428.9,918.6 321,919.8" fill="#060606"/>
<polygon points="428.9,918.3 434.4,905.8 436.9,1021.3 430.1,1031.7" fill="#060606"/>
<rect x="322.6" y="925.2" width="2" height="20.1" fill="#d6d6d6"/>
<polygon points="325.2,926.2 334.4,926.2 334.4,934.2 325.2,934.2" fill="#262525"/>
<rect x="325.2" y="934.2" width="9.4" height="11.1" fill="#fffef0"/>
<rect x="322.6" y="947.3" width="2" height="26.2" fill="#d6d6d6"/>
<polygon points="325.2,948.3 334.4,948.3 334.4,956.3 325.2,956.3" fill="#262525"/>
<rect x="325.2" y="956.3" width="9.4" height="17.2" fill="#fffef0"/>
<rect x="322.6" y="976.1" width="2" height="26.2" fill="#d6d6d6"/>
<polygon points="325.2,977.1 334.4,977.1 334.4,985.1 325.2,985.1" fill="#262525"/>
<rect x="325.2" y="985.1" width="9.4" height="17.2" fill="#fffef0"/>
<rect x="322.6" y="1004.4" width="2" height="20" fill="#d6d6d6"/>
<polygon points="325.2,1005.4 334.4,1005.4 334.4,1013.4 325.2,1013.4" fill="#262525"/>
<rect x="325.2" y="1013.4" width="9.4" height="11" fill="#fffef0"/>
<polygon points="411,927.6 420.5,923.6 421,940.7 416,944.7" fill="#161616"/>
<rect x="420.2" y="924.6" width="1.6" height="16.1" fill="#c9c9c9"/>
<rect x="405.6" y="933.6" width="10.6" height="11.1" fill="#fffef0"/>
<rect x="414.5" y="934.6" width="1.7" height="10.1" fill="#d8d6c4"/>
<polygon points="411,950.3 420.5,946.3 421,968.9 416,972.9" fill="#161616"/>
<rect x="420.2" y="947.3" width="1.6" height="21.6" fill="#c9c9c9"/>
<rect x="405.6" y="956.3" width="10.6" height="16.6" fill="#fffef0"/>
<rect x="414.5" y="957.3" width="1.7" height="15.6" fill="#d8d6c4"/>
<polygon points="411,978.5 420.5,974.5 421,997.7 416,1001.7" fill="#161616"/>
<rect x="420.2" y="975.5" width="1.6" height="22.2" fill="#c9c9c9"/>
<rect x="405.6" y="984.5" width="10.6" height="17.2" fill="#fffef0"/>
<rect x="414.5" y="985.5" width="1.7" height="16.2" fill="#d8d6c4"/>
<polygon points="411,1006.7 420.5,1002.7 421,1020.4 416,1024.4" fill="#161616"/>
<rect x="420.2" y="1003.7" width="1.6" height="16.7" fill="#c9c9c9"/>
<rect x="405.6" y="1012.7" width="10.6" height="11.7" fill="#fffef0"/>
<rect x="414.5" y="1013.7" width="1.7" height="10.7" fill="#d8d6c4"/>
<rect x="337" y="923.6" width="13" height="2.6" fill="#d0d0d0" rx="1.3"/>
<rect x="396" y="923.2" width="11" height="2.6" fill="#d0d0d0" rx="1.3"/>
<polygon points="333.2,927.5 405.6,926.3 399.4,936.9 334.4,936.9" fill="#070707"/>
<polygon points="334.4,936.7 399.4,936.7 401.3,1032.4 335.7,1032.4" fill="#504c4c"/>
<polygon points="399.4,936.7 405.6,926.3 407.4,1030 401.3,1032.4" fill="#070707"/>
<polyline points="360.3,1029.5 360.3,1032.4" fill="none" stroke="#2a2828" stroke-width="1.2"/>
<circle cx="441.2" cy="1020.3" r="5.3" fill="none" stroke="#f4f4f4" stroke-width="1.8"/>
<polyline points="614.8,955.6 636.5,955.6 636.8,1109.1" fill="none" stroke="#f4f4f4" stroke-width="1.4"/>
<polyline points="480.4,960.8 480.4,956.5 487.3,956.5" fill="none" stroke="#f4f4f4" stroke-width="1.4"/>
<polygon points="487.3,950.8 498.1,950.8 498.1,964.6 487.3,964.6" fill="#7a5236"/>
<polygon points="488.7,953.5 496.9,953.5 496.9,964.6 494.6,964.6 494.6,959.1 488.7,959.1" fill="#c6c6c6"/>
<polygon points="489.8,959.4 494.3,959.4 494.3,963.9 489.8,963.9" fill="#c98f72"/>
<polygon points="499.6,950.8 510.3,950.8 510.3,964.6 499.6,964.6" fill="#7a5236"/>
<polygon points="501,953.5 509.1,953.5 509.1,964.6 506.8,964.6 506.8,959.1 501,959.1" fill="#c6c6c6"/>
<polygon points="502,959.4 506.5,959.4 506.5,963.9 502,963.9" fill="#c98f72"/>
<polygon points="511.8,950.8 522.5,950.8 522.5,964.6 511.8,964.6" fill="#7a5236"/>
<polygon points="513.2,953.5 521.3,953.5 521.3,964.6 519.1,964.6 519.1,959.1 513.2,959.1" fill="#c6c6c6"/>
<polygon points="514.2,959.4 518.7,959.4 518.7,963.9 514.2,963.9" fill="#c98f72"/>
<polygon points="524,950.8 534.8,950.8 534.8,964.6 524,964.6" fill="#7a5236"/>
<polygon points="525.4,953.5 533.6,953.5 533.6,964.6 531.3,964.6 531.3,959.1 525.4,959.1" fill="#c6c6c6"/>
<polygon points="526.4,959.4 531,959.4 531,963.9 526.4,963.9" fill="#c98f72"/>
<polygon points="536.2,950.8 547,950.8 547,964.6 536.2,964.6" fill="#7a5236"/>
<polygon points="537.6,953.5 545.8,953.5 545.8,964.6 543.5,964.6 543.5,959.1 537.6,959.1" fill="#c6c6c6"/>
<polygon points="538.7,959.4 543.2,959.4 543.2,963.9 538.7,963.9" fill="#c98f72"/>
<polygon points="548.5,950.8 559.2,950.8 559.2,964.6 548.5,964.6" fill="#7a5236"/>
<polygon points="549.9,953.5 558,953.5 558,964.6 555.7,964.6 555.7,959.1 549.9,959.1" fill="#c6c6c6"/>
<polygon points="550.9,959.4 555.4,959.4 555.4,963.9 550.9,963.9" fill="#c98f72"/>
<polygon points="560.7,950.8 571.4,950.8 571.4,964.6 560.7,964.6" fill="#7a5236"/>
<polygon points="562.1,953.5 570.2,953.5 570.2,964.6 568,964.6 568,959.1 562.1,959.1" fill="#c6c6c6"/>
<polygon points="563.1,959.4 567.6,959.4 567.6,963.9 563.1,963.9" fill="#c98f72"/>
<polygon points="572.9,950.8 583.7,950.8 583.7,964.6 572.9,964.6" fill="#7a5236"/>
<polygon points="574.3,953.5 582.5,953.5 582.5,964.6 580.2,964.6 580.2,959.1 574.3,959.1" fill="#c6c6c6"/>
<polygon points="575.3,959.4 579.8,959.4 579.8,963.9 575.3,963.9" fill="#c98f72"/>
<polygon points="585.1,950.8 595.9,950.8 595.9,964.6 585.1,964.6" fill="#7a5236"/>
<polygon points="586.5,953.5 594.7,953.5 594.7,964.6 592.4,964.6 592.4,959.1 586.5,959.1" fill="#c6c6c6"/>
<polygon points="587.6,959.4 592.1,959.4 592.1,963.9 587.6,963.9" fill="#c98f72"/>
<polygon points="523.8,950.8 532.8,950.8 532.8,953.9 523.8,953.9" fill="#ffff22"/>
<polygon points="548,950.8 556.7,950.8 556.7,953.9 548,953.9" fill="#ffff22"/>
<polygon points="561.9,950.8 567.5,950.8 567.5,953.9 561.9,953.9" fill="#ffff22"/>
<polygon points="599.7,950.4 614.3,950.4 614.3,964.3 599.7,964.3" fill="#7a5236"/>
<polygon points="601.4,952.1 612.9,952.1 612.9,963.4 601.4,963.4" fill="#c6c6c6"/>
<polygon points="612.9,956 615,956 615,958.7 612.9,958.7" fill="#ffff22"/>
<polygon points="475.2,998.1 480.4,998.1 480.4,1014.6 475.2,1014.6" fill="#7a5236"/>
<polygon points="475.5,997.2 479,997.2 479,1001 475.5,1001" fill="#ffff22"/>
<polygon points="476.2,1065.2 486.6,1065.2 486.6,1078.7 476.2,1078.7" fill="#6a4a34"/>
<polygon points="476.6,1099.9 484.9,1099.9 484.9,1133.9 476.6,1133.9" fill="#7a5236"/>
<polygon points="478.3,1102.1 483.9,1102.1 483.9,1132.1 478.3,1132.1" fill="#d4d4d4"/>
<polygon points="626.4,1108.2 643.4,1108.2 643.4,1132.5 626.4,1132.5" fill="#7a5236"/>
<polygon points="628.1,1110.8 641.7,1110.8 641.7,1130.7 628.1,1130.7" fill="#c9c9c9"/>
<polygon points="489.1,1129.9 515.1,1129.9 509.9,1135.1 490.8,1135.1" fill="#5c5c5c"/>
<polygon points="584.4,1126.4 613.9,1129 613.9,1134.2 591.4,1133.9" fill="#5c5c5c"/>
<path d="M 477.8,965.1 L 591.4,965.1 591.4,972.1 600.1,972.1 600.1,967.7 607.9,967.7 607.9,972.1 614.8,972.1 614.8,963.4 632.1,963.4 633.9,1118.6 625.2,1120.3 624.3,1132.5 617.4,1135.6 613.9,1130.7 L 584.4,1125.2 Q 539.4,1121.2 487.3,1134.2 L 484.7,1132.5 483.9,1100.4 487.3,1100.4 487.3,1064.8 478.7,1064.8 478.7,1048.4 Z" fill="#ecf2ff"/>
<polygon points="477.8,960.5 487.3,960.5 488.2,966 496,967.7 496,972.1 492.5,972.1 492.2,968.6 477.8,966" fill="#0c0c0c"/>
<polygon points="487.3,964.3 591.4,964.3 591.4,966 487.3,966" fill="#2a2a2a"/>
<polygon points="591.4,959.4 599.2,959.4 600.1,967.7 600.1,972.6 591.4,972.6" fill="#555555"/>
<polygon points="593.5,959.4 599.7,959.4 599.7,964.3 593.5,964.3" fill="#0c0c0c"/>
<polygon points="607.9,959.4 614.8,959.4 614.8,972.6 607.9,972.6" fill="#555555"/>
<polygon points="609.6,959.4 631.3,959.4 632.1,963.9 609.6,963.9" fill="#0c0c0c"/>
<polygon points="628.7,963.9 632.6,963.9 633,976.4 629.2,972.9" fill="#666"/>
<path d="M489.9,1132.1 Q535.9,1120.3 582.7,1125.2 L581,1129.4 L581,1129.4 Q535.9,1128.1 513.4,1130.7 Z" fill="#6b6b6b"/>
<polygon points="581,1125.9 584.8,1125.9 584.8,1128.3 581,1128.3" fill="#f6f8ff"/>
<polygon points="599.2,983 617,983 617.4,1063.5 615.3,1063.5 614.6,987.9 602.1,987.9 599.7,1026.7 597.1,1026.7" fill="#6f6f6f"/>
<polygon points="606.6,999.8 608.7,999.8 609.1,1009.4 614.6,1009.4 615,1026.7 608.7,1026.7 608.7,1063.5 606.6,1063.5 606.1,1021.5" fill="#6f6f6f"/>
<polygon points="492.2,1057.9 501.2,1057.9 501.6,1071.8 508.8,1102.1 508.8,1113.4 506.8,1113.4 506.8,1103 499.5,1073.5 499.1,1062.4 494.6,1062.4 494.6,1113.4 492.5,1113.4" fill="#6f6f6f"/>
<polygon points="588.3,1057 597.1,1057 597.6,1112.5 595.5,1112.5 595.2,1061.7 590.9,1061.7 590.9,1072.1 583.9,1103 583.6,1112.5 581.5,1112.5 581.5,1102.1 588.6,1071.8" fill="#6f6f6f"/>
<polygon points="480.1,974.3 483.9,974.3 486.6,984.7 493.4,992 499.1,1001 490.5,1009 490.1,1026.7 487.3,1030.2 487.3,1048.4 479,1048.4 480.1,1009.4" fill="#6f6f6f"/>
<polyline points="482.1,975.5 483.5,988.6 487.3,992.9 487,998.1 494.3,999.8 486.6,1009.4 486.6,1019.8 482.8,1025 482.1,1047.5" fill="none" stroke="#c9906c" stroke-width="1.2"/>
<polygon points="480.4,1004.2 486,1004.2 486,1012 480.4,1012" fill="#f4f4ff"/>
<polygon points="478.7,1065.2 487.3,1065.2 487.3,1102.1 478.7,1101.3" fill="#575757"/>
<polyline points="482.5,1066.6 482.5,1077 480.4,1077.3 482.5,1078.7 482.8,1100.4" fill="none" stroke="#c9906c" stroke-width="1"/>
<path d="M508.5,1038 L508.5,1073.5 Q513.4,1078.7 517.7,1074.9" fill="none" stroke="#b9bfd0" stroke-width="0.8" stroke-dasharray="6 2"/>
<path d="M570.6,1040.6 L570.6,1072.7 Q574.9,1077.9 579.6,1074.4" fill="none" stroke="#b9bfd0" stroke-width="0.8" stroke-dasharray="6 2"/>
<path d="M598.7,1044 L598.7,1106.5" fill="none" stroke="#c9cfe0" stroke-width="0.8" stroke-dasharray="5 3"/>
<circle cx="486.5" cy="1134.6" r="2.2" fill="none" stroke="#fff" stroke-width="1"/>
<polyline points="598.2,616.5 598.2,612.3 686.6,612.3 686.6,643" fill="none" stroke="#f4f4f4" stroke-width="1.5"/>
<polygon points="572,613.7 683.7,613.7 683.7,619 570,619" fill="#080808"/>
<rect x="568.6" y="616.8" width="29" height="29" fill="#4f4b4b" rx="3"/>
<rect x="597.6" y="616.8" width="29" height="29" fill="#4f4b4b" rx="3"/>
<rect x="626.6" y="616.8" width="29" height="29" fill="#4f4b4b" rx="3"/>
<rect x="655.6" y="616.8" width="28.2" height="29" fill="#4f4b4b" rx="3"/>
<polygon points="574,613.7 596,613.7 598,617.2 572,617.2" fill="#080808"/>
<polygon points="598,613.7 625.5,613.7 627.5,617.2 600.5,617.2" fill="#080808"/>
<polygon points="627.3,613.7 654.8,613.7 656.8,617.2 629.8,617.2" fill="#080808"/>
<polygon points="656.6,613.7 684.1,613.7 686.1,617.2 659.1,617.2" fill="#080808"/>
<polygon points="579.8,628.2 587.4,628.2 583.8,637 575.8,637" fill="#2e2416"/>
<rect x="575.8" y="636.7" width="8" height="8" fill="#d9b778"/>
<rect x="577.8" y="638.7" width="4" height="4" fill="#f6e6b8"/>
<polygon points="608.9,628.2 616.5,628.2 614.2,637 606.2,637" fill="#2e2416"/>
<rect x="606.2" y="636.7" width="8" height="8" fill="#d9b778"/>
<rect x="608.2" y="638.7" width="4" height="4" fill="#f6e6b8"/>
<polygon points="637.9,628.2 645.5,628.2 644.5,637 636.5,637" fill="#2e2416"/>
<rect x="636.5" y="636.7" width="8" height="8" fill="#d9b778"/>
<rect x="638.5" y="638.7" width="4" height="4" fill="#f6e6b8"/>
<polygon points="667,628.2 674.6,628.2 674.9,637 666.9,637" fill="#2e2416"/>
<rect x="666.9" y="636.7" width="8" height="8" fill="#d9b778"/>
<rect x="668.9" y="638.7" width="4" height="4" fill="#f6e6b8"/>
<polyline points="832.6,392.2 816.2,392.2 816.2,408.8" fill="none" stroke="#f4f4f4" stroke-width="1.5"/>
<polyline points="816.2,422.7 816.2,452.9 821,452.9" fill="none" stroke="#f4f4f4" stroke-width="1.5"/>
<rect x="817.3" y="394.6" width="6" height="57.6" fill="#080808" rx="2"/>
<rect x="818.9" y="394.1" width="30" height="29.8" fill="#4f4b4b" rx="3.2"/>
<rect x="818.9" y="423" width="30" height="29.8" fill="#4f4b4b" rx="3.2"/>
<polygon points="830.3,404.9 836.2,405.5 836.2,413.1 830.3,412.5" fill="#2a2012"/>
<rect x="836" y="405.5" width="7.6" height="7.6" fill="#d9b778"/>
<rect x="837.9" y="407.4" width="3.8" height="3.8" fill="#f6e6b8"/>
<polygon points="830.3,435.4 836.2,436 836.2,443.6 830.3,443" fill="#2a2012"/>
<rect x="836" y="436" width="7.6" height="7.6" fill="#d9b778"/>
<rect x="837.9" y="437.9" width="3.8" height="3.8" fill="#f6e6b8"/>
<polyline points="818,612.8 818,583.8 848.8,583.8 848.8,587.5" fill="none" stroke="#f4f4f4" stroke-width="1.5"/>
<polygon points="819,585.1 847.1,585.1 849.5,589 822,589 821,645 819,643" fill="#080808"/>
<rect x="820.7" y="587.3" width="29.2" height="29.6" fill="#4f4b4b" rx="3.4"/>
<rect x="820.7" y="615.6" width="29.2" height="29.6" fill="#4f4b4b" rx="3.4"/>
<polygon points="832.3,598.3 840,598.3 844.9,606 837.2,612.9" fill="#2e2416"/>
<polygon points="832.3,598.3 834.5,598.3 839,606.4 837.2,612.9" fill="#1c150c"/>
<rect x="837.2" y="606" width="7.7" height="7.7" fill="#d9b778"/>
<rect x="839.1" y="607.9" width="3.9" height="3.9" fill="#f6e6b8"/>
<polygon points="832.3,628.2 840,628.2 844.9,635.9 837.2,642.8" fill="#2e2416"/>
<polygon points="832.3,628.2 834.5,628.2 839,636.3 837.2,642.8" fill="#1c150c"/>
<rect x="837.2" y="635.9" width="7.7" height="7.7" fill="#d9b778"/>
<rect x="839.1" y="637.8" width="3.9" height="3.9" fill="#f6e6b8"/>
<polyline points="629.2,884 629.2,882.2 658.7,882.2 658.7,912" fill="none" stroke="#f4f4f4" stroke-width="1.5"/>
<polygon points="602,883.5 627,883.5 628.5,885.6 630,883.5 655.5,883.5 656.9,892.5 600.6,892.5" fill="#080808"/>
<rect x="600" y="890.6" width="28.8" height="28.4" fill="#4f4b4b" rx="3.2"/>
<rect x="628.2" y="890.6" width="28.8" height="28.4" fill="#4f4b4b" rx="3.2"/>
<polygon points="612,901.6 618,901.6 615.9,920 608.2,920" fill="#2e2416"/>
<rect x="608.1" y="919.5" width="7.8" height="7.8" fill="#d9b778"/>
<rect x="610.1" y="921.5" width="3.9" height="3.9" fill="#f6e6b8"/>
<polygon points="641.9,901.6 647.9,901.6 645.9,920 638.2,920" fill="#2e2416"/>
<rect x="638.1" y="919.5" width="7.8" height="7.8" fill="#d9b778"/>
<rect x="640.1" y="921.5" width="3.9" height="3.9" fill="#f6e6b8"/>
<polyline points="1014.8,928.5 1014.8,898.2 1044.5,898.2" fill="none" stroke="#f4f4f4" stroke-width="1.5"/>
<polyline points="1058.2,898.2 1074.1,898.2 1074.1,903" fill="none" stroke="#f4f4f4" stroke-width="1.5"/>
<polygon points="1016,900 1045,900 1049,907.4 1051.3,900.5 1070.1,900 1077.5,909 1021.7,909 1020.5,930.2 1016,927.9" fill="#050505"/>
<rect x="1021.1" y="907.4" width="57" height="27.3" fill="#4f4b4b" rx="3.5"/>
<polygon points="1031.7,918.5 1039.3,918.2 1051.3,937 1044,942" fill="#3a2d1a"/>
<polygon points="1031.7,918.5 1035.2,918.4 1047.4,939.7 1044,942" fill="#2a2012"/>
<rect x="1044.2" y="936.9" width="7.2" height="7.2" fill="#d9b778"/>
<rect x="1046.1" y="938.8" width="3.6" height="3.6" fill="#f4e2b4"/>
<polygon points="1061.5,918.5 1069.1,918.2 1081.1,937 1073.8,942" fill="#3a2d1a"/>
<polygon points="1061.5,918.5 1065,918.4 1077.2,939.7 1073.8,942" fill="#2a2012"/>
<rect x="1074" y="936.9" width="7.2" height="7.2" fill="#d9b778"/>
<rect x="1075.9" y="938.8" width="3.6" height="3.6" fill="#f4e2b4"/>
<rect x="392.2" y="495" width="26.4" height="26.8" fill="#6e4a34" rx="1"/>
<rect x="393.4" y="496.2" width="24" height="24.4" fill="#c2c2c2"/>
<rect x="392.2" y="541" width="26.4" height="27.4" fill="#6e4a34" rx="1"/>
<rect x="393.4" y="542.2" width="24" height="25" fill="#c2c2c2"/>
<rect x="398.2" y="513.7" width="13.2" height="36" fill="#a95c22"/>
<rect x="396.8" y="513.7" width="15.4" height="7" fill="#f4f6ff"/>
<rect x="397.6" y="541.7" width="15.4" height="7" fill="#f4f6ff"/>
<rect x="396.8" y="513.7" width="15.4" height="1" fill="#5a5a66"/>
<rect x="397.6" y="541.7" width="15.4" height="1" fill="#5a5a66"/>
<rect x="392" y="503" width="2.6" height="12" fill="#ffff22"/>
<rect x="416.6" y="503" width="2.6" height="12" fill="#ffff22"/>
<rect x="400" y="566" width="12" height="2.8" fill="#ffff22"/>
<rect x="536" y="494.4" width="26.6" height="26.8" fill="#6e4a34" rx="1"/>
<rect x="537.2" y="495.6" width="24.2" height="24.4" fill="#c2c2c2"/>
<rect x="536" y="540" width="26.6" height="27.2" fill="#6e4a34" rx="1"/>
<rect x="537.2" y="541.2" width="24.2" height="24.8" fill="#c2c2c2"/>
<rect x="542.8" y="513.1" width="12.4" height="35.4" fill="#a95c22"/>
<rect x="541.4" y="513.1" width="14.6" height="7" fill="#f4f6ff"/>
<rect x="542.2" y="540.5" width="14.6" height="7" fill="#f4f6ff"/>
<rect x="541.4" y="513.1" width="14.6" height="1" fill="#5a5a66"/>
<rect x="542.2" y="540.5" width="14.6" height="1" fill="#5a5a66"/>
<rect x="536" y="502" width="2.6" height="13" fill="#ffff22"/>
<rect x="560.6" y="502" width="2.6" height="13" fill="#ffff22"/>
<rect x="544" y="494" width="12" height="2.6" fill="#ffff22"/>
<rect x="545" y="565" width="7" height="2.8" fill="#ffff22"/>
<rect x="679.4" y="495" width="26" height="26.8" fill="#6e4a34" rx="1"/>
<rect x="680.6" y="496.2" width="23.6" height="24.4" fill="#c2c2c2"/>
<rect x="679.4" y="541" width="26" height="26.8" fill="#6e4a34" rx="1"/>
<rect x="680.6" y="542.2" width="23.6" height="24.4" fill="#c2c2c2"/>
<rect x="685.6" y="513.7" width="12.8" height="35.4" fill="#a95c22"/>
<rect x="684.2" y="513.7" width="15" height="7" fill="#f4f6ff"/>
<rect x="685" y="541.1" width="15" height="7" fill="#f4f6ff"/>
<rect x="684.2" y="513.7" width="15" height="1" fill="#5a5a66"/>
<rect x="685" y="541.1" width="15" height="1" fill="#5a5a66"/>
<rect x="679.2" y="503" width="2.6" height="12" fill="#ffff22"/>
<rect x="703.2" y="503" width="2.6" height="12" fill="#ffff22"/>
<rect x="688" y="565.8" width="7" height="2.6" fill="#ffff22"/>
<rect x="822" y="495.8" width="26.2" height="26" fill="#6e4a34" rx="1"/>
<rect x="823.2" y="497" width="23.8" height="23.6" fill="#c2c2c2"/>
<rect x="822" y="541" width="26.2" height="26.2" fill="#6e4a34" rx="1"/>
<rect x="823.2" y="542.2" width="23.8" height="23.8" fill="#c2c2c2"/>
<rect x="829" y="514.5" width="12.4" height="34" fill="#a95c22"/>
<rect x="827.6" y="514.5" width="14.6" height="7" fill="#f4f6ff"/>
<rect x="828.4" y="540.5" width="14.6" height="7" fill="#f4f6ff"/>
<rect x="827.6" y="514.5" width="14.6" height="1" fill="#5a5a66"/>
<rect x="828.4" y="540.5" width="14.6" height="1" fill="#5a5a66"/>
<rect x="821.8" y="503" width="2.6" height="12" fill="#ffff22"/>
<rect x="846" y="503" width="2.6" height="12" fill="#ffff22"/>
<rect x="822" y="548" width="2.6" height="12" fill="#ffff22"/>
<polygon points="1196.6,57.1 1223.9,57.1 1223,88.2 1208.7,88.9 1207.8,130.1 1222,130.1 1221.4,160.6 1194.1,161.8" fill="#504c4c"/>
<polygon points="1208.7,88.9 1223,88.2 1208.7,95.8" fill="#050505"/>
<polygon points="1194.1,161.8 1221.4,160.6 1194.1,172" fill="#050505"/>
</svg>
</body></html>
